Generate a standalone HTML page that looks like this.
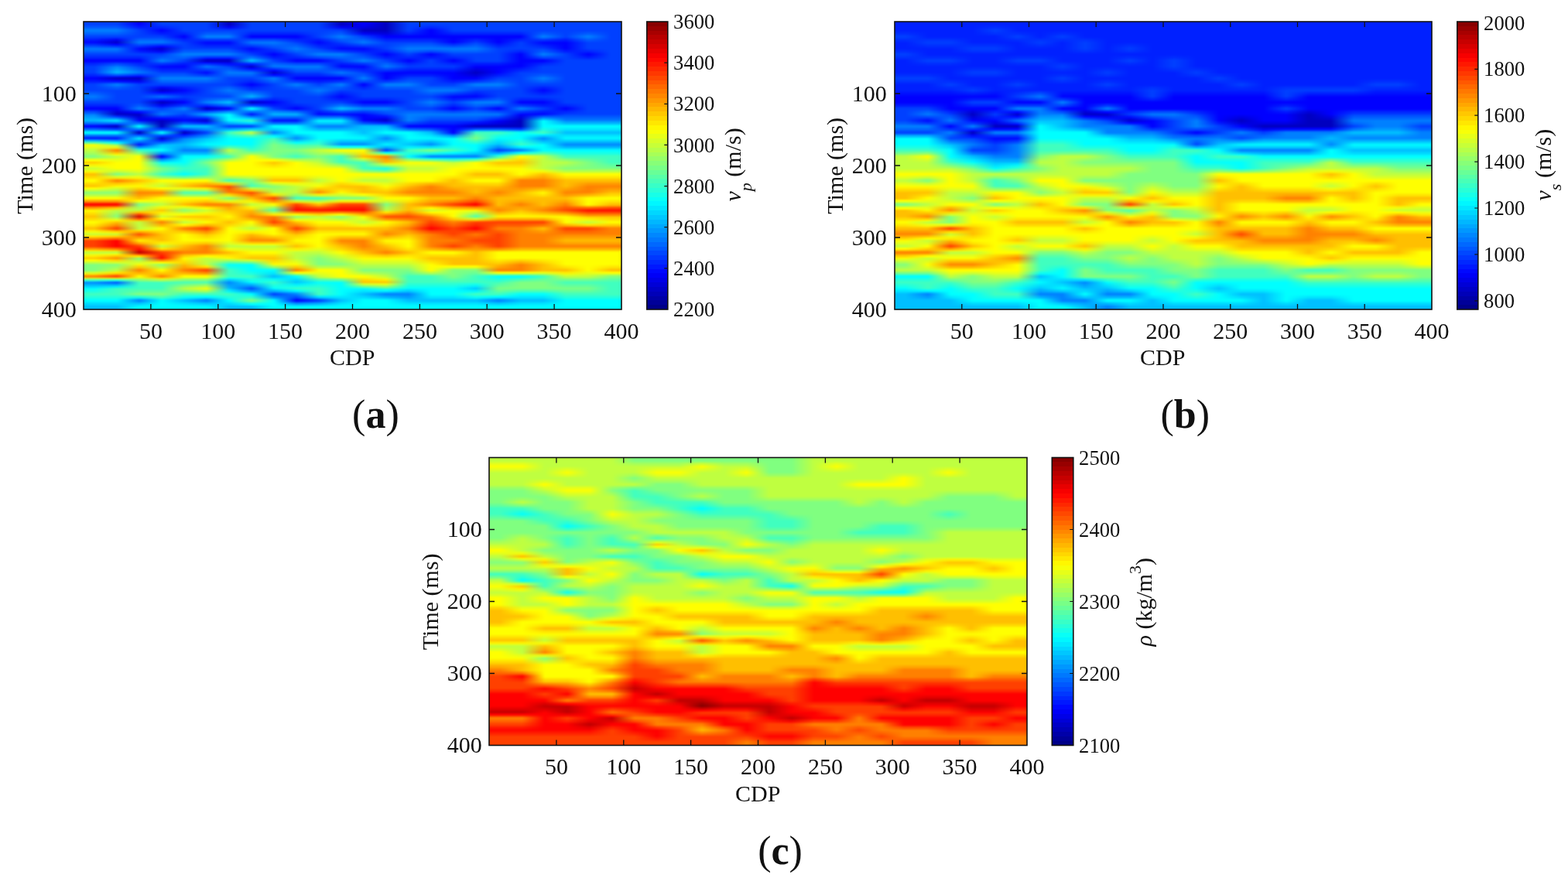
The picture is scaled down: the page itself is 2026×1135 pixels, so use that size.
<!DOCTYPE html><html><head><meta charset="utf-8"><style>
html,body{margin:0;padding:0;background:#fff;width:2026px;height:1135px;overflow:hidden}
.hm{position:absolute;overflow:hidden}
.hi{position:absolute}
.hi i{position:absolute;left:0;right:0;display:block}
svg{position:absolute;left:0;top:0}
text{font-family:"Liberation Serif","DejaVu Serif",serif;fill:#111}
</style></head><body>
<div class="hm" style="left:108px;top:28px;width:695px;height:372px"><div class="hi" style="left:-12px;top:-12px;width:719px;height:396px;filter:blur(1.3px)"><i style="top:0.00px;height:15.18px;background:linear-gradient(90deg,#0040ff 26px,#0040ff 55px,#00f 84px,#0040ff 113px,#0040ff 142px,#0040ff 171px,#0000c0 200px,#0040ff 229px,#0040ff 258px,#0040ff 287px,#0040ff 316px,#0000c0 345px,#00f 374px,#0000c0 403px,#0040ff 432px,#0040ff 461px,#0040ff 490px,#0040ff 519px,#0040ff 548px,#0040ff 577px,#0040ff 606px,#0040ff 635px,#0040ff 664px,#0040ff 693px)"></i><i style="top:14.58px;height:3.18px;background:linear-gradient(90deg,#0040ff 26px,#0040ff 55px,#00f 84px,#0040ff 113px,#0040ff 142px,#0040ff 171px,#0000c0 200px,#0040ff 229px,#0040ff 258px,#0040ff 287px,#0040ff 316px,#0000c0 345px,#00f 374px,#0000c0 403px,#0040ff 432px,#0040ff 461px,#0040ff 490px,#0040ff 519px,#0040ff 548px,#0040ff 577px,#0040ff 606px,#0040ff 635px,#0040ff 664px,#0040ff 693px)"></i><i style="top:17.17px;height:3.18px;background:linear-gradient(90deg,#05f 26px,#05f 55px,#0015ff 84px,#002bff 113px,#0040ff 142px,#0040ff 171px,#0000ea 200px,#0040ff 229px,#0040ff 258px,#0040ff 287px,#0040ff 316px,#0000ea 345px,#0000ea 374px,#0000c0 403px,#0040ff 432px,#002bff 461px,#0040ff 490px,#0040ff 519px,#0040ff 548px,#0040ff 577px,#0040ff 606px,#0040ff 635px,#0040ff 664px,#0040ff 693px)"></i><i style="top:19.75px;height:3.18px;background:linear-gradient(90deg,#006aff 26px,#006aff 55px,#002aff 84px,#0015ff 113px,#0040ff 142px,#0040ff 171px,#0015ff 200px,#0040ff 229px,#0040ff 258px,#0040ff 287px,#0040ff 316px,#0015ff 345px,#0000d5 374px,#0000c0 403px,#0040ff 432px,#0015ff 461px,#0040ff 490px,#0040ff 519px,#0040ff 548px,#0040ff 577px,#0040ff 606px,#0040ff 635px,#0040ff 664px,#0040ff 693px)"></i><i style="top:22.33px;height:3.18px;background:linear-gradient(90deg,#0080ff 26px,#0080ff 55px,#0040ff 84px,#00f 113px,#0040ff 142px,#0040ff 171px,#0040ff 200px,#0040ff 229px,#0040ff 258px,#0040ff 287px,#0040ff 316px,#0040ff 345px,#0000c0 374px,#0000c0 403px,#0040ff 432px,#00f 461px,#0040ff 490px,#0040ff 519px,#0040ff 548px,#0040ff 577px,#0040ff 606px,#0040ff 635px,#0040ff 664px,#0040ff 693px)"></i><i style="top:24.92px;height:3.18px;background:linear-gradient(90deg,#006aff 26px,#006aff 55px,#0040ff 84px,#0015ff 113px,#002aff 142px,#05f 171px,#05f 200px,#002aff 229px,#002aff 258px,#002aff 287px,#0040ff 316px,#05f 345px,#0000ea 374px,#0000d5 403px,#002aff 432px,#00f 461px,#002aff 490px,#002aff 519px,#002aff 548px,#002aff 577px,#05f 606px,#0040ff 635px,#05f 664px,#0040ff 693px)"></i><i style="top:27.50px;height:3.18px;background:linear-gradient(90deg,#05f 26px,#05f 55px,#0040ff 84px,#002aff 113px,#0015ff 142px,#006aff 171px,#006aff 200px,#0015ff 229px,#0015ff 258px,#0015ff 287px,#0040ff 316px,#006aff 345px,#0015ff 374px,#0000ea 403px,#0015ff 432px,#00f 461px,#0015ff 490px,#0015ff 519px,#0015ff 548px,#0015ff 577px,#006aff 606px,#0040ff 635px,#006aff 664px,#0040ff 693px)"></i><i style="top:30.08px;height:3.18px;background:linear-gradient(90deg,#0040ff 26px,#0040ff 55px,#0040ff 84px,#0040ff 113px,#00f 142px,#0080ff 171px,#0080ff 200px,#00f 229px,#00f 258px,#00f 287px,#0040ff 316px,#0080ff 345px,#0040ff 374px,#00f 403px,#00f 432px,#00f 461px,#00f 490px,#00f 519px,#00f 548px,#00f 577px,#0080ff 606px,#0040ff 635px,#0080ff 664px,#0040ff 693px)"></i><i style="top:32.67px;height:3.18px;background:linear-gradient(90deg,#002aff 26px,#0015ff 55px,#05f 84px,#05f 113px,#0015ff 142px,#05f 171px,#05f 200px,#002bff 229px,#002bff 258px,#0015ff 287px,#002aff 316px,#006aff 345px,#05f 374px,#0015ff 403px,#0015ff 432px,#0015ff 461px,#00f 490px,#0015ff 519px,#00f 548px,#0015ff 577px,#05f 606px,#002aff 635px,#006aff 664px,#0040ff 693px)"></i><i style="top:35.25px;height:3.18px;background:linear-gradient(90deg,#0015ff 26px,#0000ea 55px,#006aff 84px,#006aff 113px,#002aff 142px,#002bff 171px,#002bff 200px,#05f 229px,#05f 258px,#002aff 287px,#0015ff 316px,#05f 345px,#006aff 374px,#002aff 403px,#002aff 432px,#002aff 461px,#00f 490px,#002aff 519px,#00f 548px,#002aff 577px,#002bff 606px,#0015ff 635px,#05f 664px,#0040ff 693px)"></i><i style="top:37.83px;height:3.18px;background:linear-gradient(90deg,#00f 26px,#0000c0 55px,#0080ff 84px,#0080ff 113px,#0040ff 142px,#00f 171px,#00f 200px,#0080ff 229px,#0080ff 258px,#0040ff 287px,#00f 316px,#0040ff 345px,#0080ff 374px,#0040ff 403px,#0040ff 432px,#0040ff 461px,#00f 490px,#0040ff 519px,#00f 548px,#0040ff 577px,#00f 606px,#00f 635px,#0040ff 664px,#0040ff 693px)"></i><i style="top:40.42px;height:3.18px;background:linear-gradient(90deg,#002bff 26px,#00f 55px,#05f 84px,#0040ff 113px,#0040ff 142px,#0015ff 171px,#0015ff 200px,#05f 229px,#006aff 258px,#05f 287px,#0015ff 316px,#002aff 345px,#05f 374px,#0040ff 403px,#05f 432px,#05f 461px,#002bff 490px,#05f 519px,#0015ff 548px,#0040ff 577px,#0015ff 606px,#00f 635px,#0040ff 664px,#0040ff 693px)"></i><i style="top:43.00px;height:3.18px;background:linear-gradient(90deg,#05f 26px,#0040ff 55px,#002aff 84px,#00f 113px,#0040ff 142px,#002bff 171px,#002bff 200px,#002aff 229px,#05f 258px,#006aff 287px,#002bff 316px,#0015ff 345px,#002aff 374px,#0040ff 403px,#006aff 432px,#006aff 461px,#05f 490px,#006aff 519px,#002bff 548px,#0040ff 577px,#002bff 606px,#00f 635px,#0040ff 664px,#0040ff 693px)"></i><i style="top:45.58px;height:3.18px;background:linear-gradient(90deg,#0080ff 26px,#0080ff 55px,#00f 84px,#0000c0 113px,#0040ff 142px,#0040ff 171px,#0040ff 200px,#00f 229px,#0040ff 258px,#0080ff 287px,#0040ff 316px,#00f 345px,#00f 374px,#0040ff 403px,#0080ff 432px,#0080ff 461px,#0080ff 490px,#0080ff 519px,#0040ff 548px,#0040ff 577px,#0040ff 606px,#00f 635px,#0040ff 664px,#0040ff 693px)"></i><i style="top:48.17px;height:3.18px;background:linear-gradient(90deg,#006aff 26px,#006aff 55px,#0015ff 84px,#0000ea 113px,#05f 142px,#05f 171px,#05f 200px,#0015ff 229px,#002bff 258px,#006aff 287px,#05f 316px,#002aff 345px,#0015ff 374px,#002bff 403px,#006aff 432px,#05f 461px,#006aff 490px,#006aff 519px,#0040ff 548px,#002bff 577px,#05f 606px,#0015ff 635px,#002bff 664px,#0040ff 693px)"></i><i style="top:50.75px;height:3.18px;background:linear-gradient(90deg,#05f 26px,#05f 55px,#002bff 84px,#0015ff 113px,#006aff 142px,#006aff 171px,#006aff 200px,#002bff 229px,#0015ff 258px,#05f 287px,#006aff 316px,#05f 345px,#002bff 374px,#0015ff 403px,#05f 432px,#002aff 461px,#05f 490px,#05f 519px,#0040ff 548px,#0015ff 577px,#006aff 606px,#002bff 635px,#0015ff 664px,#0040ff 693px)"></i><i style="top:53.33px;height:3.18px;background:linear-gradient(90deg,#0040ff 26px,#0040ff 55px,#0040ff 84px,#0040ff 113px,#0080ff 142px,#0080ff 171px,#0080ff 200px,#0040ff 229px,#00f 258px,#0040ff 287px,#0080ff 316px,#0080ff 345px,#0040ff 374px,#00f 403px,#0040ff 432px,#00f 461px,#0040ff 490px,#0040ff 519px,#0040ff 548px,#00f 577px,#0080ff 606px,#0040ff 635px,#00f 664px,#0040ff 693px)"></i><i style="top:55.92px;height:3.18px;background:linear-gradient(90deg,#002bff 26px,#002bff 55px,#002bff 84px,#05f 113px,#006aff 142px,#0040ff 171px,#0040ff 200px,#006aff 229px,#0015ff 258px,#002bff 287px,#05f 316px,#006aff 345px,#05f 374px,#0015ff 403px,#002bff 432px,#0015ff 461px,#002bff 490px,#0040ff 519px,#0040ff 548px,#00f 577px,#05f 606px,#0040ff 635px,#0015ff 664px,#0040ff 693px)"></i><i style="top:58.50px;height:3.18px;background:linear-gradient(90deg,#0015ff 26px,#0015ff 55px,#0015ff 84px,#006aff 113px,#05f 142px,#00f 171px,#00f 200px,#0095ff 229px,#002bff 258px,#0015ff 287px,#002aff 316px,#05f 345px,#006aff 374px,#002bff 403px,#0015ff 432px,#002bff 461px,#0015ff 490px,#0040ff 519px,#0040ff 548px,#00f 577px,#002aff 606px,#0040ff 635px,#002bff 664px,#0040ff 693px)"></i><i style="top:61.08px;height:3.18px;background:linear-gradient(90deg,#00f 26px,#00f 55px,#00f 84px,#0080ff 113px,#0040ff 142px,#0000c0 171px,#0000c0 200px,#00bfff 229px,#0040ff 258px,#00f 287px,#00f 316px,#0040ff 345px,#0080ff 374px,#0040ff 403px,#00f 432px,#0040ff 461px,#00f 490px,#0040ff 519px,#0040ff 548px,#00f 577px,#00f 606px,#0040ff 635px,#0040ff 664px,#0040ff 693px)"></i><i style="top:63.67px;height:3.18px;background:linear-gradient(90deg,#0015ff 26px,#002aff 55px,#0015ff 84px,#05f 113px,#002bff 142px,#00f 171px,#0000ea 200px,#006aff 229px,#05f 258px,#002aff 287px,#002aff 316px,#002bff 345px,#05f 374px,#05f 403px,#0015ff 432px,#0040ff 461px,#0015ff 490px,#002bff 519px,#002bff 548px,#00f 577px,#0015ff 606px,#0040ff 635px,#0040ff 664px,#0040ff 693px)"></i><i style="top:66.25px;height:3.18px;background:linear-gradient(90deg,#002bff 26px,#05f 55px,#002bff 84px,#002aff 113px,#0015ff 142px,#0040ff 171px,#0015ff 200px,#0015ff 229px,#006aff 258px,#05f 287px,#05f 316px,#0015ff 345px,#002aff 374px,#006aff 403px,#002bff 432px,#0040ff 461px,#002bff 490px,#0015ff 519px,#0015ff 548px,#00f 577px,#002bff 606px,#0040ff 635px,#0040ff 664px,#0040ff 693px)"></i><i style="top:68.83px;height:3.18px;background:linear-gradient(90deg,#0040ff 26px,#0080ff 55px,#0040ff 84px,#00f 113px,#00f 142px,#0080ff 171px,#0040ff 200px,#0000c0 229px,#0080ff 258px,#0080ff 287px,#0080ff 316px,#00f 345px,#00f 374px,#0080ff 403px,#0040ff 432px,#0040ff 461px,#0040ff 490px,#00f 519px,#00f 548px,#00f 577px,#0040ff 606px,#0040ff 635px,#0040ff 664px,#0040ff 693px)"></i><i style="top:71.42px;height:3.18px;background:linear-gradient(90deg,#0040ff 26px,#0095ff 55px,#05f 84px,#0015ff 113px,#0015ff 142px,#05f 171px,#05f 200px,#00f 229px,#0040ff 258px,#006aff 287px,#006aff 316px,#002aff 345px,#0015ff 374px,#05f 403px,#002bff 432px,#002bff 461px,#002bff 490px,#0000ea 519px,#00f 548px,#0015ff 577px,#0040ff 606px,#0040ff 635px,#0040ff 664px,#0040ff 693px)"></i><i style="top:74.00px;height:3.18px;background:linear-gradient(90deg,#0040ff 26px,#0af 55px,#006aff 84px,#002aff 113px,#002aff 142px,#002bff 171px,#006aff 200px,#0040ff 229px,#00f 258px,#05f 287px,#05f 316px,#05f 345px,#002aff 374px,#002bff 403px,#0015ff 432px,#0015ff 461px,#0015ff 490px,#0000d5 519px,#00f 548px,#002aff 577px,#0040ff 606px,#0040ff 635px,#0040ff 664px,#0040ff 693px)"></i><i style="top:76.58px;height:3.18px;background:linear-gradient(90deg,#0040ff 26px,#00bfff 55px,#0080ff 84px,#0040ff 113px,#0040ff 142px,#00f 171px,#0080ff 200px,#0080ff 229px,#0000c0 258px,#0040ff 287px,#0040ff 316px,#0080ff 345px,#0040ff 374px,#00f 403px,#00f 432px,#00f 461px,#00f 490px,#0000c0 519px,#00f 548px,#0040ff 577px,#0040ff 606px,#0040ff 635px,#0040ff 664px,#0040ff 693px)"></i><i style="top:79.17px;height:3.18px;background:linear-gradient(90deg,#002aff 26px,#006aff 55px,#0040ff 84px,#05f 113px,#05f 142px,#002bff 171px,#006aff 200px,#006aff 229px,#00f 258px,#002aff 287px,#002aff 316px,#05f 345px,#05f 374px,#00f 403px,#0015ff 432px,#0015ff 461px,#00f 490px,#0000d5 519px,#0015ff 548px,#0040ff 577px,#05f 606px,#0040ff 635px,#0040ff 664px,#0040ff 693px)"></i><i style="top:81.75px;height:3.18px;background:linear-gradient(90deg,#0015ff 26px,#0015ff 55px,#00f 84px,#006aff 113px,#006aff 142px,#05f 171px,#05f 200px,#05f 229px,#0040ff 258px,#0015ff 287px,#0015ff 316px,#002bff 345px,#006aff 374px,#00f 403px,#002aff 432px,#002aff 461px,#00f 490px,#0000ea 519px,#002aff 548px,#0040ff 577px,#006aff 606px,#0040ff 635px,#0040ff 664px,#0040ff 693px)"></i><i style="top:84.33px;height:3.18px;background:linear-gradient(90deg,#00f 26px,#0000c0 55px,#0000c0 84px,#0080ff 113px,#0080ff 142px,#0080ff 171px,#0040ff 200px,#0040ff 229px,#0080ff 258px,#00f 287px,#00f 316px,#00f 345px,#0080ff 374px,#00f 403px,#0040ff 432px,#0040ff 461px,#00f 490px,#00f 519px,#0040ff 548px,#0040ff 577px,#0080ff 606px,#0040ff 635px,#0040ff 664px,#0040ff 693px)"></i><i style="top:86.92px;height:3.18px;background:linear-gradient(90deg,#0015ff 26px,#00f 55px,#0000ea 84px,#006aff 113px,#006aff 142px,#006aff 171px,#0040ff 200px,#002aff 229px,#006aff 258px,#002bff 287px,#0015ff 316px,#002bff 345px,#05f 374px,#002bff 403px,#05f 432px,#0040ff 461px,#0015ff 490px,#002bff 519px,#05f 548px,#0040ff 577px,#006aff 606px,#0040ff 635px,#0040ff 664px,#0040ff 693px)"></i><i style="top:89.50px;height:3.18px;background:linear-gradient(90deg,#002aff 26px,#0040ff 55px,#0015ff 84px,#05f 113px,#05f 142px,#05f 171px,#0040ff 200px,#0015ff 229px,#05f 258px,#05f 287px,#002aff 316px,#05f 345px,#002bff 374px,#05f 403px,#006aff 432px,#0040ff 461px,#002aff 490px,#05f 519px,#006aff 548px,#0040ff 577px,#05f 606px,#0040ff 635px,#0040ff 664px,#0040ff 693px)"></i><i style="top:92.08px;height:3.18px;background:linear-gradient(90deg,#0040ff 26px,#0080ff 55px,#0040ff 84px,#0040ff 113px,#0040ff 142px,#0040ff 171px,#0040ff 200px,#00f 229px,#0040ff 258px,#0080ff 287px,#0040ff 316px,#0080ff 345px,#00f 374px,#0080ff 403px,#0080ff 432px,#0040ff 461px,#0040ff 490px,#0080ff 519px,#0080ff 548px,#0040ff 577px,#0040ff 606px,#0040ff 635px,#0040ff 664px,#0040ff 693px)"></i><i style="top:94.67px;height:3.18px;background:linear-gradient(90deg,#0040ff 26px,#006aff 55px,#0040ff 84px,#0015ff 113px,#002aff 142px,#0040ff 171px,#05f 200px,#0015ff 229px,#0040ff 258px,#006aff 287px,#05f 316px,#006aff 345px,#0015ff 374px,#006aff 403px,#006aff 432px,#05f 461px,#05f 490px,#006aff 519px,#006aff 548px,#0040ff 577px,#002aff 606px,#0040ff 635px,#0040ff 664px,#0040ff 693px)"></i><i style="top:97.25px;height:3.18px;background:linear-gradient(90deg,#0040ff 26px,#05f 55px,#0040ff 84px,#0000ea 113px,#0015ff 142px,#0040ff 171px,#006aff 200px,#002aff 229px,#0040ff 258px,#05f 287px,#006aff 316px,#05f 345px,#002aff 374px,#05f 403px,#05f 432px,#006aff 461px,#006aff 490px,#05f 519px,#05f 548px,#0040ff 577px,#0015ff 606px,#0040ff 635px,#0040ff 664px,#0040ff 693px)"></i><i style="top:99.83px;height:3.18px;background:linear-gradient(90deg,#0040ff 26px,#0040ff 55px,#0040ff 84px,#0000c0 113px,#00f 142px,#0040ff 171px,#0080ff 200px,#0040ff 229px,#0040ff 258px,#0040ff 287px,#0080ff 316px,#0040ff 345px,#0040ff 374px,#0040ff 403px,#0040ff 432px,#0080ff 461px,#0080ff 490px,#0040ff 519px,#0040ff 548px,#0040ff 577px,#00f 606px,#0040ff 635px,#0040ff 664px,#0040ff 693px)"></i><i style="top:102.42px;height:3.18px;background:linear-gradient(90deg,#05f 26px,#0040ff 55px,#0040ff 84px,#00f 113px,#0015ff 142px,#0040ff 171px,#006aff 200px,#006aff 229px,#0040ff 258px,#0040ff 287px,#006aff 316px,#002aff 345px,#0040ff 374px,#0040ff 403px,#0040ff 432px,#006aff 461px,#05f 490px,#002aff 519px,#0040ff 548px,#0040ff 577px,#0015ff 606px,#0040ff 635px,#0040ff 664px,#0040ff 693px)"></i><i style="top:105.00px;height:3.18px;background:linear-gradient(90deg,#006aff 26px,#0040ff 55px,#0040ff 84px,#0040ff 113px,#002aff 142px,#0040ff 171px,#05f 200px,#0095ff 229px,#0040ff 258px,#0040ff 287px,#05f 316px,#0015ff 345px,#0040ff 374px,#0040ff 403px,#0040ff 432px,#05f 461px,#002bff 490px,#0015ff 519px,#0040ff 548px,#0040ff 577px,#002aff 606px,#0040ff 635px,#0040ff 664px,#0040ff 693px)"></i><i style="top:107.58px;height:3.18px;background:linear-gradient(90deg,#0080ff 26px,#0040ff 55px,#0040ff 84px,#0080ff 113px,#0040ff 142px,#0040ff 171px,#0040ff 200px,#00bfff 229px,#0040ff 258px,#0040ff 287px,#0040ff 316px,#00f 345px,#0040ff 374px,#0040ff 403px,#0040ff 432px,#0040ff 461px,#00f 490px,#00f 519px,#0040ff 548px,#0040ff 577px,#0040ff 606px,#0040ff 635px,#0040ff 664px,#0040ff 693px)"></i><i style="top:110.17px;height:3.18px;background:linear-gradient(90deg,#006aff 26px,#0040ff 55px,#0040ff 84px,#0040ff 113px,#002aff 142px,#05f 171px,#006aff 200px,#006aff 229px,#002aff 258px,#0040ff 287px,#0040ff 316px,#0015ff 345px,#002aff 374px,#002aff 403px,#0040ff 432px,#05f 461px,#0015ff 490px,#002bff 519px,#05f 548px,#002aff 577px,#002aff 606px,#0040ff 635px,#0040ff 664px,#0040ff 693px)"></i><i style="top:112.75px;height:3.18px;background:linear-gradient(90deg,#05f 26px,#0040ff 55px,#0040ff 84px,#00f 113px,#0015ff 142px,#006aff 171px,#0095ff 200px,#0015ff 229px,#0015ff 258px,#0040ff 287px,#0040ff 316px,#002aff 345px,#0015ff 374px,#0015ff 403px,#0040ff 432px,#006aff 461px,#002aff 490px,#05f 519px,#006aff 548px,#0015ff 577px,#0015ff 606px,#0040ff 635px,#0040ff 664px,#0040ff 693px)"></i><i style="top:115.33px;height:3.18px;background:linear-gradient(90deg,#0040ff 26px,#0040ff 55px,#0040ff 84px,#0000c0 113px,#00f 142px,#0080ff 171px,#00bfff 200px,#0000c0 229px,#00f 258px,#0040ff 287px,#0040ff 316px,#0040ff 345px,#00f 374px,#00f 403px,#0040ff 432px,#0080ff 461px,#0040ff 490px,#0080ff 519px,#0080ff 548px,#00f 577px,#00f 606px,#0040ff 635px,#0040ff 664px,#0040ff 693px)"></i><i style="top:117.92px;height:3.18px;background:linear-gradient(90deg,#002aff 26px,#002aff 55px,#05f 84px,#0000ea 113px,#002bff 142px,#0040ff 171px,#007fff 200px,#002bff 229px,#0015ff 258px,#002aff 287px,#0040ff 316px,#006aff 345px,#002bff 374px,#002bff 403px,#0040ff 432px,#006aff 461px,#002aff 490px,#006aff 519px,#05f 548px,#002bff 577px,#0015ff 606px,#002aff 635px,#0040ff 664px,#0040ff 693px)"></i><i style="top:120.50px;height:3.18px;background:linear-gradient(90deg,#0015ff 26px,#0015ff 55px,#006aff 84px,#0015ff 113px,#05f 142px,#00f 171px,#0040ff 200px,#0095ff 229px,#002aff 258px,#0015ff 287px,#0040ff 316px,#0095ff 345px,#05f 374px,#05f 403px,#0040ff 432px,#05f 461px,#0015ff 490px,#05f 519px,#002bff 548px,#05f 577px,#002aff 606px,#0015ff 635px,#0040ff 664px,#0040ff 693px)"></i><i style="top:123.08px;height:3.18px;background:linear-gradient(90deg,#00f 26px,#00f 55px,#0080ff 84px,#0040ff 113px,#0080ff 142px,#0000c0 171px,#00f 200px,#0ff 229px,#0040ff 258px,#00f 287px,#0040ff 316px,#00bfff 345px,#0080ff 374px,#0080ff 403px,#0040ff 432px,#0040ff 461px,#00f 490px,#0040ff 519px,#00f 548px,#0080ff 577px,#0040ff 606px,#00f 635px,#0040ff 664px,#0040ff 693px)"></i><i style="top:125.67px;height:3.18px;background:linear-gradient(90deg,#002bff 26px,#0000ea 55px,#0040ff 84px,#05f 113px,#006aff 142px,#0015ff 171px,#05f 200px,#0af 229px,#006aff 258px,#0040ff 287px,#002aff 316px,#007fff 345px,#05f 374px,#006aff 403px,#05f 432px,#05f 461px,#002bff 490px,#05f 519px,#002bff 548px,#05f 577px,#002aff 606px,#0015ff 635px,#0040ff 664px,#0040ff 693px)"></i><i style="top:128.25px;height:3.18px;background:linear-gradient(90deg,#05f 26px,#0000d5 55px,#00f 84px,#006aff 113px,#05f 142px,#006aff 171px,#0af 200px,#05f 229px,#0095ff 258px,#007fff 287px,#0015ff 316px,#0040ff 345px,#002bff 374px,#05f 403px,#006aff 432px,#006aff 461px,#05f 490px,#006aff 519px,#05f 548px,#002bff 577px,#0015ff 606px,#002aff 635px,#0040ff 664px,#0040ff 693px)"></i><i style="top:130.83px;height:3.18px;background:linear-gradient(90deg,#0080ff 26px,#0000c0 55px,#0000c0 84px,#0080ff 113px,#0040ff 142px,#00bfff 171px,#0ff 200px,#00f 229px,#00bfff 258px,#00bfff 287px,#00f 316px,#00f 345px,#00f 374px,#0040ff 403px,#0080ff 432px,#0080ff 461px,#0080ff 490px,#0080ff 519px,#0080ff 548px,#00f 577px,#00f 606px,#0040ff 635px,#0040ff 664px,#0040ff 693px)"></i><i style="top:133.42px;height:3.18px;background:linear-gradient(90deg,#0095ff 26px,#002bff 55px,#0000d5 84px,#0040ff 113px,#002aff 142px,#006aff 171px,#0ff 200px,#006aff 229px,#007fff 258px,#007fff 287px,#05f 316px,#05f 345px,#00f 374px,#0015ff 403px,#0080ff 432px,#006aff 461px,#006aff 490px,#006aff 519px,#05f 548px,#0000ea 577px,#05f 606px,#05f 635px,#05f 664px,#05f 693px)"></i><i style="top:136.00px;height:3.18px;background:linear-gradient(90deg,#0af 26px,#0095ff 55px,#0000ea 84px,#00f 113px,#0015ff 142px,#0015ff 171px,#0ff 200px,#00d5ff 229px,#0040ff 258px,#0040ff 287px,#0af 316px,#0af 345px,#00f 374px,#0000ea 403px,#0080ff 432px,#05f 461px,#05f 490px,#05f 519px,#002aff 548px,#0000d5 577px,#0af 606px,#006aff 635px,#006aff 664px,#006aff 693px)"></i><i style="top:138.58px;height:3.18px;background:linear-gradient(90deg,#00bfff 26px,#0ff 55px,#00f 84px,#0000c0 113px,#00f 142px,#0000c0 171px,#0ff 200px,#40ffbf 229px,#00f 258px,#00f 287px,#0ff 316px,#0ff 345px,#00f 374px,#0000c0 403px,#0080ff 432px,#0040ff 461px,#0040ff 490px,#0040ff 519px,#00f 548px,#0000c0 577px,#0ff 606px,#0080ff 635px,#0080ff 664px,#0080ff 693px)"></i><i style="top:141.17px;height:3.18px;background:linear-gradient(90deg,#0080ff 26px,#0095ff 55px,#05f 84px,#0000c0 113px,#0040ff 142px,#0015ff 171px,#00bfff 200px,#00eaff 229px,#05f 258px,#05f 287px,#00d5ff 316px,#00d5ff 345px,#0040ff 374px,#0015ff 403px,#05f 432px,#002bff 461px,#002bff 490px,#0015ff 519px,#0000ea 548px,#0000c0 577px,#0ff 606px,#0af 635px,#0af 664px,#0af 693px)"></i><i style="top:143.75px;height:3.18px;background:linear-gradient(90deg,#0040ff 26px,#002aff 55px,#0af 84px,#0000c0 113px,#0080ff 142px,#006aff 171px,#007fff 200px,#0095ff 229px,#0af 258px,#0af 287px,#0af 316px,#0af 345px,#0080ff 374px,#006aff 403px,#002aff 432px,#0015ff 461px,#0015ff 490px,#0000ea 519px,#0000d5 548px,#0000c0 577px,#0ff 606px,#00d5ff 635px,#00d5ff 664px,#00d5ff 693px)"></i><i style="top:146.33px;height:3.18px;background:linear-gradient(90deg,#00f 26px,#0000c0 55px,#0ff 84px,#0000c0 113px,#00bfff 142px,#00bfff 171px,#0040ff 200px,#0040ff 229px,#0ff 258px,#0ff 287px,#0080ff 316px,#0080ff 345px,#00bfff 374px,#00bfff 403px,#00f 432px,#00f 461px,#00f 490px,#0000c0 519px,#0000c0 548px,#0000c0 577px,#0ff 606px,#0ff 635px,#0ff 664px,#0ff 693px)"></i><i style="top:148.92px;height:3.18px;background:linear-gradient(90deg,#05f 26px,#002aff 55px,#0095ff 84px,#002aff 113px,#006aff 142px,#0095ff 171px,#0095ff 200px,#00bfff 229px,#00d5ff 258px,#0ff 287px,#0af 316px,#0af 345px,#00bfff 374px,#00d4ff 403px,#05f 432px,#0040ff 461px,#00f 490px,#0040ff 519px,#0040ff 548px,#002aff 577px,#15ffea 606px,#00eaff 635px,#00eaff 664px,#00eaff 693px)"></i><i style="top:151.50px;height:3.18px;background:linear-gradient(90deg,#0af 26px,#0095ff 55px,#002aff 84px,#0095ff 113px,#0015ff 142px,#006aff 171px,#00eaff 200px,#40ffbf 229px,#0af 258px,#0ff 287px,#00d5ff 316px,#00d5ff 345px,#00bfff 374px,#00eaff 403px,#0af 432px,#0080ff 461px,#00f 490px,#00bfff 519px,#00bfff 548px,#0095ff 577px,#2bffd4 606px,#00d4ff 635px,#00d4ff 664px,#00d4ff 693px)"></i><i style="top:154.08px;height:3.18px;background:linear-gradient(90deg,#0ff 26px,#0ff 55px,#0000c0 84px,#0ff 113px,#0000c0 142px,#0040ff 171px,#40ffbf 200px,#bfff40 229px,#0080ff 258px,#0ff 287px,#0ff 316px,#0ff 345px,#00bfff 374px,#0ff 403px,#0ff 432px,#00bfff 461px,#00f 490px,#40ffbf 519px,#40ffbf 548px,#0ff 577px,#40ffbf 606px,#00bfff 635px,#00bfff 664px,#00bfff 693px)"></i><i style="top:156.67px;height:3.18px;background:linear-gradient(90deg,#0af 26px,#0af 55px,#002aff 84px,#0095ff 113px,#00f 142px,#006aff 171px,#2bffd4 200px,#80ff7f 229px,#00bfff 258px,#00d5ff 287px,#0ff 316px,#0ff 345px,#00d4ff 374px,#00d5ff 403px,#0ff 432px,#00d4ff 461px,#05f 490px,#5fa 519px,#2bffd4 548px,#0ff 577px,#0ff 606px,#00d4ff 635px,#00d4ff 664px,#00d4ff 693px)"></i><i style="top:159.25px;height:3.18px;background:linear-gradient(90deg,#05f 26px,#05f 55px,#0095ff 84px,#002aff 113px,#0040ff 142px,#0095ff 171px,#15ffea 200px,#40ffbf 229px,#0ff 258px,#0af 287px,#0ff 316px,#0ff 345px,#00eaff 374px,#0af 403px,#0ff 432px,#00eaff 461px,#0af 490px,#6aff95 519px,#15ffea 548px,#0ff 577px,#00bfff 606px,#00eaff 635px,#00eaff 664px,#00eaff 693px)"></i><i style="top:161.83px;height:3.18px;background:linear-gradient(90deg,#00f 26px,#00f 55px,#0ff 84px,#0000c0 113px,#0080ff 142px,#00bfff 171px,#0ff 200px,#0ff 229px,#40ffbf 258px,#0080ff 287px,#0ff 316px,#0ff 345px,#0ff 374px,#0080ff 403px,#0ff 432px,#0ff 461px,#0ff 490px,#80ff80 519px,#0ff 548px,#0ff 577px,#0080ff 606px,#0ff 635px,#0ff 664px,#0ff 693px)"></i><i style="top:164.42px;height:3.18px;background:linear-gradient(90deg,#0af 26px,#007fff 55px,#0af 84px,#0015ff 113px,#0095ff 142px,#00d4ff 171px,#0ff 200px,#0ff 229px,#5fa 258px,#00bfff 287px,#15ffea 316px,#00d5ff 345px,#00d5ff 374px,#0af 403px,#00eaff 432px,#00d5ff 461px,#0ff 490px,#5fa 519px,#00eaff 548px,#15ffea 577px,#0af 606px,#00d5ff 635px,#00d5ff 664px,#00d5ff 693px)"></i><i style="top:167.00px;height:3.18px;background:linear-gradient(90deg,#5fa 26px,#0ff 55px,#05f 84px,#006aff 113px,#0af 142px,#00eaff 171px,#0ff 200px,#0ff 229px,#6aff95 258px,#0ff 287px,#2bffd4 316px,#0af 345px,#0af 374px,#00d5ff 403px,#00d4ff 432px,#0af 461px,#0ff 490px,#2affd5 519px,#00d4ff 548px,#2bffd4 577px,#00d5ff 606px,#0af 635px,#0af 664px,#0af 693px)"></i><i style="top:169.58px;height:3.18px;background:linear-gradient(90deg,#ff0 26px,#80ff80 55px,#00f 84px,#00bfff 113px,#00bfff 142px,#0ff 171px,#0ff 200px,#0ff 229px,#80ff80 258px,#40ffbf 287px,#40ffbf 316px,#0080ff 345px,#0080ff 374px,#0ff 403px,#00bfff 432px,#0080ff 461px,#0ff 490px,#0ff 519px,#00bfff 548px,#40ffbf 577px,#0ff 606px,#0080ff 635px,#0080ff 664px,#0080ff 693px)"></i><i style="top:172.17px;height:3.18px;background:linear-gradient(90deg,#eaff15 26px,#d4ff2b 55px,#006aff 84px,#00d4ff 113px,#0af 142px,#00d5ff 171px,#40ffbf 200px,#15ffea 229px,#80ff80 258px,#5fa 287px,#6aff95 316px,#0ff 345px,#0ff 374px,#00bfff 403px,#00eaff 432px,#00d4ff 461px,#15ffea 490px,#0ff 519px,#0095ff 548px,#0ff 577px,#0ff 606px,#0af 635px,#0af 664px,#0af 693px)"></i><i style="top:174.75px;height:3.18px;background:linear-gradient(90deg,#d4ff2b 26px,#ffd400 55px,#00d5ff 84px,#00eaff 113px,#0095ff 142px,#0af 171px,#80ff7f 200px,#2bffd4 229px,#80ff80 258px,#6aff95 287px,#95ff6a 316px,#80ff7f 345px,#80ff7f 374px,#007fff 403px,#15ffea 432px,#2bffd4 461px,#2bffd4 490px,#0ff 519px,#006aff 548px,#00bfff 577px,#0ff 606px,#00d5ff 635px,#00d5ff 664px,#00d5ff 693px)"></i><i style="top:177.33px;height:3.18px;background:linear-gradient(90deg,#bfff40 26px,#ff8000 55px,#40ffbf 84px,#0ff 113px,#0080ff 142px,#0080ff 171px,#bfff40 200px,#40ffbf 229px,#80ff80 258px,#80ff80 287px,#bfff40 316px,#ff0 345px,#ff0 374px,#0040ff 403px,#40ffbf 432px,#80ff80 461px,#40ffbf 490px,#0ff 519px,#0040ff 548px,#0080ff 577px,#0ff 606px,#0ff 635px,#0ff 664px,#0ff 693px)"></i><i style="top:179.92px;height:3.18px;background:linear-gradient(90deg,#af5 26px,#ffbf00 55px,#7fff80 84px,#0af 113px,#0af 142px,#0af 171px,#95ff6a 200px,#7fff80 229px,#80ff80 258px,#6aff95 287px,#af5 316px,#bfff40 345px,#ffea00 374px,#0ff 403px,#2bffd4 432px,#2bffd4 461px,#0ff 490px,#00d5ff 519px,#0095ff 548px,#0ff 577px,#40ffbf 606px,#15ffea 635px,#15ffea 664px,#15ffea 693px)"></i><i style="top:182.50px;height:3.18px;background:linear-gradient(90deg,#95ff6a 26px,#ff0 55px,#bfff40 84px,#05f 113px,#00d5ff 142px,#00d5ff 171px,#6aff95 200px,#bfff40 229px,#80ff80 258px,#5fa 287px,#95ff6a 316px,#7fff80 345px,#ffd400 374px,#bfff40 403px,#15ffea 432px,#00d4ff 461px,#00bfff 490px,#0af 519px,#00eaff 548px,#80ff7f 577px,#80ff7f 606px,#2bffd4 635px,#2bffd4 664px,#2bffd4 693px)"></i><i style="top:185.08px;height:3.18px;background:linear-gradient(90deg,#80ff80 26px,#bfff40 55px,#ff0 84px,#00f 113px,#0ff 142px,#0ff 171px,#40ffbf 200px,#ff0 229px,#80ff80 258px,#40ffbf 287px,#80ff80 316px,#40ffbf 345px,#ffbf00 374px,#ff8000 403px,#0ff 432px,#0080ff 461px,#0080ff 490px,#0080ff 519px,#40ffbf 548px,#ff0 577px,#bfff40 606px,#40ffbf 635px,#40ffbf 664px,#40ffbf 693px)"></i><i style="top:187.67px;height:3.18px;background:linear-gradient(90deg,#bfff40 26px,#d4ff2b 55px,#ff0 84px,#05f 113px,#0ff 142px,#2affd5 171px,#7fff80 200px,#ff0 229px,#bfff40 258px,#7fff80 287px,#95ff6a 316px,#40ffbf 345px,#eaff15 374px,#ff9500 403px,#5fa 432px,#0ff 461px,#00eaff 490px,#0ff 519px,#95ff6a 548px,#ffea00 577px,#bfff40 606px,#6aff95 635px,#5fa 664px,#40ffbf 693px)"></i><i style="top:190.25px;height:3.18px;background:linear-gradient(90deg,#ff0 26px,#eaff15 55px,#ff0 84px,#0af 113px,#0ff 142px,#5fa 171px,#bfff40 200px,#ff0 229px,#ff0 258px,#bfff40 287px,#af5 316px,#40ffbf 345px,#95ff6a 374px,#fa0 403px,#af5 432px,#80ff7f 461px,#5fa 490px,#80ff7f 519px,#eaff15 548px,#ffd400 577px,#bfff40 606px,#95ff6a 635px,#6aff95 664px,#40ffbf 693px)"></i><i style="top:192.83px;height:3.18px;background:linear-gradient(90deg,#ffbf00 26px,#ff0 55px,#ff0 84px,#0ff 113px,#0ff 142px,#80ff80 171px,#ff0 200px,#ff0 229px,#ffbf00 258px,#ff0 287px,#bfff40 316px,#40ffbf 345px,#40ffbf 374px,#ffbf00 403px,#ff0 432px,#ff0 461px,#bfff40 490px,#ff0 519px,#ffbf00 548px,#ffbf00 577px,#bfff40 606px,#bfff40 635px,#80ff80 664px,#40ffbf 693px)"></i><i style="top:195.42px;height:3.18px;background:linear-gradient(90deg,#ffea00 26px,#ff0 55px,#ff0 84px,#2affd5 113px,#15ffea 142px,#6aff95 171px,#ff0 200px,#ff0 229px,#ffd400 258px,#ff0 287px,#d4ff2b 316px,#7fff80 345px,#40ffbf 374px,#d5ff2a 403px,#eaff15 432px,#eaff15 461px,#d4ff2b 490px,#ff0 519px,#ffd400 548px,#ffd400 577px,#bfff40 606px,#af5 635px,#80ff80 664px,#5fa 693px)"></i><i style="top:198.00px;height:3.18px;background:linear-gradient(90deg,#eaff15 26px,#ff0 55px,#ff0 84px,#5fa 113px,#2bffd4 142px,#5fa 171px,#ff0 200px,#ff0 229px,#ffea00 258px,#ff0 287px,#eaff15 316px,#bfff40 345px,#40ffbf 374px,#6aff95 403px,#d4ff2b 432px,#d4ff2b 461px,#eaff15 490px,#ff0 519px,#ffea00 548px,#ffea00 577px,#bfff40 606px,#95ff6a 635px,#80ff80 664px,#6aff95 693px)"></i><i style="top:200.58px;height:3.18px;background:linear-gradient(90deg,#bfff40 26px,#ff0 55px,#ff0 84px,#80ff80 113px,#40ffbf 142px,#40ffbf 171px,#ff0 200px,#ff0 229px,#ff0 258px,#ff0 287px,#ff0 316px,#ff0 345px,#40ffbf 374px,#0ff 403px,#bfff40 432px,#bfff40 461px,#ff0 490px,#ff0 519px,#ff0 548px,#ff0 577px,#bfff40 606px,#80ff80 635px,#80ff80 664px,#80ff80 693px)"></i><i style="top:203.17px;height:3.18px;background:linear-gradient(90deg,#eaff15 26px,#d5ff2a 55px,#eaff15 84px,#6aff95 113px,#2bffd4 142px,#40ffbf 171px,#ff0 200px,#ff0 229px,#ff0 258px,#ff0 287px,#ff0 316px,#ff0 345px,#7fff80 374px,#5fa 403px,#d4ff2b 432px,#d4ff2b 461px,#ff0 490px,#ffea00 519px,#ffea00 548px,#ff0 577px,#eaff15 606px,#af5 635px,#af5 664px,#af5 693px)"></i><i style="top:205.75px;height:3.18px;background:linear-gradient(90deg,#ffea00 26px,#af5 55px,#d4ff2b 84px,#5fa 113px,#15ffea 142px,#40ffbf 171px,#ff0 200px,#ff0 229px,#ff0 258px,#ff0 287px,#ff0 316px,#ff0 345px,#bfff40 374px,#af5 403px,#eaff15 432px,#eaff15 461px,#ff0 490px,#ffd400 519px,#ffd400 548px,#ff0 577px,#ffea00 606px,#d5ff2a 635px,#d5ff2a 664px,#d5ff2a 693px)"></i><i style="top:208.33px;height:3.18px;background:linear-gradient(90deg,#ffbf00 26px,#80ff80 55px,#bfff40 84px,#40ffbf 113px,#0ff 142px,#40ffbf 171px,#ff0 200px,#ff0 229px,#ff0 258px,#ff0 287px,#ff0 316px,#ff0 345px,#ff0 374px,#ff0 403px,#ff0 432px,#ff0 461px,#ff0 490px,#ffbf00 519px,#ffbf00 548px,#ff0 577px,#ffbf00 606px,#ff0 635px,#ff0 664px,#ff0 693px)"></i><i style="top:210.92px;height:3.18px;background:linear-gradient(90deg,#ffd400 26px,#d4ff2b 55px,#eaff15 84px,#7fff80 113px,#5fa 142px,#7fff80 171px,#bfff40 200px,#d5ff2a 229px,#ffea00 258px,#ffea00 287px,#eaff15 316px,#ff0 345px,#eaff15 374px,#eaff15 403px,#ff0 432px,#ff0 461px,#ffea00 490px,#ffd400 519px,#ffd400 548px,#ffd500 577px,#fa0 606px,#ffea00 635px,#ffea00 664px,#ffea00 693px)"></i><i style="top:213.50px;height:3.18px;background:linear-gradient(90deg,#ffea00 26px,#ffd400 55px,#ffea00 84px,#bfff40 113px,#af5 142px,#bfff40 171px,#7fff80 200px,#af5 229px,#ffd400 258px,#ffd400 287px,#d4ff2b 316px,#ff0 345px,#d4ff2b 374px,#d4ff2b 403px,#ff0 432px,#ff0 461px,#ffd400 490px,#ffea00 519px,#ffea00 548px,#fa0 577px,#ff9500 606px,#ffd400 635px,#ffd400 664px,#ffd400 693px)"></i><i style="top:216.08px;height:3.18px;background:linear-gradient(90deg,#ff0 26px,#ff8000 55px,#ffbf00 84px,#ff0 113px,#ff0 142px,#ff0 171px,#40ffbf 200px,#80ff80 229px,#ffbf00 258px,#ffbf00 287px,#bfff40 316px,#ff0 345px,#bfff40 374px,#bfff40 403px,#ff0 432px,#ff0 461px,#ffbf00 490px,#ff0 519px,#ff0 548px,#ff8000 577px,#ff8000 606px,#ffbf00 635px,#ffbf00 664px,#ffbf00 693px)"></i><i style="top:218.67px;height:3.18px;background:linear-gradient(90deg,#ffea00 26px,#fa0 55px,#ffd400 84px,#eaff15 113px,#ffea00 142px,#ffd500 171px,#bfff40 200px,#6aff95 229px,#ff0 258px,#ffea00 287px,#d4ff2b 316px,#ffea00 345px,#eaff15 374px,#d4ff2b 403px,#ffea00 432px,#ffd500 461px,#ffbf00 490px,#ffea00 519px,#ffea00 548px,#ff8000 577px,#ff8000 606px,#ffbf00 635px,#fa0 664px,#fa0 693px)"></i><i style="top:221.25px;height:3.18px;background:linear-gradient(90deg,#ffd400 26px,#ffd500 55px,#ffea00 84px,#d4ff2b 113px,#ffd400 142px,#fa0 171px,#ffbf00 200px,#5fa 229px,#bfff40 258px,#eaff15 287px,#eaff15 316px,#ffd400 345px,#ffea00 374px,#eaff15 403px,#ffd400 432px,#fa0 461px,#ffbf00 490px,#ffd400 519px,#ffd400 548px,#ff8000 577px,#ff8000 606px,#ffbf00 635px,#ff9500 664px,#ff9500 693px)"></i><i style="top:223.83px;height:3.18px;background:linear-gradient(90deg,#ffbf00 26px,#ff0 55px,#ff0 84px,#bfff40 113px,#ffbf00 142px,#ff8000 171px,#ff4000 200px,#40ffbf 229px,#80ff80 258px,#bfff40 287px,#ff0 316px,#ffbf00 345px,#ffbf00 374px,#ff0 403px,#ffbf00 432px,#ff8000 461px,#ffbf00 490px,#ffbf00 519px,#ffbf00 548px,#ff8000 577px,#ff8000 606px,#ffbf00 635px,#ff8000 664px,#ff8000 693px)"></i><i style="top:226.42px;height:3.18px;background:linear-gradient(90deg,#ff0 26px,#d5ff2a 55px,#ffd500 84px,#ff0 113px,#eaff15 142px,#ffea00 171px,#f50 200px,#bfff40 229px,#95ff6a 258px,#bfff40 287px,#ffd500 316px,#ffd400 345px,#ffbf00 374px,#ffea00 403px,#fa0 432px,#ff8000 461px,#fa0 490px,#ffbf00 519px,#fa0 548px,#ff9500 577px,#fa0 606px,#fa0 635px,#ff8000 664px,#ff9500 693px)"></i><i style="top:229.00px;height:3.18px;background:linear-gradient(90deg,#bfff40 26px,#af5 55px,#fa0 84px,#ffbf00 113px,#95ff6a 142px,#af5 171px,#ff6a00 200px,#ffbf00 229px,#af5 258px,#bfff40 287px,#fa0 316px,#ffea00 345px,#ffbf00 374px,#ffd400 403px,#ff9500 432px,#ff8000 461px,#ff9500 490px,#ffbf00 519px,#ff9500 548px,#fa0 577px,#ffd500 606px,#ff9500 635px,#ff8000 664px,#fa0 693px)"></i><i style="top:231.58px;height:3.18px;background:linear-gradient(90deg,#80ff80 26px,#80ff80 55px,#ff8000 84px,#ff8000 113px,#40ffbf 142px,#40ffbf 171px,#ff8000 200px,#ff4000 229px,#bfff40 258px,#bfff40 287px,#ff8000 316px,#ff0 345px,#ffbf00 374px,#ffbf00 403px,#ff8000 432px,#ff8000 461px,#ff8000 490px,#ffbf00 519px,#ff8000 548px,#ffbf00 577px,#ff0 606px,#ff8000 635px,#ff8000 664px,#ffbf00 693px)"></i><i style="top:234.17px;height:3.18px;background:linear-gradient(90deg,#af5 26px,#af5 55px,#ff9500 84px,#fa0 113px,#7fff80 142px,#7fff80 171px,#ffd400 200px,#ff6a00 229px,#ffea00 258px,#95ff6a 287px,#ffea00 316px,#d5ff2a 345px,#ff0 374px,#ffd400 403px,#fa0 432px,#ff9500 461px,#ff9500 490px,#fa0 519px,#ff9500 548px,#ffbf00 577px,#ffea00 606px,#ff9500 635px,#fa0 664px,#ffd400 693px)"></i><i style="top:236.75px;height:3.18px;background:linear-gradient(90deg,#d5ff2a 26px,#d5ff2a 55px,#fa0 84px,#ffd500 113px,#bfff40 142px,#bfff40 171px,#d4ff2b 200px,#ff9500 229px,#ff9500 258px,#6aff95 287px,#af5 316px,#af5 345px,#bfff40 374px,#ffea00 403px,#ffd500 432px,#fa0 461px,#fa0 490px,#ff9500 519px,#fa0 548px,#ffbf00 577px,#ffd400 606px,#fa0 635px,#ffd500 664px,#ffea00 693px)"></i><i style="top:239.33px;height:3.18px;background:linear-gradient(90deg,#ff0 26px,#ff0 55px,#ffbf00 84px,#ff0 113px,#ff0 142px,#ff0 171px,#80ff80 200px,#ffbf00 229px,#ff4000 258px,#40ffbf 287px,#40ffbf 316px,#80ff80 345px,#80ff80 374px,#ff0 403px,#ff0 432px,#ffbf00 461px,#ffbf00 490px,#ff8000 519px,#ffbf00 548px,#ffbf00 577px,#ffbf00 606px,#ffbf00 635px,#ff0 664px,#ff0 693px)"></i><i style="top:241.92px;height:3.18px;background:linear-gradient(90deg,#fa0 26px,#fa0 55px,#ff0 84px,#eaff15 113px,#ffea00 142px,#ffd500 171px,#d4ff2b 200px,#ffea00 229px,#ff7f00 258px,#bfff40 287px,#95ff6a 316px,#eaff15 345px,#eaff15 374px,#d5ff2a 403px,#ffea00 432px,#fa0 461px,#ff9500 490px,#f50 519px,#ffbf00 548px,#fa0 577px,#ffbf00 606px,#fa0 635px,#ff0 664px,#ffea00 693px)"></i><i style="top:244.50px;height:3.18px;background:linear-gradient(90deg,#f50 26px,#f50 55px,#bfff40 84px,#d4ff2b 113px,#ffd400 142px,#fa0 171px,#ffd400 200px,#eaff15 229px,#ffbf00 258px,#ffbf00 287px,#eaff15 316px,#fa0 345px,#fa0 374px,#af5 403px,#ffd400 432px,#ff9500 461px,#ff6a00 490px,#ff2a00 519px,#ffbf00 548px,#ff9500 577px,#ffbf00 606px,#ff9500 635px,#ff0 664px,#ffd400 693px)"></i><i style="top:247.08px;height:3.18px;background:linear-gradient(90deg,#f00 26px,#f00 55px,#80ff80 84px,#bfff40 113px,#ffbf00 142px,#ff8000 171px,#ff8000 200px,#bfff40 229px,#ff0 258px,#ff4000 287px,#ffbf00 316px,#ff4000 345px,#ff4000 374px,#80ff80 403px,#ffbf00 432px,#ff8000 461px,#ff4000 490px,#f00 519px,#ffbf00 548px,#ff8000 577px,#ffbf00 606px,#ff8000 635px,#ff0 664px,#ffbf00 693px)"></i><i style="top:249.67px;height:3.18px;background:linear-gradient(90deg,#f50 26px,#ff6a00 55px,#95ff6a 84px,#eaff15 113px,#ff0 142px,#ffbf00 171px,#ff9500 200px,#eaff15 229px,#bfff40 258px,#ff2b00 287px,#ff8000 316px,#ff2b00 345px,#ff2b00 374px,#95ff6a 403px,#ffbf00 432px,#ffbf00 461px,#ff7f00 490px,#f50 519px,#fa0 548px,#ff9500 577px,#fa0 606px,#ff6a00 635px,#fa0 664px,#ff8000 693px)"></i><i style="top:252.25px;height:3.18px;background:linear-gradient(90deg,#fa0 26px,#ffd500 55px,#af5 84px,#ffea00 113px,#bfff40 142px,#ff0 171px,#fa0 200px,#ffea00 229px,#7fff80 258px,#ff1500 287px,#ff4000 316px,#ff1500 345px,#ff1500 374px,#af5 403px,#ffbf00 432px,#ff0 461px,#ffbf00 490px,#fa0 519px,#ff9500 548px,#fa0 577px,#ff9500 606px,#f50 635px,#f50 664px,#ff4000 693px)"></i><i style="top:254.83px;height:3.18px;background:linear-gradient(90deg,#ff0 26px,#bfff40 55px,#bfff40 84px,#ffbf00 113px,#80ff80 142px,#bfff40 171px,#ffbf00 200px,#ffbf00 229px,#40ffbf 258px,#f00 287px,#f00 316px,#f00 345px,#f00 374px,#bfff40 403px,#ffbf00 432px,#bfff40 461px,#ff0 490px,#ff0 519px,#ff8000 548px,#ffbf00 577px,#ff8000 606px,#ff4000 635px,#f00 664px,#f00 693px)"></i><i style="top:257.42px;height:3.18px;background:linear-gradient(90deg,#ffea00 26px,#af5 55px,#ffbf00 84px,#ffea00 113px,#bfff40 142px,#eaff15 171px,#ffd400 200px,#fa0 229px,#af5 258px,#ff7f00 287px,#ff6a00 316px,#ff7f00 345px,#f50 374px,#ffea00 403px,#ff9500 432px,#ff0 461px,#ff0 490px,#bfff40 519px,#fa0 548px,#ffd400 577px,#fa0 606px,#ff7f00 635px,#ff4000 664px,#ff4000 693px)"></i><i style="top:260.00px;height:3.18px;background:linear-gradient(90deg,#ffd500 26px,#95ff6a 55px,#ff4000 84px,#eaff15 113px,#ff0 142px,#ffea00 171px,#ffea00 200px,#ff9500 229px,#ffea00 258px,#ff0 287px,#ffd400 316px,#ff0 345px,#fa0 374px,#ff9500 403px,#ff6a00 432px,#ffbf00 461px,#ff0 490px,#80ff7f 519px,#ffd400 548px,#ffea00 577px,#ffd400 606px,#ffbf00 635px,#ff7f00 664px,#ff7f00 693px)"></i><i style="top:262.58px;height:3.18px;background:linear-gradient(90deg,#ffbf00 26px,#80ff80 55px,#c00000 84px,#bfff40 113px,#ffbf00 142px,#ffbf00 171px,#ff0 200px,#ff8000 229px,#ff8000 258px,#80ff80 287px,#bfff40 316px,#80ff80 345px,#ff0 374px,#ff4000 403px,#ff4000 432px,#ff8000 461px,#ff0 490px,#40ffbf 519px,#ff0 548px,#ff0 577px,#ff0 606px,#ff0 635px,#ffbf00 664px,#ffbf00 693px)"></i><i style="top:265.17px;height:3.18px;background:linear-gradient(90deg,#ffd500 26px,#bfff40 55px,#ff4000 84px,#ff0 113px,#ffea00 142px,#ffd500 171px,#ffea00 200px,#fa0 229px,#ff6a00 258px,#bfff40 287px,#d5ff2a 316px,#af5 345px,#eaff15 374px,#ff8000 403px,#ff6a00 432px,#ff6a00 461px,#ffd400 490px,#bfff40 519px,#ffbf00 548px,#ffbf00 577px,#ffbf00 606px,#ff0 635px,#ffea00 664px,#ffd500 693px)"></i><i style="top:267.75px;height:3.18px;background:linear-gradient(90deg,#ffea00 26px,#ff0 55px,#ffbf00 84px,#ffbf00 113px,#eaff15 142px,#ffea00 171px,#ffd500 200px,#ffd400 229px,#f50 258px,#ff0 287px,#eaff15 316px,#d4ff2b 345px,#d5ff2a 374px,#ffbf00 403px,#ff9500 432px,#f50 461px,#fa0 490px,#ffbf00 519px,#ff8000 548px,#ff8000 577px,#ff8000 606px,#ff0 635px,#eaff15 664px,#ffea00 693px)"></i><i style="top:270.33px;height:3.18px;background:linear-gradient(90deg,#ff0 26px,#ffbf00 55px,#bfff40 84px,#ff8000 113px,#bfff40 142px,#ff0 171px,#ffbf00 200px,#ff0 229px,#ff4000 258px,#ffbf00 287px,#ff0 316px,#ff0 345px,#bfff40 374px,#ff0 403px,#ffbf00 432px,#ff4000 461px,#ff8000 490px,#ff4000 519px,#ff4000 548px,#ff4000 577px,#ff4000 606px,#ff0 635px,#bfff40 664px,#ff0 693px)"></i><i style="top:272.92px;height:3.18px;background:linear-gradient(90deg,#ffea00 26px,#ff9500 55px,#bfff40 84px,#fa0 113px,#ff0 142px,#ffbf00 171px,#ffd500 200px,#eaff15 229px,#ff8000 258px,#ff9500 287px,#ffea00 316px,#ffea00 345px,#eaff15 374px,#ffea00 403px,#fa0 432px,#ff2a00 461px,#ff6a00 490px,#ff2a00 519px,#f50 548px,#f50 577px,#ff6a00 606px,#ffbf00 635px,#ffea00 664px,#ffd400 693px)"></i><i style="top:275.50px;height:3.18px;background:linear-gradient(90deg,#ffd500 26px,#ff6a00 55px,#bfff40 84px,#ffd400 113px,#ffbf00 142px,#ff8000 171px,#ffea00 200px,#d5ff2a 229px,#ffbf00 258px,#ff6a00 287px,#ffd500 316px,#ffd500 345px,#ffea00 374px,#ffd500 403px,#ff9500 432px,#ff1500 461px,#f50 490px,#ff1500 519px,#ff6a00 548px,#ff6a00 577px,#ff9500 606px,#ff8000 635px,#ff9500 664px,#fa0 693px)"></i><i style="top:278.08px;height:3.18px;background:linear-gradient(90deg,#ffbf00 26px,#ff4000 55px,#bfff40 84px,#ff0 113px,#ff8000 142px,#ff4000 171px,#ff0 200px,#bfff40 229px,#ff0 258px,#ff4000 287px,#ffbf00 316px,#ffbf00 345px,#ffbf00 374px,#ffbf00 403px,#ff8000 432px,#f00 461px,#ff4000 490px,#f00 519px,#ff8000 548px,#ff8000 577px,#ffbf00 606px,#ff4000 635px,#ff4000 664px,#ff8000 693px)"></i><i style="top:280.67px;height:3.18px;background:linear-gradient(90deg,#ffea00 26px,#ff9500 55px,#ffea00 84px,#ffea00 113px,#fa0 142px,#ff6a00 171px,#ff0 200px,#eaff15 229px,#ff0 258px,#ff6a00 287px,#ffd500 316px,#ffd500 345px,#ffd500 374px,#fa0 403px,#ff9500 432px,#ff2b00 461px,#ff4000 490px,#ff2b00 519px,#ff6a00 548px,#ff8000 577px,#fa0 606px,#f50 635px,#f50 664px,#ff8000 693px)"></i><i style="top:283.25px;height:3.18px;background:linear-gradient(90deg,#eaff15 26px,#ffea00 55px,#ff9500 84px,#ffd500 113px,#ffd400 142px,#ff9500 171px,#ff0 200px,#ffea00 229px,#ff0 258px,#ff9500 287px,#ffea00 316px,#ffea00 345px,#ffea00 374px,#ff9500 403px,#fa0 432px,#f50 461px,#ff4000 490px,#f50 519px,#f50 548px,#ff8000 577px,#ff9500 606px,#ff6a00 635px,#ff6a00 664px,#ff8000 693px)"></i><i style="top:285.83px;height:3.18px;background:linear-gradient(90deg,#bfff40 26px,#bfff40 55px,#ff4000 84px,#ffbf00 113px,#ff0 142px,#ffbf00 171px,#ff0 200px,#ffbf00 229px,#ff0 258px,#ffbf00 287px,#ff0 316px,#ff0 345px,#ff0 374px,#ff8000 403px,#ffbf00 432px,#ff8000 461px,#ff4000 490px,#ff8000 519px,#ff4000 548px,#ff8000 577px,#ff8000 606px,#ff8000 635px,#ff8000 664px,#ff8000 693px)"></i><i style="top:288.42px;height:3.18px;background:linear-gradient(90deg,#ffea00 26px,#ffd400 55px,#ff8000 84px,#ffbf00 113px,#ff0 142px,#ffd500 171px,#ff0 200px,#fa0 229px,#ffd400 258px,#ffd500 287px,#ff0 316px,#ffd400 345px,#ffd400 374px,#fa0 403px,#ffd500 432px,#ff8000 461px,#f50 490px,#ff6a00 519px,#ff4000 548px,#ff8000 577px,#ff8000 606px,#ff9500 635px,#ff9500 664px,#ff9500 693px)"></i><i style="top:291.00px;height:3.18px;background:linear-gradient(90deg,#ff9500 26px,#ff6a00 55px,#ffbf00 84px,#ffbf00 113px,#ff0 142px,#ffea00 171px,#ff0 200px,#ff9500 229px,#fa0 258px,#ffea00 287px,#ff0 316px,#fa0 345px,#fa0 374px,#ffd400 403px,#ffea00 432px,#ff8000 461px,#ff6a00 490px,#f50 519px,#ff4000 548px,#ff8000 577px,#ff8000 606px,#fa0 635px,#fa0 664px,#fa0 693px)"></i><i style="top:293.58px;height:3.18px;background:linear-gradient(90deg,#ff4000 26px,#f00 55px,#ff0 84px,#ffbf00 113px,#ff0 142px,#ff0 171px,#ff0 200px,#ff8000 229px,#ff8000 258px,#ff0 287px,#ff0 316px,#ff8000 345px,#ff8000 374px,#ff0 403px,#ff0 432px,#ff8000 461px,#ff8000 490px,#ff4000 519px,#ff4000 548px,#ff8000 577px,#ff8000 606px,#ffbf00 635px,#ffbf00 664px,#ffbf00 693px)"></i><i style="top:296.17px;height:3.18px;background:linear-gradient(90deg,#ff4000 26px,#f00 55px,#ffbf00 84px,#ffea00 113px,#ffea00 142px,#ffd400 171px,#eaff15 200px,#ffbf00 229px,#ffbf00 258px,#ffea00 287px,#ff0 316px,#ff9500 345px,#ff8000 374px,#ffea00 403px,#ff0 432px,#ff8000 461px,#ff6a00 490px,#f50 519px,#ff4000 548px,#ff8000 577px,#ff8000 606px,#fa0 635px,#fa0 664px,#fa0 693px)"></i><i style="top:298.75px;height:3.18px;background:linear-gradient(90deg,#ff4000 26px,#f00 55px,#ff8000 84px,#eaff15 113px,#ffd500 142px,#fa0 171px,#d5ff2a 200px,#ff0 229px,#ff0 258px,#ffd500 287px,#ff0 316px,#fa0 345px,#ff8000 374px,#ffd500 403px,#ff0 432px,#ff8000 461px,#f50 490px,#ff6a00 519px,#ff4000 548px,#ff8000 577px,#ff8000 606px,#ff9500 635px,#ff9500 664px,#ff9500 693px)"></i><i style="top:301.33px;height:3.18px;background:linear-gradient(90deg,#ff4000 26px,#f00 55px,#ff4000 84px,#bfff40 113px,#ffbf00 142px,#ff8000 171px,#bfff40 200px,#bfff40 229px,#bfff40 258px,#ffbf00 287px,#ff0 316px,#ffbf00 345px,#ff8000 374px,#ffbf00 403px,#ff0 432px,#ff8000 461px,#ff4000 490px,#ff8000 519px,#ff4000 548px,#ff8000 577px,#ff8000 606px,#ff8000 635px,#ff8000 664px,#ff8000 693px)"></i><i style="top:303.92px;height:3.18px;background:linear-gradient(90deg,#ff9500 26px,#ff6a00 55px,#ff1500 84px,#ffea00 113px,#fa0 142px,#ff8000 171px,#eaff15 200px,#d5ff2a 229px,#d5ff2a 258px,#ffea00 287px,#eaff15 316px,#ffd500 345px,#ff9500 374px,#fa0 403px,#ffea00 432px,#fa0 461px,#ff8000 490px,#ff9500 519px,#ff8000 548px,#fa0 577px,#fa0 606px,#fa0 635px,#fa0 664px,#fa0 693px)"></i><i style="top:306.50px;height:3.18px;background:linear-gradient(90deg,#ffea00 26px,#ffd400 55px,#ea0000 84px,#ff9500 113px,#ff9500 142px,#ff8000 171px,#ffea00 200px,#eaff15 229px,#eaff15 258px,#eaff15 287px,#d5ff2a 316px,#ffea00 345px,#fa0 374px,#ff9500 403px,#ffd500 432px,#ffd400 461px,#ffbf00 490px,#fa0 519px,#ffbf00 548px,#ffd400 577px,#ffd400 606px,#ffd400 635px,#ffd400 664px,#ffd400 693px)"></i><i style="top:309.08px;height:3.18px;background:linear-gradient(90deg,#bfff40 26px,#bfff40 55px,#c00000 84px,#ff4000 113px,#ff8000 142px,#ff8000 171px,#ffbf00 200px,#ff0 229px,#ff0 258px,#bfff40 287px,#bfff40 316px,#ff0 345px,#ffbf00 374px,#ff8000 403px,#ffbf00 432px,#ff0 461px,#ff0 490px,#ffbf00 519px,#ff0 548px,#ff0 577px,#ff0 606px,#ff0 635px,#ff0 664px,#ff0 693px)"></i><i style="top:311.67px;height:3.18px;background:linear-gradient(90deg,#eaff15 26px,#ff0 55px,#f50 84px,#ff2a00 113px,#fa0 142px,#ffbf00 171px,#ffd500 200px,#ffea00 229px,#ffea00 258px,#bfff40 287px,#af5 316px,#eaff15 345px,#ffd500 374px,#fa0 403px,#ffd500 432px,#ffea00 461px,#ffea00 490px,#ffbf00 519px,#ff0 548px,#ff0 577px,#ff0 606px,#ff0 635px,#ff0 664px,#ff0 693px)"></i><i style="top:314.25px;height:3.18px;background:linear-gradient(90deg,#ffea00 26px,#ffbf00 55px,#ffea00 84px,#ff1500 113px,#ffd400 142px,#ff0 171px,#ffea00 200px,#ffd500 229px,#ffd500 258px,#bfff40 287px,#95ff6a 316px,#d5ff2a 345px,#ffea00 374px,#ffd400 403px,#ffea00 432px,#ffd500 461px,#ffd500 490px,#ffbf00 519px,#ff0 548px,#ff0 577px,#ff0 606px,#ff0 635px,#ff0 664px,#ff0 693px)"></i><i style="top:316.83px;height:3.18px;background:linear-gradient(90deg,#ffbf00 26px,#ff8000 55px,#80ff80 84px,#f00 113px,#ff0 142px,#bfff40 171px,#ff0 200px,#ffbf00 229px,#ffbf00 258px,#bfff40 287px,#80ff80 316px,#bfff40 345px,#ff0 374px,#ff0 403px,#ff0 432px,#ffbf00 461px,#ffbf00 490px,#ffbf00 519px,#ff0 548px,#ff0 577px,#ff0 606px,#ff0 635px,#ff0 664px,#ff0 693px)"></i><i style="top:319.42px;height:3.18px;background:linear-gradient(90deg,#ff0 26px,#ffd500 55px,#af5 84px,#ff8000 113px,#ffea00 142px,#bfff40 171px,#af5 200px,#d4ff2b 229px,#ffd500 258px,#d5ff2a 287px,#80ff80 316px,#af5 345px,#eaff15 374px,#eaff15 403px,#eaff15 432px,#ffd500 461px,#ffbf00 490px,#ffbf00 519px,#ffea00 548px,#ffd400 577px,#ffea00 606px,#ff0 635px,#ff0 664px,#ff0 693px)"></i><i style="top:322.00px;height:3.18px;background:linear-gradient(90deg,#bfff40 26px,#d5ff2a 55px,#d4ff2b 84px,#ff0 113px,#ffd500 142px,#bfff40 171px,#5fa 200px,#6aff95 229px,#ffea00 258px,#eaff15 287px,#80ff80 316px,#95ff6a 345px,#d5ff2a 374px,#d5ff2a 403px,#d5ff2a 432px,#ffea00 461px,#ffbf00 490px,#ffbf00 519px,#ffd500 548px,#fa0 577px,#ffd500 606px,#ff0 635px,#ff0 664px,#ff0 693px)"></i><i style="top:324.58px;height:3.18px;background:linear-gradient(90deg,#80ff80 26px,#80ff80 55px,#ff0 84px,#80ff80 113px,#ffbf00 142px,#bfff40 171px,#0ff 200px,#0ff 229px,#ff0 258px,#ff0 287px,#80ff80 316px,#80ff80 345px,#bfff40 374px,#bfff40 403px,#bfff40 432px,#ff0 461px,#ffbf00 490px,#ffbf00 519px,#ffbf00 548px,#ff8000 577px,#ffbf00 606px,#ff0 635px,#ff0 664px,#ff0 693px)"></i><i style="top:327.17px;height:3.18px;background:linear-gradient(90deg,#80ff80 26px,#95ff6a 55px,#ffd400 84px,#af5 113px,#fa0 142px,#ffea00 171px,#15ffea 200px,#0ff 229px,#af5 258px,#ffd400 287px,#af5 316px,#af5 345px,#af5 374px,#af5 403px,#af5 432px,#ff0 461px,#ff0 490px,#ff0 519px,#fa0 548px,#ff8000 577px,#ffbf00 606px,#ffea00 635px,#ff0 664px,#ffea00 693px)"></i><i style="top:329.75px;height:3.18px;background:linear-gradient(90deg,#80ff80 26px,#af5 55px,#fa0 84px,#d4ff2b 113px,#ff9500 142px,#ff9500 171px,#2affd5 200px,#0ff 229px,#5fa 258px,#fa0 287px,#d4ff2b 316px,#d4ff2b 345px,#95ff6a 374px,#95ff6a 403px,#95ff6a 432px,#ff0 461px,#bfff40 490px,#bfff40 519px,#ff9500 548px,#ff8000 577px,#ffbf00 606px,#ffd500 635px,#ff0 664px,#ffd500 693px)"></i><i style="top:332.33px;height:3.18px;background:linear-gradient(90deg,#80ff80 26px,#bfff40 55px,#ff8000 84px,#ff0 113px,#ff8000 142px,#ff4000 171px,#40ffbf 200px,#0ff 229px,#0ff 258px,#ff8000 287px,#ff0 316px,#ff0 345px,#80ff80 374px,#80ff80 403px,#80ff80 432px,#ff0 461px,#80ff80 490px,#80ff80 519px,#ff8000 548px,#ff8000 577px,#ffbf00 606px,#ffbf00 635px,#ff0 664px,#ffbf00 693px)"></i><i style="top:334.92px;height:3.18px;background:linear-gradient(90deg,#d5ff2a 26px,#ffea00 55px,#fa0 84px,#ffd400 113px,#fa0 142px,#ff8000 171px,#40ffbf 200px,#15ffea 229px,#00eaff 258px,#ff0 287px,#eaff15 316px,#ff0 345px,#af5 374px,#95ff6a 403px,#6aff95 432px,#bfff40 461px,#80ff80 490px,#6aff95 519px,#ff0 548px,#ff0 577px,#eaff15 606px,#ffea00 635px,#eaff15 664px,#ff0 693px)"></i><i style="top:337.50px;height:3.18px;background:linear-gradient(90deg,#ffd500 26px,#ff9500 55px,#ffd400 84px,#fa0 113px,#ffd400 142px,#ffbf00 171px,#40ffbf 200px,#2affd5 229px,#00d5ff 258px,#80ff7f 287px,#d5ff2a 316px,#ff0 345px,#d4ff2b 374px,#af5 403px,#5fa 432px,#80ff7f 461px,#80ff80 490px,#5fa 519px,#80ff7f 548px,#80ff7f 577px,#95ff6a 606px,#eaff15 635px,#d5ff2a 664px,#bfff40 693px)"></i><i style="top:340.08px;height:3.18px;background:linear-gradient(90deg,#ff8000 26px,#ff4000 55px,#ff0 84px,#ff8000 113px,#ff0 142px,#ff0 171px,#40ffbf 200px,#40ffbf 229px,#00bfff 258px,#0ff 287px,#bfff40 316px,#ff0 345px,#ff0 374px,#bfff40 403px,#40ffbf 432px,#40ffbf 461px,#80ff80 490px,#40ffbf 519px,#0ff 548px,#0ff 577px,#40ffbf 606px,#bfff40 635px,#bfff40 664px,#80ff80 693px)"></i><i style="top:342.67px;height:3.18px;background:linear-gradient(90deg,#d4ff2b 26px,#eaff15 55px,#bfff40 84px,#ffea00 113px,#bfff40 142px,#bfff40 171px,#0ff 200px,#2affd5 229px,#00eaff 258px,#00eaff 287px,#7fff80 316px,#af5 345px,#ffea00 374px,#eaff15 403px,#40ffbf 432px,#40ffbf 461px,#6aff95 490px,#40ffbf 519px,#15ffea 548px,#2bffd4 577px,#5fa 606px,#95ff6a 635px,#95ff6a 664px,#6aff95 693px)"></i><i style="top:345.25px;height:3.18px;background:linear-gradient(90deg,#2bffd4 26px,#15ffea 55px,#80ff7f 84px,#af5 113px,#80ff7f 142px,#80ff7f 171px,#00bfff 200px,#15ffea 229px,#15ffea 258px,#00d5ff 287px,#40ffbf 316px,#5fa 345px,#ffd500 374px,#ffea00 403px,#40ffbf 432px,#40ffbf 461px,#5fa 490px,#40ffbf 519px,#2affd5 548px,#5fa 577px,#6aff95 606px,#6aff95 635px,#6aff95 664px,#5fa 693px)"></i><i style="top:347.83px;height:3.18px;background:linear-gradient(90deg,#0080ff 26px,#0040ff 55px,#40ffbf 84px,#40ffbf 113px,#40ffbf 142px,#40ffbf 171px,#0080ff 200px,#0ff 229px,#40ffbf 258px,#00bfff 287px,#0ff 316px,#0ff 345px,#ffbf00 374px,#ffbf00 403px,#40ffbf 432px,#40ffbf 461px,#40ffbf 490px,#40ffbf 519px,#40ffbf 548px,#80ff80 577px,#80ff80 606px,#40ffbf 635px,#40ffbf 664px,#40ffbf 693px)"></i><i style="top:350.42px;height:3.18px;background:linear-gradient(90deg,#0af 26px,#0095ff 55px,#40ffbf 84px,#40ffbf 113px,#6aff95 142px,#80ff7f 171px,#0095ff 200px,#00bfff 229px,#2affd5 258px,#00eaff 287px,#15ffea 316px,#0ff 345px,#d4ff2b 374px,#eaff15 403px,#2affd5 432px,#2affd5 461px,#2affd5 490px,#15ffea 519px,#5fa 548px,#80ff80 577px,#80ff80 606px,#5fa 635px,#5fa 664px,#40ffbf 693px)"></i><i style="top:353.00px;height:3.18px;background:linear-gradient(90deg,#00d4ff 26px,#00eaff 55px,#40ffbf 84px,#40ffbf 113px,#95ff6a 142px,#bfff40 171px,#0af 200px,#0080ff 229px,#15ffea 258px,#15ffea 287px,#2affd5 316px,#0ff 345px,#6aff95 374px,#95ff6a 403px,#15ffea 432px,#15ffea 461px,#15ffea 490px,#00eaff 519px,#6aff95 548px,#80ff80 577px,#80ff80 606px,#6aff95 635px,#6aff95 664px,#40ffbf 693px)"></i><i style="top:355.58px;height:3.18px;background:linear-gradient(90deg,#0ff 26px,#40ffbf 55px,#40ffbf 84px,#40ffbf 113px,#bfff40 142px,#ff0 171px,#00bfff 200px,#0040ff 229px,#0ff 258px,#40ffbf 287px,#40ffbf 316px,#0ff 345px,#0ff 374px,#40ffbf 403px,#0ff 432px,#0ff 461px,#0ff 490px,#00bfff 519px,#80ff80 548px,#80ff80 577px,#80ff80 606px,#80ff80 635px,#80ff80 664px,#40ffbf 693px)"></i><i style="top:358.17px;height:3.18px;background:linear-gradient(90deg,#15ffea 26px,#40ffbf 55px,#5fa 84px,#5fa 113px,#95ff6a 142px,#bfff40 171px,#00eaff 200px,#0080ff 229px,#00bfff 258px,#0ff 287px,#40ffbf 316px,#0ff 345px,#00eaff 374px,#0ff 403px,#00d4ff 432px,#0ff 461px,#0ff 490px,#00eaff 519px,#6aff95 548px,#5fa 577px,#5fa 606px,#6aff95 635px,#6aff95 664px,#40ffbf 693px)"></i><i style="top:360.75px;height:3.18px;background:linear-gradient(90deg,#2affd5 26px,#40ffbf 55px,#6aff95 84px,#6aff95 113px,#6aff95 142px,#80ff7f 171px,#15ffea 200px,#00bfff 229px,#0080ff 258px,#00bfff 287px,#40ffbf 316px,#0ff 345px,#00d5ff 374px,#00bfff 403px,#0af 432px,#0ff 461px,#0ff 490px,#15ffea 519px,#5fa 548px,#2bffd4 577px,#2bffd4 606px,#5fa 635px,#5fa 664px,#40ffbf 693px)"></i><i style="top:363.33px;height:3.18px;background:linear-gradient(90deg,#40ffbf 26px,#40ffbf 55px,#80ff80 84px,#80ff80 113px,#40ffbf 142px,#40ffbf 171px,#40ffbf 200px,#0ff 229px,#0040ff 258px,#0080ff 287px,#40ffbf 316px,#0ff 345px,#00bfff 374px,#0080ff 403px,#0080ff 432px,#0ff 461px,#0ff 490px,#40ffbf 519px,#40ffbf 548px,#0ff 577px,#0ff 606px,#40ffbf 635px,#40ffbf 664px,#40ffbf 693px)"></i><i style="top:365.92px;height:3.18px;background:linear-gradient(90deg,#2affd5 26px,#2affd5 55px,#2affd5 84px,#5fa 113px,#15ffea 142px,#0ff 171px,#2affd5 200px,#2bffd4 229px,#0080ff 258px,#05f 287px,#00eaff 316px,#00eaff 345px,#00d5ff 374px,#0af 403px,#0095ff 432px,#00eaff 461px,#00eaff 490px,#15ffea 519px,#0ff 548px,#00eaff 577px,#00eaff 606px,#2affd5 635px,#2affd5 664px,#2affd5 693px)"></i><i style="top:368.50px;height:3.18px;background:linear-gradient(90deg,#15ffea 26px,#15ffea 55px,#00d5ff 84px,#2bffd4 113px,#00eaff 142px,#00bfff 171px,#15ffea 200px,#5fa 229px,#00bfff 258px,#002bff 287px,#0095ff 316px,#00d5ff 345px,#00eaff 374px,#00d4ff 403px,#0af 432px,#00d5ff 461px,#00d5ff 490px,#00eaff 519px,#00bfff 548px,#00d5ff 577px,#00d5ff 606px,#15ffea 635px,#15ffea 664px,#15ffea 693px)"></i><i style="top:371.08px;height:3.18px;background:linear-gradient(90deg,#0ff 26px,#0ff 55px,#0080ff 84px,#0ff 113px,#00bfff 142px,#0080ff 171px,#0ff 200px,#80ff80 229px,#0ff 258px,#00f 287px,#0040ff 316px,#00bfff 345px,#0ff 374px,#0ff 403px,#00bfff 432px,#00bfff 461px,#00bfff 490px,#00bfff 519px,#0080ff 548px,#00bfff 577px,#00bfff 606px,#0ff 635px,#0ff 664px,#0ff 693px)"></i><i style="top:373.67px;height:3.18px;background:linear-gradient(90deg,#00eaff 26px,#00eaff 55px,#0af 84px,#0ff 113px,#00d5ff 142px,#0af 171px,#00eaff 200px,#40ffbf 229px,#0ff 258px,#05f 287px,#0080ff 316px,#00d5ff 345px,#0ff 374px,#0ff 403px,#00d5ff 432px,#00d5ff 461px,#00d5ff 490px,#00d5ff 519px,#0af 548px,#00d5ff 577px,#00d5ff 606px,#0ff 635px,#0ff 664px,#0ff 693px)"></i><i style="top:376.25px;height:3.18px;background:linear-gradient(90deg,#00d5ff 26px,#00d5ff 55px,#00d4ff 84px,#0ff 113px,#00eaff 142px,#00d4ff 171px,#00d5ff 200px,#0ff 229px,#0ff 258px,#0af 287px,#00bfff 316px,#00eaff 345px,#0ff 374px,#0ff 403px,#00eaff 432px,#00eaff 461px,#00eaff 490px,#00eaff 519px,#00d4ff 548px,#00eaff 577px,#00eaff 606px,#0ff 635px,#0ff 664px,#0ff 693px)"></i><i style="top:378.83px;height:3.18px;background:linear-gradient(90deg,#00bfff 26px,#00bfff 55px,#0ff 84px,#0ff 113px,#0ff 142px,#0ff 171px,#00bfff 200px,#00bfff 229px,#0ff 258px,#0ff 287px,#0ff 316px,#0ff 345px,#0ff 374px,#0ff 403px,#0ff 432px,#0ff 461px,#0ff 490px,#0ff 519px,#0ff 548px,#0ff 577px,#0ff 606px,#0ff 635px,#0ff 664px,#0ff 693px)"></i><i style="top:381.42px;height:15.18px;background:linear-gradient(90deg,#00bfff 26px,#00bfff 55px,#0ff 84px,#0ff 113px,#0ff 142px,#0ff 171px,#00bfff 200px,#00bfff 229px,#0ff 258px,#0ff 287px,#0ff 316px,#0ff 345px,#0ff 374px,#0ff 403px,#0ff 432px,#0ff 461px,#0ff 490px,#0ff 519px,#0ff 548px,#0ff 577px,#0ff 606px,#0ff 635px,#0ff 664px,#0ff 693px)"></i></div></div><div class="hm" style="left:1156px;top:28px;width:694px;height:372px"><div class="hi" style="left:-12px;top:-12px;width:718px;height:396px;filter:blur(1.3px)"><i style="top:0.00px;height:15.18px;background:linear-gradient(90deg,#0020ff 26px,#0020ff 55px,#0020ff 84px,#0020ff 113px,#0020ff 142px,#0020ff 171px,#0020ff 200px,#0020ff 229px,#0020ff 258px,#0020ff 287px,#0020ff 316px,#0020ff 345px,#0020ff 373px,#0020ff 402px,#0020ff 431px,#0020ff 460px,#0020ff 489px,#0020ff 518px,#0020ff 547px,#0020ff 576px,#0020ff 605px,#0020ff 634px,#0020ff 663px,#0020ff 692px)"></i><i style="top:14.58px;height:3.18px;background:linear-gradient(90deg,#0020ff 26px,#0020ff 55px,#0020ff 84px,#0020ff 113px,#0020ff 142px,#0020ff 171px,#0020ff 200px,#0020ff 229px,#0020ff 258px,#0020ff 287px,#0020ff 316px,#0020ff 345px,#0020ff 373px,#0020ff 402px,#0020ff 431px,#0020ff 460px,#0020ff 489px,#0020ff 518px,#0020ff 547px,#0020ff 576px,#0020ff 605px,#0020ff 634px,#0020ff 663px,#0020ff 692px)"></i><i style="top:17.17px;height:3.18px;background:linear-gradient(90deg,#0020ff 26px,#0020ff 55px,#0020ff 84px,#0020ff 113px,#002aff 142px,#0020ff 171px,#0020ff 200px,#0020ff 229px,#0020ff 258px,#0020ff 287px,#0020ff 316px,#0020ff 345px,#0020ff 373px,#0020ff 402px,#0020ff 431px,#0020ff 460px,#0020ff 489px,#0020ff 518px,#0020ff 547px,#0020ff 576px,#0020ff 605px,#0020ff 634px,#0020ff 663px,#0020ff 692px)"></i><i style="top:19.75px;height:3.18px;background:linear-gradient(90deg,#0020ff 26px,#0020ff 55px,#0020ff 84px,#0020ff 113px,#0035ff 142px,#0020ff 171px,#0020ff 200px,#0020ff 229px,#0020ff 258px,#0020ff 287px,#0020ff 316px,#0020ff 345px,#0020ff 373px,#0020ff 402px,#0020ff 431px,#0020ff 460px,#0020ff 489px,#0020ff 518px,#0020ff 547px,#0020ff 576px,#0020ff 605px,#0020ff 634px,#0020ff 663px,#0020ff 692px)"></i><i style="top:22.33px;height:3.18px;background:linear-gradient(90deg,#0020ff 26px,#0020ff 55px,#0020ff 84px,#0020ff 113px,#0040ff 142px,#0020ff 171px,#0020ff 200px,#0020ff 229px,#0020ff 258px,#0020ff 287px,#0020ff 316px,#0020ff 345px,#0020ff 373px,#0020ff 402px,#0020ff 431px,#0020ff 460px,#0020ff 489px,#0020ff 518px,#0020ff 547px,#0020ff 576px,#0020ff 605px,#0020ff 634px,#0020ff 663px,#0020ff 692px)"></i><i style="top:24.92px;height:3.18px;background:linear-gradient(90deg,#002bff 26px,#0020ff 55px,#0020ff 84px,#0020ff 113px,#0035ff 142px,#002bff 171px,#0020ff 200px,#002bff 229px,#0020ff 258px,#0020ff 287px,#0020ff 316px,#0020ff 345px,#0020ff 373px,#0020ff 402px,#0020ff 431px,#0020ff 460px,#0020ff 489px,#0020ff 518px,#0020ff 547px,#0020ff 576px,#0020ff 605px,#0020ff 634px,#0020ff 663px,#0020ff 692px)"></i><i style="top:27.50px;height:3.18px;background:linear-gradient(90deg,#0035ff 26px,#0020ff 55px,#0020ff 84px,#0020ff 113px,#002bff 142px,#0035ff 171px,#0020ff 200px,#0035ff 229px,#0020ff 258px,#0020ff 287px,#0020ff 316px,#0020ff 345px,#0020ff 373px,#0020ff 402px,#0020ff 431px,#0020ff 460px,#0020ff 489px,#0020ff 518px,#0020ff 547px,#0020ff 576px,#0020ff 605px,#0020ff 634px,#0020ff 663px,#0020ff 692px)"></i><i style="top:30.08px;height:3.18px;background:linear-gradient(90deg,#0040ff 26px,#0020ff 55px,#0020ff 84px,#0020ff 113px,#0020ff 142px,#0040ff 171px,#0020ff 200px,#0040ff 229px,#0020ff 258px,#0020ff 287px,#0020ff 316px,#0020ff 345px,#0020ff 373px,#0020ff 402px,#0020ff 431px,#0020ff 460px,#0020ff 489px,#0020ff 518px,#0020ff 547px,#0020ff 576px,#0020ff 605px,#0020ff 634px,#0020ff 663px,#0020ff 692px)"></i><i style="top:32.67px;height:3.18px;background:linear-gradient(90deg,#0035ff 26px,#002bff 55px,#002bff 84px,#0020ff 113px,#0020ff 142px,#0035ff 171px,#002bff 200px,#0035ff 229px,#002bff 258px,#0020ff 287px,#0020ff 316px,#0020ff 345px,#0020ff 373px,#0020ff 402px,#0020ff 431px,#0020ff 460px,#0020ff 489px,#0020ff 518px,#0020ff 547px,#0020ff 576px,#0020ff 605px,#0020ff 634px,#0020ff 663px,#0020ff 692px)"></i><i style="top:35.25px;height:3.18px;background:linear-gradient(90deg,#002bff 26px,#0035ff 55px,#0035ff 84px,#0020ff 113px,#0020ff 142px,#002bff 171px,#0035ff 200px,#002bff 229px,#0035ff 258px,#0020ff 287px,#0020ff 316px,#0020ff 345px,#0020ff 373px,#0020ff 402px,#0020ff 431px,#0020ff 460px,#0020ff 489px,#0020ff 518px,#0020ff 547px,#0020ff 576px,#0020ff 605px,#0020ff 634px,#0020ff 663px,#0020ff 692px)"></i><i style="top:37.83px;height:3.18px;background:linear-gradient(90deg,#0020ff 26px,#0040ff 55px,#0040ff 84px,#0020ff 113px,#0020ff 142px,#0020ff 171px,#0040ff 200px,#0020ff 229px,#0040ff 258px,#0020ff 287px,#0020ff 316px,#0020ff 345px,#0020ff 373px,#0020ff 402px,#0020ff 431px,#0020ff 460px,#0020ff 489px,#0020ff 518px,#0020ff 547px,#0020ff 576px,#0020ff 605px,#0020ff 634px,#0020ff 663px,#0020ff 692px)"></i><i style="top:40.42px;height:3.18px;background:linear-gradient(90deg,#0020ff 26px,#0035ff 55px,#0035ff 84px,#002bff 113px,#002bff 142px,#0020ff 171px,#0035ff 200px,#0020ff 229px,#0040ff 258px,#0020ff 287px,#002bff 316px,#0020ff 345px,#0020ff 373px,#0020ff 402px,#0020ff 431px,#0020ff 460px,#0020ff 489px,#0020ff 518px,#0020ff 547px,#0020ff 576px,#0020ff 605px,#0020ff 634px,#0020ff 663px,#0020ff 692px)"></i><i style="top:43.00px;height:3.18px;background:linear-gradient(90deg,#0020ff 26px,#002aff 55px,#002aff 84px,#0035ff 113px,#0035ff 142px,#0020ff 171px,#002aff 200px,#0020ff 229px,#0040ff 258px,#0020ff 287px,#0035ff 316px,#0020ff 345px,#0020ff 373px,#0020ff 402px,#0020ff 431px,#0020ff 460px,#0020ff 489px,#0020ff 518px,#0020ff 547px,#0020ff 576px,#0020ff 605px,#0020ff 634px,#0020ff 663px,#0020ff 692px)"></i><i style="top:45.58px;height:3.18px;background:linear-gradient(90deg,#0020ff 26px,#0020ff 55px,#0020ff 84px,#0040ff 113px,#0040ff 142px,#0020ff 171px,#0020ff 200px,#0020ff 229px,#0040ff 258px,#0020ff 287px,#0040ff 316px,#0020ff 345px,#0020ff 373px,#0020ff 402px,#0020ff 431px,#0020ff 460px,#0020ff 489px,#0020ff 518px,#0020ff 547px,#0020ff 576px,#0020ff 605px,#0020ff 634px,#0020ff 663px,#0020ff 692px)"></i><i style="top:48.17px;height:3.18px;background:linear-gradient(90deg,#002aff 26px,#0020ff 55px,#0020ff 84px,#0035ff 113px,#0035ff 142px,#0020ff 171px,#0020ff 200px,#0020ff 229px,#0035ff 258px,#0020ff 287px,#0035ff 316px,#0020ff 345px,#0020ff 373px,#0020ff 402px,#0020ff 431px,#0020ff 460px,#0020ff 489px,#0020ff 518px,#0020ff 547px,#0020ff 576px,#0020ff 605px,#0020ff 634px,#0020ff 663px,#0020ff 692px)"></i><i style="top:50.75px;height:3.18px;background:linear-gradient(90deg,#0035ff 26px,#0020ff 55px,#0020ff 84px,#002aff 113px,#002aff 142px,#0020ff 171px,#0020ff 200px,#0020ff 229px,#002aff 258px,#0020ff 287px,#002aff 316px,#0020ff 345px,#0020ff 373px,#0020ff 402px,#0020ff 431px,#0020ff 460px,#0020ff 489px,#0020ff 518px,#0020ff 547px,#0020ff 576px,#0020ff 605px,#0020ff 634px,#0020ff 663px,#0020ff 692px)"></i><i style="top:53.33px;height:3.18px;background:linear-gradient(90deg,#0040ff 26px,#0020ff 55px,#0020ff 84px,#0020ff 113px,#0020ff 142px,#0020ff 171px,#0020ff 200px,#0020ff 229px,#0020ff 258px,#0020ff 287px,#0020ff 316px,#0020ff 345px,#0020ff 373px,#0020ff 402px,#0020ff 431px,#0020ff 460px,#0020ff 489px,#0020ff 518px,#0020ff 547px,#0020ff 576px,#0020ff 605px,#0020ff 634px,#0020ff 663px,#0020ff 692px)"></i><i style="top:55.92px;height:3.18px;background:linear-gradient(90deg,#0035ff 26px,#002aff 55px,#002aff 84px,#0020ff 113px,#0020ff 142px,#002aff 171px,#002aff 200px,#0020ff 229px,#0020ff 258px,#0020ff 287px,#002aff 316px,#0020ff 345px,#002aff 373px,#0020ff 402px,#0020ff 431px,#0020ff 460px,#0020ff 489px,#0020ff 518px,#0020ff 547px,#0020ff 576px,#0020ff 605px,#0020ff 634px,#0020ff 663px,#0020ff 692px)"></i><i style="top:58.50px;height:3.18px;background:linear-gradient(90deg,#002aff 26px,#0035ff 55px,#0035ff 84px,#0020ff 113px,#0020ff 142px,#0035ff 171px,#0035ff 200px,#0020ff 229px,#0020ff 258px,#0020ff 287px,#0035ff 316px,#0020ff 345px,#0035ff 373px,#0020ff 402px,#0020ff 431px,#0020ff 460px,#0020ff 489px,#0020ff 518px,#0020ff 547px,#0020ff 576px,#0020ff 605px,#0020ff 634px,#0020ff 663px,#0020ff 692px)"></i><i style="top:61.08px;height:3.18px;background:linear-gradient(90deg,#0020ff 26px,#0040ff 55px,#0040ff 84px,#0020ff 113px,#0020ff 142px,#0040ff 171px,#0040ff 200px,#0020ff 229px,#0020ff 258px,#0020ff 287px,#0040ff 316px,#0020ff 345px,#0040ff 373px,#0020ff 402px,#0020ff 431px,#0020ff 460px,#0020ff 489px,#0020ff 518px,#0020ff 547px,#0020ff 576px,#0020ff 605px,#0020ff 634px,#0020ff 663px,#0020ff 692px)"></i><i style="top:63.67px;height:3.18px;background:linear-gradient(90deg,#0020ff 26px,#0035ff 55px,#0035ff 84px,#0020ff 113px,#0020ff 142px,#0035ff 171px,#0035ff 200px,#002aff 229px,#0020ff 258px,#0020ff 287px,#0035ff 316px,#0020ff 345px,#0040ff 373px,#0020ff 402px,#0020ff 431px,#0020ff 460px,#0020ff 489px,#0020ff 518px,#0020ff 547px,#0020ff 576px,#0020ff 605px,#0020ff 634px,#0020ff 663px,#0020ff 692px)"></i><i style="top:66.25px;height:3.18px;background:linear-gradient(90deg,#0020ff 26px,#002aff 55px,#002aff 84px,#0020ff 113px,#0020ff 142px,#002aff 171px,#002aff 200px,#0035ff 229px,#0020ff 258px,#0020ff 287px,#002aff 316px,#0020ff 345px,#0040ff 373px,#0020ff 402px,#0020ff 431px,#0020ff 460px,#0020ff 489px,#0020ff 518px,#0020ff 547px,#0020ff 576px,#0020ff 605px,#0020ff 634px,#0020ff 663px,#0020ff 692px)"></i><i style="top:68.83px;height:3.18px;background:linear-gradient(90deg,#0020ff 26px,#0020ff 55px,#0020ff 84px,#0020ff 113px,#0020ff 142px,#0020ff 171px,#0020ff 200px,#0040ff 229px,#0020ff 258px,#0020ff 287px,#0020ff 316px,#0020ff 345px,#0040ff 373px,#0020ff 402px,#0020ff 431px,#0020ff 460px,#0020ff 489px,#0020ff 518px,#0020ff 547px,#0020ff 576px,#0020ff 605px,#0020ff 634px,#0020ff 663px,#0020ff 692px)"></i><i style="top:71.42px;height:3.18px;background:linear-gradient(90deg,#0020ff 26px,#0020ff 55px,#0020ff 84px,#002aff 113px,#002aff 142px,#0020ff 171px,#0020ff 200px,#0035ff 229px,#0020ff 258px,#002aff 287px,#0020ff 316px,#0020ff 345px,#0035ff 373px,#002aff 402px,#0020ff 431px,#0020ff 460px,#0020ff 489px,#0020ff 518px,#0020ff 547px,#0020ff 576px,#0020ff 605px,#0020ff 634px,#0020ff 663px,#0020ff 692px)"></i><i style="top:74.00px;height:3.18px;background:linear-gradient(90deg,#0020ff 26px,#0020ff 55px,#0020ff 84px,#0035ff 113px,#0035ff 142px,#0020ff 171px,#0020ff 200px,#002bff 229px,#0020ff 258px,#0035ff 287px,#0020ff 316px,#0020ff 345px,#002bff 373px,#0035ff 402px,#0020ff 431px,#0020ff 460px,#0020ff 489px,#0020ff 518px,#0020ff 547px,#0020ff 576px,#0020ff 605px,#0020ff 634px,#0020ff 663px,#0020ff 692px)"></i><i style="top:76.58px;height:3.18px;background:linear-gradient(90deg,#0020ff 26px,#0020ff 55px,#0020ff 84px,#0040ff 113px,#0040ff 142px,#0020ff 171px,#0020ff 200px,#0020ff 229px,#0020ff 258px,#0040ff 287px,#0020ff 316px,#0020ff 345px,#0020ff 373px,#0040ff 402px,#0020ff 431px,#0020ff 460px,#0020ff 489px,#0020ff 518px,#0020ff 547px,#0020ff 576px,#0020ff 605px,#0020ff 634px,#0020ff 663px,#0020ff 692px)"></i><i style="top:79.17px;height:3.18px;background:linear-gradient(90deg,#002bff 26px,#002bff 55px,#0020ff 84px,#0035ff 113px,#0035ff 142px,#0020ff 171px,#0020ff 200px,#002bff 229px,#0020ff 258px,#0035ff 287px,#0020ff 316px,#0020ff 345px,#0020ff 373px,#0035ff 402px,#002bff 431px,#0020ff 460px,#0020ff 489px,#0020ff 518px,#0020ff 547px,#0020ff 576px,#0020ff 605px,#0020ff 634px,#0020ff 663px,#0020ff 692px)"></i><i style="top:81.75px;height:3.18px;background:linear-gradient(90deg,#0035ff 26px,#0035ff 55px,#0020ff 84px,#002bff 113px,#002bff 142px,#0020ff 171px,#0020ff 200px,#0035ff 229px,#0020ff 258px,#002bff 287px,#0020ff 316px,#0020ff 345px,#0020ff 373px,#002bff 402px,#0035ff 431px,#0020ff 460px,#0020ff 489px,#0020ff 518px,#0020ff 547px,#0020ff 576px,#0020ff 605px,#0020ff 634px,#0020ff 663px,#0020ff 692px)"></i><i style="top:84.33px;height:3.18px;background:linear-gradient(90deg,#0040ff 26px,#0040ff 55px,#0020ff 84px,#0020ff 113px,#0020ff 142px,#0020ff 171px,#0020ff 200px,#0040ff 229px,#0020ff 258px,#0020ff 287px,#0020ff 316px,#0020ff 345px,#0020ff 373px,#0020ff 402px,#0040ff 431px,#0020ff 460px,#0020ff 489px,#0020ff 518px,#0020ff 547px,#0020ff 576px,#0020ff 605px,#0020ff 634px,#0020ff 663px,#0020ff 692px)"></i><i style="top:86.92px;height:3.18px;background:linear-gradient(90deg,#0035ff 26px,#0035ff 55px,#002bff 84px,#0020ff 113px,#0020ff 142px,#002bff 171px,#0020ff 200px,#0035ff 229px,#0020ff 258px,#002bff 287px,#0020ff 316px,#0020ff 345px,#0020ff 373px,#0020ff 402px,#0035ff 431px,#002bff 460px,#0020ff 489px,#0020ff 518px,#0020ff 547px,#0020ff 576px,#0020ff 605px,#002bff 634px,#002bff 663px,#0020ff 692px)"></i><i style="top:89.50px;height:3.18px;background:linear-gradient(90deg,#002bff 26px,#002bff 55px,#0035ff 84px,#0020ff 113px,#0020ff 142px,#0035ff 171px,#0020ff 200px,#002bff 229px,#0020ff 258px,#0035ff 287px,#0020ff 316px,#0020ff 345px,#0020ff 373px,#0020ff 402px,#002bff 431px,#0035ff 460px,#0020ff 489px,#0020ff 518px,#0020ff 547px,#0020ff 576px,#0020ff 605px,#0035ff 634px,#0035ff 663px,#0020ff 692px)"></i><i style="top:92.08px;height:3.18px;background:linear-gradient(90deg,#0020ff 26px,#0020ff 55px,#0040ff 84px,#0020ff 113px,#0020ff 142px,#0040ff 171px,#0020ff 200px,#0020ff 229px,#0020ff 258px,#0040ff 287px,#0020ff 316px,#0020ff 345px,#0020ff 373px,#0020ff 402px,#0020ff 431px,#0040ff 460px,#0020ff 489px,#0020ff 518px,#0020ff 547px,#0020ff 576px,#0020ff 605px,#0040ff 634px,#0040ff 663px,#0020ff 692px)"></i><i style="top:94.67px;height:3.18px;background:linear-gradient(90deg,#0020ff 26px,#0020ff 55px,#0035ff 84px,#002bff 113px,#0020ff 142px,#0035ff 171px,#0020ff 200px,#0020ff 229px,#0020ff 258px,#0035ff 287px,#0020ff 316px,#002bff 345px,#0020ff 373px,#0020ff 402px,#0020ff 431px,#0035ff 460px,#0020ff 489px,#002bff 518px,#002bff 547px,#002bff 576px,#002bff 605px,#0035ff 634px,#0035ff 663px,#0020ff 692px)"></i><i style="top:97.25px;height:3.18px;background:linear-gradient(90deg,#0020ff 26px,#0020ff 55px,#002bff 84px,#0035ff 113px,#0020ff 142px,#002bff 171px,#0020ff 200px,#0020ff 229px,#0020ff 258px,#002bff 287px,#0020ff 316px,#0035ff 345px,#0020ff 373px,#0020ff 402px,#0020ff 431px,#002bff 460px,#0020ff 489px,#0035ff 518px,#0035ff 547px,#0035ff 576px,#0035ff 605px,#002bff 634px,#002bff 663px,#0020ff 692px)"></i><i style="top:99.83px;height:3.18px;background:linear-gradient(90deg,#0020ff 26px,#0020ff 55px,#0020ff 84px,#0040ff 113px,#0020ff 142px,#0020ff 171px,#0020ff 200px,#0020ff 229px,#0020ff 258px,#0020ff 287px,#0020ff 316px,#0040ff 345px,#0020ff 373px,#0020ff 402px,#0020ff 431px,#0020ff 460px,#0020ff 489px,#0040ff 518px,#0040ff 547px,#0040ff 576px,#0040ff 605px,#0020ff 634px,#0020ff 663px,#0020ff 692px)"></i><i style="top:102.42px;height:3.18px;background:linear-gradient(90deg,#0015ff 26px,#0015ff 55px,#0015ff 84px,#002aff 113px,#0015ff 142px,#002bff 171px,#0040ff 200px,#0015ff 229px,#0015ff 258px,#0015ff 287px,#0015ff 316px,#0040ff 345px,#0015ff 373px,#0015ff 402px,#0015ff 431px,#0015ff 460px,#0015ff 489px,#0040ff 518px,#002aff 547px,#002aff 576px,#002aff 605px,#0015ff 634px,#0015ff 663px,#0015ff 692px)"></i><i style="top:105.00px;height:3.18px;background:linear-gradient(90deg,#000bff 26px,#000bff 55px,#000bff 84px,#0015ff 113px,#000bff 142px,#0035ff 171px,#0060ff 200px,#000bff 229px,#000bff 258px,#000bff 287px,#000bff 316px,#0040ff 345px,#000bff 373px,#000bff 402px,#000bff 431px,#000bff 460px,#000bff 489px,#0040ff 518px,#0015ff 547px,#0015ff 576px,#0015ff 605px,#000bff 634px,#000bff 663px,#000bff 692px)"></i><i style="top:107.58px;height:3.18px;background:linear-gradient(90deg,#00f 26px,#00f 55px,#00f 84px,#00f 113px,#00f 142px,#0040ff 171px,#0080ff 200px,#00f 229px,#00f 258px,#00f 287px,#00f 316px,#0040ff 345px,#00f 373px,#00f 402px,#00f 431px,#00f 460px,#00f 489px,#0040ff 518px,#00f 547px,#00f 576px,#00f 605px,#00f 634px,#00f 663px,#00f 692px)"></i><i style="top:110.17px;height:3.18px;background:linear-gradient(90deg,#00f 26px,#00f 55px,#00f 84px,#0015ff 113px,#0015ff 142px,#002aff 171px,#05f 200px,#002bff 229px,#00f 258px,#00f 287px,#00f 316px,#002aff 345px,#00f 373px,#00f 402px,#00f 431px,#00f 460px,#00f 489px,#002aff 518px,#00f 547px,#00f 576px,#00f 605px,#00f 634px,#00f 663px,#00f 692px)"></i><i style="top:112.75px;height:3.18px;background:linear-gradient(90deg,#00f 26px,#00f 55px,#00f 84px,#002aff 113px,#002aff 142px,#0015ff 171px,#002bff 200px,#05f 229px,#00f 258px,#00f 287px,#00f 316px,#0015ff 345px,#00f 373px,#00f 402px,#00f 431px,#00f 460px,#00f 489px,#0015ff 518px,#00f 547px,#00f 576px,#00f 605px,#00f 634px,#00f 663px,#00f 692px)"></i><i style="top:115.33px;height:3.18px;background:linear-gradient(90deg,#00f 26px,#00f 55px,#00f 84px,#0040ff 113px,#0040ff 142px,#00f 171px,#00f 200px,#0080ff 229px,#00f 258px,#00f 287px,#00f 316px,#00f 345px,#00f 373px,#00f 402px,#00f 431px,#00f 460px,#00f 489px,#00f 518px,#00f 547px,#00f 576px,#00f 605px,#00f 634px,#00f 663px,#00f 692px)"></i><i style="top:117.92px;height:3.18px;background:linear-gradient(90deg,#0015ff 26px,#0015ff 55px,#00f 84px,#002aff 113px,#002aff 142px,#002bff 171px,#002bff 200px,#05f 229px,#00f 258px,#002bff 287px,#00f 316px,#00f 345px,#00f 373px,#00f 402px,#00f 431px,#00f 460px,#00f 489px,#0015ff 518px,#00f 547px,#00f 576px,#00f 605px,#00f 634px,#00f 663px,#00f 692px)"></i><i style="top:120.50px;height:3.18px;background:linear-gradient(90deg,#002aff 26px,#002aff 55px,#00f 84px,#0015ff 113px,#0015ff 142px,#05f 171px,#05f 200px,#002bff 229px,#00f 258px,#05f 287px,#00f 316px,#00f 345px,#00f 373px,#00f 402px,#00f 431px,#00f 460px,#00f 489px,#002aff 518px,#00f 547px,#00f 576px,#00f 605px,#00f 634px,#00f 663px,#00f 692px)"></i><i style="top:123.08px;height:3.18px;background:linear-gradient(90deg,#0040ff 26px,#0040ff 55px,#00f 84px,#00f 113px,#00f 142px,#0080ff 171px,#0080ff 200px,#00f 229px,#00f 258px,#0080ff 287px,#00f 316px,#00f 345px,#00f 373px,#00f 402px,#00f 431px,#00f 460px,#00f 489px,#0040ff 518px,#00f 547px,#00f 576px,#00f 605px,#00f 634px,#00f 663px,#00f 692px)"></i><i style="top:125.67px;height:3.18px;background:linear-gradient(90deg,#0040ff 26px,#05f 55px,#0015ff 84px,#0000ea 113px,#0015ff 142px,#0040ff 171px,#0080ff 200px,#002bff 229px,#0000ea 258px,#0040ff 287px,#0015ff 316px,#002bff 345px,#002bff 373px,#0015ff 402px,#00f 431px,#00f 460px,#00f 489px,#002aff 518px,#0000ea 547px,#00f 576px,#0015ff 605px,#0015ff 634px,#0015ff 663px,#0015ff 692px)"></i><i style="top:128.25px;height:3.18px;background:linear-gradient(90deg,#0040ff 26px,#006aff 55px,#002aff 84px,#0000d5 113px,#002aff 142px,#00f 171px,#0080ff 200px,#05f 229px,#0000d5 258px,#00f 287px,#002aff 316px,#05f 345px,#05f 373px,#002aff 402px,#00f 431px,#00f 460px,#00f 489px,#0015ff 518px,#0000d5 547px,#00f 576px,#002aff 605px,#002aff 634px,#002aff 663px,#002aff 692px)"></i><i style="top:130.83px;height:3.18px;background:linear-gradient(90deg,#0040ff 26px,#0080ff 55px,#0040ff 84px,#0000c0 113px,#0040ff 142px,#0000c0 171px,#0080ff 200px,#0080ff 229px,#0000c0 258px,#0000c0 287px,#0040ff 316px,#0080ff 345px,#0080ff 373px,#0040ff 402px,#00f 431px,#00f 460px,#00f 489px,#00f 518px,#0000c0 547px,#00f 576px,#0040ff 605px,#0040ff 634px,#0040ff 663px,#0040ff 692px)"></i><i style="top:133.42px;height:3.18px;background:linear-gradient(90deg,#0040ff 26px,#05f 55px,#05f 84px,#0000d5 113px,#002aff 142px,#00f 171px,#0095ff 200px,#0095ff 229px,#00f 258px,#0000ea 287px,#0015ff 316px,#05f 345px,#006aff 373px,#05f 402px,#00f 431px,#0000ea 460px,#00f 489px,#00f 518px,#0000c0 547px,#0000ea 576px,#05f 605px,#05f 634px,#05f 663px,#05f 692px)"></i><i style="top:136.00px;height:3.18px;background:linear-gradient(90deg,#0040ff 26px,#002aff 55px,#006aff 84px,#0000ea 113px,#0015ff 142px,#0040ff 171px,#0af 200px,#0af 229px,#0040ff 258px,#0015ff 287px,#0000ea 316px,#002aff 345px,#05f 373px,#006aff 402px,#00f 431px,#0000d5 460px,#00f 489px,#00f 518px,#0000c0 547px,#0000d5 576px,#006aff 605px,#006aff 634px,#006aff 663px,#006aff 692px)"></i><i style="top:138.58px;height:3.18px;background:linear-gradient(90deg,#0040ff 26px,#00f 55px,#0080ff 84px,#00f 113px,#00f 142px,#0080ff 171px,#00bfff 200px,#00bfff 229px,#0080ff 258px,#0040ff 287px,#0000c0 316px,#00f 345px,#0040ff 373px,#0080ff 402px,#00f 431px,#0000c0 460px,#00f 489px,#00f 518px,#0000c0 547px,#0000c0 576px,#0080ff 605px,#0080ff 634px,#0080ff 663px,#0080ff 692px)"></i><i style="top:141.17px;height:3.18px;background:linear-gradient(90deg,#05f 26px,#002aff 55px,#05f 84px,#002aff 113px,#0000ea 142px,#0040ff 171px,#00d4ff 200px,#00bfff 229px,#0080ff 258px,#05f 287px,#00f 316px,#00f 345px,#0040ff 373px,#0080ff 402px,#0015ff 431px,#0000d5 460px,#0000ea 489px,#0000ea 518px,#0000c0 547px,#0000c0 576px,#006aff 605px,#0080ff 634px,#0080ff 663px,#006aff 692px)"></i><i style="top:143.75px;height:3.18px;background:linear-gradient(90deg,#006aff 26px,#05f 55px,#002aff 84px,#05f 113px,#0000d5 142px,#00f 171px,#00eaff 200px,#00bfff 229px,#0080ff 258px,#006aff 287px,#0040ff 316px,#00f 345px,#0040ff 373px,#0080ff 402px,#002bff 431px,#0000ea 460px,#0000d5 489px,#0000d5 518px,#0000c0 547px,#0000c0 576px,#05f 605px,#0080ff 634px,#0080ff 663px,#05f 692px)"></i><i style="top:146.33px;height:3.18px;background:linear-gradient(90deg,#0080ff 26px,#0080ff 55px,#00f 84px,#0080ff 113px,#0000c0 142px,#0000c0 171px,#0ff 200px,#00bfff 229px,#0080ff 258px,#0080ff 287px,#0080ff 316px,#00f 345px,#0040ff 373px,#0080ff 402px,#0040ff 431px,#00f 460px,#0000c0 489px,#0000c0 518px,#0000c0 547px,#0000c0 576px,#0040ff 605px,#0080ff 634px,#0080ff 663px,#0040ff 692px)"></i><i style="top:148.92px;height:3.18px;background:linear-gradient(90deg,#006aff 26px,#006aff 55px,#002aff 84px,#0040ff 113px,#00f 142px,#00f 171px,#0ff 200px,#00d4ff 229px,#0af 258px,#0080ff 287px,#0080ff 316px,#002aff 345px,#0040ff 373px,#05f 402px,#0040ff 431px,#002aff 460px,#0000ea 489px,#00f 518px,#00f 547px,#00f 576px,#006aff 605px,#0095ff 634px,#0095ff 663px,#05f 692px)"></i><i style="top:151.50px;height:3.18px;background:linear-gradient(90deg,#05f 26px,#05f 55px,#05f 84px,#00f 113px,#0040ff 142px,#0040ff 171px,#0ff 200px,#00eaff 229px,#00d5ff 258px,#0080ff 287px,#0080ff 316px,#05f 345px,#0040ff 373px,#002aff 402px,#0040ff 431px,#05f 460px,#0015ff 489px,#0040ff 518px,#0040ff 547px,#0040ff 576px,#0095ff 605px,#0af 634px,#0af 663px,#006aff 692px)"></i><i style="top:154.08px;height:3.18px;background:linear-gradient(90deg,#0040ff 26px,#0040ff 55px,#0080ff 84px,#0000c0 113px,#0080ff 142px,#0080ff 171px,#0ff 200px,#0ff 229px,#0ff 258px,#0080ff 287px,#0080ff 316px,#0080ff 345px,#0040ff 373px,#00f 402px,#0040ff 431px,#0080ff 460px,#0040ff 489px,#0080ff 518px,#0080ff 547px,#0080ff 576px,#00bfff 605px,#00bfff 634px,#00bfff 663px,#0080ff 692px)"></i><i style="top:156.67px;height:3.18px;background:linear-gradient(90deg,#007fff 26px,#007fff 55px,#006aff 84px,#0000ea 113px,#05f 142px,#05f 171px,#0ff 200px,#0ff 229px,#0ff 258px,#0af 287px,#0095ff 316px,#0095ff 345px,#05f 373px,#002aff 402px,#05f 431px,#006aff 460px,#05f 489px,#0080ff 518px,#0080ff 547px,#0095ff 576px,#0af 605px,#0af 634px,#0af 663px,#0080ff 692px)"></i><i style="top:159.25px;height:3.18px;background:linear-gradient(90deg,#00bfff 26px,#00bfff 55px,#05f 84px,#0015ff 113px,#002aff 142px,#002aff 171px,#0ff 200px,#0ff 229px,#0ff 258px,#00d5ff 287px,#0af 316px,#0af 345px,#006aff 373px,#05f 402px,#006aff 431px,#05f 460px,#006aff 489px,#0080ff 518px,#0080ff 547px,#0af 576px,#0095ff 605px,#0095ff 634px,#0095ff 663px,#0080ff 692px)"></i><i style="top:161.83px;height:3.18px;background:linear-gradient(90deg,#0ff 26px,#0ff 55px,#0040ff 84px,#0040ff 113px,#00f 142px,#00f 171px,#0ff 200px,#0ff 229px,#0ff 258px,#0ff 287px,#00bfff 316px,#00bfff 345px,#0080ff 373px,#0080ff 402px,#0080ff 431px,#0040ff 460px,#0080ff 489px,#0080ff 518px,#0080ff 547px,#00bfff 576px,#0080ff 605px,#0080ff 634px,#0080ff 663px,#0080ff 692px)"></i><i style="top:164.42px;height:3.18px;background:linear-gradient(90deg,#0ff 26px,#0ff 55px,#006aff 84px,#05f 113px,#0015ff 142px,#002aff 171px,#15ffea 200px,#15ffea 229px,#0ff 258px,#0ff 287px,#00d4ff 316px,#00d4ff 345px,#0af 373px,#006aff 402px,#0095ff 431px,#007fff 460px,#0af 489px,#0af 518px,#0af 547px,#0af 576px,#0af 605px,#0af 634px,#0af 663px,#0af 692px)"></i><i style="top:167.00px;height:3.18px;background:linear-gradient(90deg,#0ff 26px,#0ff 55px,#0095ff 84px,#006aff 113px,#002bff 142px,#05f 171px,#2bffd4 200px,#2bffd4 229px,#0ff 258px,#0ff 287px,#00eaff 316px,#00eaff 345px,#00d5ff 373px,#05f 402px,#0af 431px,#00bfff 460px,#00d5ff 489px,#00d5ff 518px,#00d5ff 547px,#0095ff 576px,#00d5ff 605px,#00d5ff 634px,#00d5ff 663px,#00d5ff 692px)"></i><i style="top:169.58px;height:3.18px;background:linear-gradient(90deg,#0ff 26px,#0ff 55px,#00bfff 84px,#0080ff 113px,#0040ff 142px,#0080ff 171px,#40ffbf 200px,#40ffbf 229px,#0ff 258px,#0ff 287px,#0ff 316px,#0ff 345px,#0ff 373px,#0040ff 402px,#00bfff 431px,#0ff 460px,#0ff 489px,#0ff 518px,#0ff 547px,#0080ff 576px,#0ff 605px,#0ff 634px,#0ff 663px,#0ff 692px)"></i><i style="top:172.17px;height:3.18px;background:linear-gradient(90deg,#15ffea 26px,#15ffea 55px,#00d4ff 84px,#006aff 113px,#0040ff 142px,#0080ff 171px,#40ffbf 200px,#40ffbf 229px,#15ffea 258px,#15ffea 287px,#0ff 316px,#0ff 345px,#15ffea 373px,#0095ff 402px,#00d4ff 431px,#00d5ff 460px,#00d5ff 489px,#00d5ff 518px,#00d5ff 547px,#0af 576px,#00eaff 605px,#00eaff 634px,#00eaff 663px,#00eaff 692px)"></i><i style="top:174.75px;height:3.18px;background:linear-gradient(90deg,#2bffd4 26px,#2bffd4 55px,#00eaff 84px,#05f 113px,#0040ff 142px,#0080ff 171px,#40ffbf 200px,#40ffbf 229px,#2bffd4 258px,#2bffd4 287px,#0ff 316px,#0ff 345px,#2bffd4 373px,#00eaff 402px,#00eaff 431px,#0af 460px,#0af 489px,#0af 518px,#0af 547px,#00d5ff 576px,#00d4ff 605px,#00d4ff 634px,#00d4ff 663px,#00d4ff 692px)"></i><i style="top:177.33px;height:3.18px;background:linear-gradient(90deg,#40ffbf 26px,#40ffbf 55px,#0ff 84px,#0040ff 113px,#0040ff 142px,#0080ff 171px,#40ffbf 200px,#40ffbf 229px,#40ffbf 258px,#40ffbf 287px,#0ff 316px,#0ff 345px,#40ffbf 373px,#40ffbf 402px,#0ff 431px,#0080ff 460px,#0080ff 489px,#0080ff 518px,#0080ff 547px,#0ff 576px,#00bfff 605px,#00bfff 634px,#00bfff 663px,#00bfff 692px)"></i><i style="top:179.92px;height:3.18px;background:linear-gradient(90deg,#6aff95 26px,#7fff80 55px,#0ff 84px,#006aff 113px,#05f 142px,#0080ff 171px,#5fa 200px,#6aff95 229px,#6aff95 258px,#5fa 287px,#15ffea 316px,#15ffea 345px,#40ffbf 373px,#2bffd4 402px,#15ffea 431px,#00bfff 460px,#0af 489px,#0af 518px,#0af 547px,#0ff 576px,#00d4ff 605px,#00d4ff 634px,#00d4ff 663px,#00d4ff 692px)"></i><i style="top:182.50px;height:3.18px;background:linear-gradient(90deg,#95ff6a 26px,#bfff40 55px,#0ff 84px,#0095ff 113px,#006aff 142px,#0080ff 171px,#6aff95 200px,#95ff6a 229px,#95ff6a 258px,#6aff95 287px,#2bffd4 316px,#2bffd4 345px,#40ffbf 373px,#15ffea 402px,#2bffd4 431px,#0ff 460px,#00d5ff 489px,#00d5ff 518px,#00d5ff 547px,#0ff 576px,#00eaff 605px,#00eaff 634px,#00eaff 663px,#00eaff 692px)"></i><i style="top:185.08px;height:3.18px;background:linear-gradient(90deg,#bfff40 26px,#ff0 55px,#0ff 84px,#00bfff 113px,#0080ff 142px,#0080ff 171px,#80ff80 200px,#bfff40 229px,#bfff40 258px,#80ff80 287px,#40ffbf 316px,#40ffbf 345px,#40ffbf 373px,#0ff 402px,#40ffbf 431px,#40ffbf 460px,#0ff 489px,#0ff 518px,#0ff 547px,#0ff 576px,#0ff 605px,#0ff 634px,#0ff 663px,#0ff 692px)"></i><i style="top:187.67px;height:3.18px;background:linear-gradient(90deg,#bfff40 26px,#eaff15 55px,#15ffea 84px,#00d4ff 113px,#0095ff 142px,#0095ff 171px,#95ff6a 200px,#bfff40 229px,#af5 258px,#80ff80 287px,#5fa 316px,#5fa 345px,#5fa 373px,#0ff 402px,#2bffd4 431px,#2bffd4 460px,#15ffea 489px,#15ffea 518px,#15ffea 547px,#40ffbf 576px,#15ffea 605px,#15ffea 634px,#15ffea 663px,#15ffea 692px)"></i><i style="top:190.25px;height:3.18px;background:linear-gradient(90deg,#bfff40 26px,#d4ff2b 55px,#2bffd4 84px,#00eaff 113px,#0af 142px,#0af 171px,#af5 200px,#bfff40 229px,#95ff6a 258px,#80ff80 287px,#6aff95 316px,#6aff95 345px,#6aff95 373px,#0ff 402px,#15ffea 431px,#15ffea 460px,#2bffd4 489px,#2bffd4 518px,#2bffd4 547px,#80ff7f 576px,#2bffd4 605px,#2bffd4 634px,#2bffd4 663px,#2bffd4 692px)"></i><i style="top:192.83px;height:3.18px;background:linear-gradient(90deg,#bfff40 26px,#bfff40 55px,#40ffbf 84px,#0ff 113px,#00bfff 142px,#00bfff 171px,#bfff40 200px,#bfff40 229px,#80ff80 258px,#80ff80 287px,#80ff80 316px,#80ff80 345px,#80ff80 373px,#0ff 402px,#0ff 431px,#0ff 460px,#40ffbf 489px,#40ffbf 518px,#40ffbf 547px,#bfff40 576px,#40ffbf 605px,#40ffbf 634px,#40ffbf 663px,#40ffbf 692px)"></i><i style="top:195.42px;height:3.18px;background:linear-gradient(90deg,#bfff40 26px,#bfff40 55px,#6aff95 84px,#2affd5 113px,#00d4ff 142px,#00eaff 171px,#af5 200px,#bfff40 229px,#95ff6a 258px,#95ff6a 287px,#95ff6a 316px,#80ff80 345px,#80ff80 373px,#15ffea 402px,#15ffea 431px,#0ff 460px,#40ffbf 489px,#5fa 518px,#6aff95 547px,#bfff40 576px,#6aff95 605px,#6aff95 634px,#5fa 663px,#5fa 692px)"></i><i style="top:198.00px;height:3.18px;background:linear-gradient(90deg,#bfff40 26px,#bfff40 55px,#95ff6a 84px,#5fa 113px,#00eaff 142px,#15ffea 171px,#95ff6a 200px,#bfff40 229px,#af5 258px,#af5 287px,#af5 316px,#80ff80 345px,#80ff80 373px,#2bffd4 402px,#2bffd4 431px,#0ff 460px,#40ffbf 489px,#6aff95 518px,#95ff6a 547px,#bfff40 576px,#95ff6a 605px,#95ff6a 634px,#6aff95 663px,#6aff95 692px)"></i><i style="top:200.58px;height:3.18px;background:linear-gradient(90deg,#bfff40 26px,#bfff40 55px,#bfff40 84px,#80ff80 113px,#0ff 142px,#40ffbf 171px,#80ff80 200px,#bfff40 229px,#bfff40 258px,#bfff40 287px,#bfff40 316px,#80ff80 345px,#80ff80 373px,#40ffbf 402px,#40ffbf 431px,#0ff 460px,#40ffbf 489px,#80ff80 518px,#bfff40 547px,#bfff40 576px,#bfff40 605px,#bfff40 634px,#80ff80 663px,#80ff80 692px)"></i><i style="top:203.17px;height:3.18px;background:linear-gradient(90deg,#d4ff2b 26px,#d4ff2b 55px,#d4ff2b 84px,#95ff6a 113px,#40ffbf 142px,#6aff95 171px,#95ff6a 200px,#bfff40 229px,#bfff40 258px,#bfff40 287px,#af5 316px,#80ff80 345px,#80ff80 373px,#5fa 402px,#7fff80 431px,#5fa 460px,#7fff80 489px,#af5 518px,#d4ff2b 547px,#eaff15 576px,#d4ff2b 605px,#bfff40 634px,#95ff6a 663px,#95ff6a 692px)"></i><i style="top:205.75px;height:3.18px;background:linear-gradient(90deg,#eaff15 26px,#eaff15 55px,#eaff15 84px,#af5 113px,#80ff7f 142px,#95ff6a 171px,#af5 200px,#bfff40 229px,#bfff40 258px,#bfff40 287px,#95ff6a 316px,#80ff80 345px,#80ff80 373px,#6aff95 402px,#bfff40 431px,#af5 460px,#bfff40 489px,#d5ff2a 518px,#eaff15 547px,#ffea00 576px,#eaff15 605px,#bfff40 634px,#af5 663px,#af5 692px)"></i><i style="top:208.33px;height:3.18px;background:linear-gradient(90deg,#ff0 26px,#ff0 55px,#ff0 84px,#bfff40 113px,#bfff40 142px,#bfff40 171px,#bfff40 200px,#bfff40 229px,#bfff40 258px,#bfff40 287px,#80ff80 316px,#80ff80 345px,#80ff80 373px,#80ff80 402px,#ff0 431px,#ff0 460px,#ff0 489px,#ff0 518px,#ff0 547px,#ffbf00 576px,#ff0 605px,#bfff40 634px,#bfff40 663px,#bfff40 692px)"></i><i style="top:210.92px;height:3.18px;background:linear-gradient(90deg,#eaff15 26px,#d5ff2a 55px,#ff0 84px,#bfff40 113px,#95ff6a 142px,#af5 171px,#d4ff2b 200px,#d4ff2b 229px,#af5 258px,#af5 287px,#80ff80 316px,#80ff80 345px,#80ff80 373px,#80ff80 402px,#ffea00 431px,#ff0 460px,#ff0 489px,#ff0 518px,#ff0 547px,#ffd400 576px,#ff0 605px,#d4ff2b 634px,#d4ff2b 663px,#d4ff2b 692px)"></i><i style="top:213.50px;height:3.18px;background:linear-gradient(90deg,#d4ff2b 26px,#af5 55px,#ff0 84px,#bfff40 113px,#6aff95 142px,#95ff6a 171px,#eaff15 200px,#eaff15 229px,#95ff6a 258px,#95ff6a 287px,#80ff80 316px,#80ff80 345px,#80ff80 373px,#80ff80 402px,#ffd400 431px,#ff0 460px,#ff0 489px,#ff0 518px,#ff0 547px,#ffea00 576px,#ff0 605px,#eaff15 634px,#eaff15 663px,#eaff15 692px)"></i><i style="top:216.08px;height:3.18px;background:linear-gradient(90deg,#bfff40 26px,#80ff80 55px,#ff0 84px,#bfff40 113px,#40ffbf 142px,#80ff80 171px,#ff0 200px,#ff0 229px,#80ff80 258px,#80ff80 287px,#80ff80 316px,#80ff80 345px,#80ff80 373px,#80ff80 402px,#ffbf00 431px,#ff0 460px,#ff0 489px,#ff0 518px,#ff0 547px,#ff0 576px,#ff0 605px,#ff0 634px,#ff0 663px,#ff0 692px)"></i><i style="top:218.67px;height:3.18px;background:linear-gradient(90deg,#d4ff2b 26px,#af5 55px,#ff0 84px,#d4ff2b 113px,#40ffbf 142px,#6aff95 171px,#eaff15 200px,#ff0 229px,#af5 258px,#95ff6a 287px,#80ff80 316px,#95ff6a 345px,#80ff80 373px,#80ff80 402px,#ffd400 431px,#ffea00 460px,#ff0 489px,#ff0 518px,#ff0 547px,#eaff15 576px,#ff0 605px,#ffea00 634px,#ff0 663px,#ff0 692px)"></i><i style="top:221.25px;height:3.18px;background:linear-gradient(90deg,#eaff15 26px,#d5ff2a 55px,#ff0 84px,#eaff15 113px,#40ffbf 142px,#5fa 171px,#d4ff2b 200px,#ff0 229px,#d5ff2a 258px,#af5 287px,#80ff80 316px,#af5 345px,#80ff80 373px,#80ff80 402px,#ffea00 431px,#ffd400 460px,#ff0 489px,#ff0 518px,#ff0 547px,#d4ff2b 576px,#ff0 605px,#ffd400 634px,#ff0 663px,#ff0 692px)"></i><i style="top:223.83px;height:3.18px;background:linear-gradient(90deg,#ff0 26px,#ff0 55px,#ff0 84px,#ff0 113px,#40ffbf 142px,#40ffbf 171px,#bfff40 200px,#ff0 229px,#ff0 258px,#bfff40 287px,#80ff80 316px,#bfff40 345px,#80ff80 373px,#80ff80 402px,#ff0 431px,#ffbf00 460px,#ff0 489px,#ff0 518px,#ff0 547px,#bfff40 576px,#ff0 605px,#ffbf00 634px,#ff0 663px,#ff0 692px)"></i><i style="top:226.42px;height:3.18px;background:linear-gradient(90deg,#ffea00 26px,#ffea00 55px,#eaff15 84px,#eaff15 113px,#7fff80 142px,#7fff80 171px,#af5 200px,#eaff15 229px,#ffea00 258px,#eaff15 287px,#80ff80 316px,#d4ff2b 345px,#95ff6a 373px,#95ff6a 402px,#ffea00 431px,#ffbf00 460px,#ffea00 489px,#ffea00 518px,#ffea00 547px,#eaff15 576px,#ffea00 605px,#ffd400 634px,#ff0 663px,#ff0 692px)"></i><i style="top:229.00px;height:3.18px;background:linear-gradient(90deg,#ffd400 26px,#ffd400 55px,#d4ff2b 84px,#d4ff2b 113px,#bfff40 142px,#bfff40 171px,#95ff6a 200px,#d4ff2b 229px,#ffd400 258px,#ffea00 287px,#80ff80 316px,#eaff15 345px,#af5 373px,#af5 402px,#ffd400 431px,#ffbf00 460px,#ffd400 489px,#ffd400 518px,#ffd400 547px,#ffea00 576px,#ffd400 605px,#ffea00 634px,#ff0 663px,#ff0 692px)"></i><i style="top:231.58px;height:3.18px;background:linear-gradient(90deg,#ffbf00 26px,#ffbf00 55px,#bfff40 84px,#bfff40 113px,#ff0 142px,#ff0 171px,#80ff80 200px,#bfff40 229px,#ffbf00 258px,#ffbf00 287px,#80ff80 316px,#ff0 345px,#bfff40 373px,#bfff40 402px,#ffbf00 431px,#ffbf00 460px,#ffbf00 489px,#ffbf00 518px,#ffbf00 547px,#ffbf00 576px,#ffbf00 605px,#ff0 634px,#ff0 663px,#ff0 692px)"></i><i style="top:234.17px;height:3.18px;background:linear-gradient(90deg,#ffbf00 26px,#ffd400 55px,#bfff40 84px,#af5 113px,#ffea00 142px,#ff0 171px,#af5 200px,#d4ff2b 229px,#ffea00 258px,#ffea00 287px,#af5 316px,#ffea00 345px,#d4ff2b 373px,#d4ff2b 402px,#ffbf00 431px,#ffbf00 460px,#ffbf00 489px,#fa0 518px,#fa0 547px,#ffd400 576px,#ffbf00 605px,#ff0 634px,#ffea00 663px,#ffea00 692px)"></i><i style="top:236.75px;height:3.18px;background:linear-gradient(90deg,#ffbf00 26px,#ffea00 55px,#bfff40 84px,#95ff6a 113px,#ffd400 142px,#ff0 171px,#d5ff2a 200px,#eaff15 229px,#eaff15 258px,#eaff15 287px,#d5ff2a 316px,#ffd400 345px,#eaff15 373px,#eaff15 402px,#ffbf00 431px,#ffbf00 460px,#ffbf00 489px,#ff9500 518px,#ff9500 547px,#ffea00 576px,#ffbf00 605px,#ff0 634px,#ffd400 663px,#ffd400 692px)"></i><i style="top:239.33px;height:3.18px;background:linear-gradient(90deg,#ffbf00 26px,#ff0 55px,#bfff40 84px,#80ff80 113px,#ffbf00 142px,#ff0 171px,#ff0 200px,#ff0 229px,#bfff40 258px,#bfff40 287px,#ff0 316px,#ffbf00 345px,#ff0 373px,#ff0 402px,#ffbf00 431px,#ffbf00 460px,#ffbf00 489px,#ff8000 518px,#ff8000 547px,#ff0 576px,#ffbf00 605px,#ff0 634px,#ffbf00 663px,#ffbf00 692px)"></i><i style="top:241.92px;height:3.18px;background:linear-gradient(90deg,#ff0 26px,#eaff15 55px,#d4ff2b 84px,#af5 113px,#ff0 142px,#eaff15 171px,#ffea00 200px,#ff0 229px,#af5 258px,#af5 287px,#ffbf00 316px,#ffea00 345px,#ffea00 373px,#ff0 402px,#ffbf00 431px,#ffd400 460px,#ffd400 489px,#fa0 518px,#fa0 547px,#ff0 576px,#ffd400 605px,#ff0 634px,#ffbf00 663px,#ffd400 692px)"></i><i style="top:244.50px;height:3.18px;background:linear-gradient(90deg,#bfff40 26px,#d4ff2b 55px,#eaff15 84px,#d5ff2a 113px,#bfff40 142px,#d4ff2b 171px,#ffd400 200px,#ff0 229px,#95ff6a 258px,#95ff6a 287px,#ff7f00 316px,#eaff15 345px,#ffd400 373px,#ff0 402px,#ffbf00 431px,#ffea00 460px,#ffea00 489px,#ffd500 518px,#ffd500 547px,#ff0 576px,#ffea00 605px,#ff0 634px,#ffbf00 663px,#ffea00 692px)"></i><i style="top:247.08px;height:3.18px;background:linear-gradient(90deg,#80ff80 26px,#bfff40 55px,#ff0 84px,#ff0 113px,#80ff80 142px,#bfff40 171px,#ffbf00 200px,#ff0 229px,#80ff80 258px,#80ff80 287px,#ff4000 316px,#bfff40 345px,#ffbf00 373px,#ff0 402px,#ffbf00 431px,#ff0 460px,#ff0 489px,#ff0 518px,#ff0 547px,#ff0 576px,#ff0 605px,#ff0 634px,#ffbf00 663px,#ff0 692px)"></i><i style="top:249.67px;height:3.18px;background:linear-gradient(90deg,#bfff40 26px,#d4ff2b 55px,#ffd500 84px,#eaff15 113px,#bfff40 142px,#d4ff2b 171px,#ffd400 200px,#ffea00 229px,#d4ff2b 258px,#80ff80 287px,#ffbf00 316px,#bfff40 345px,#ff0 373px,#eaff15 402px,#ffbf00 431px,#ff0 460px,#ff0 489px,#ff0 518px,#eaff15 547px,#eaff15 576px,#ff0 605px,#ff0 634px,#ffea00 663px,#eaff15 692px)"></i><i style="top:252.25px;height:3.18px;background:linear-gradient(90deg,#ff0 26px,#eaff15 55px,#fa0 84px,#d4ff2b 113px,#ff0 142px,#eaff15 171px,#ffea00 200px,#ffd400 229px,#ffd400 258px,#80ff80 287px,#bfff40 316px,#bfff40 345px,#bfff40 373px,#d4ff2b 402px,#ffbf00 431px,#ff0 460px,#ff0 489px,#ff0 518px,#d4ff2b 547px,#d4ff2b 576px,#ff0 605px,#ff0 634px,#eaff15 663px,#d4ff2b 692px)"></i><i style="top:254.83px;height:3.18px;background:linear-gradient(90deg,#ffbf00 26px,#ff0 55px,#ff8000 84px,#bfff40 113px,#ffbf00 142px,#ff0 171px,#ff0 200px,#ffbf00 229px,#ff8000 258px,#80ff80 287px,#40ffbf 316px,#bfff40 345px,#80ff80 373px,#bfff40 402px,#ffbf00 431px,#ff0 460px,#ff0 489px,#ff0 518px,#bfff40 547px,#bfff40 576px,#ff0 605px,#ff0 634px,#bfff40 663px,#bfff40 692px)"></i><i style="top:257.42px;height:3.18px;background:linear-gradient(90deg,#ffbf00 26px,#ffd500 55px,#ffd400 84px,#d4ff2b 113px,#ffea00 142px,#ff0 171px,#ff0 200px,#ffd400 229px,#fa0 258px,#d4ff2b 287px,#7fff80 316px,#eaff15 345px,#80ff80 373px,#af5 402px,#ffd400 431px,#ffd500 460px,#ffea00 489px,#ffd500 518px,#d4ff2b 547px,#ff0 576px,#ffea00 605px,#ff0 634px,#ff0 663px,#eaff15 692px)"></i><i style="top:260.00px;height:3.18px;background:linear-gradient(90deg,#ffbf00 26px,#fa0 55px,#d5ff2a 84px,#eaff15 113px,#eaff15 142px,#ff0 171px,#ff0 200px,#ffea00 229px,#ffd400 258px,#ffd500 287px,#bfff40 316px,#ffea00 345px,#80ff80 373px,#95ff6a 402px,#ffea00 431px,#fa0 460px,#ffd500 489px,#fa0 518px,#eaff15 547px,#ffbf00 576px,#ffd500 605px,#ff0 634px,#ffbf00 663px,#ffea00 692px)"></i><i style="top:262.58px;height:3.18px;background:linear-gradient(90deg,#ffbf00 26px,#ff8000 55px,#80ff80 84px,#ff0 113px,#bfff40 142px,#ff0 171px,#ff0 200px,#ff0 229px,#ff0 258px,#ff8000 287px,#ff0 316px,#ffbf00 345px,#80ff80 373px,#80ff80 402px,#ff0 431px,#ff8000 460px,#ffbf00 489px,#ff8000 518px,#ff0 547px,#ff8000 576px,#ffbf00 605px,#ff0 634px,#ff8000 663px,#ffbf00 692px)"></i><i style="top:265.17px;height:3.18px;background:linear-gradient(90deg,#ffd500 26px,#ffbf00 55px,#80ff80 84px,#ff0 113px,#d5ff2a 142px,#ffea00 171px,#ffea00 200px,#ffea00 229px,#eaff15 258px,#fa0 287px,#ffd400 316px,#ffbf00 345px,#bfff40 373px,#af5 402px,#ffd400 431px,#fa0 460px,#ffd500 489px,#fa0 518px,#ffea00 547px,#fa0 576px,#ffd500 605px,#ffea00 634px,#ff8000 663px,#fa0 692px)"></i><i style="top:267.75px;height:3.18px;background:linear-gradient(90deg,#ffea00 26px,#ff0 55px,#80ff80 84px,#ff0 113px,#eaff15 142px,#ffd500 171px,#ffd500 200px,#ffd500 229px,#d5ff2a 258px,#ffd400 287px,#fa0 316px,#ffbf00 345px,#ff0 373px,#d4ff2b 402px,#fa0 431px,#ffd400 460px,#ffea00 489px,#ffd400 518px,#ffd500 547px,#ffd400 576px,#ffea00 605px,#ffd500 634px,#ff8000 663px,#ff9500 692px)"></i><i style="top:270.33px;height:3.18px;background:linear-gradient(90deg,#ff0 26px,#bfff40 55px,#80ff80 84px,#ff0 113px,#ff0 142px,#ffbf00 171px,#ffbf00 200px,#ffbf00 229px,#bfff40 258px,#ff0 287px,#ff8000 316px,#ffbf00 345px,#ffbf00 373px,#ff0 402px,#ff8000 431px,#ff0 460px,#ff0 489px,#ff0 518px,#ffbf00 547px,#ff0 576px,#ff0 605px,#ffbf00 634px,#ff8000 663px,#ff8000 692px)"></i><i style="top:272.92px;height:3.18px;background:linear-gradient(90deg,#ffea00 26px,#eaff15 55px,#eaff15 84px,#ffea00 113px,#ff0 142px,#ffd500 171px,#ffd500 200px,#ffd500 229px,#eaff15 258px,#ff0 287px,#fa0 316px,#ffd500 345px,#ffd500 373px,#ff0 402px,#ff9500 431px,#ffea00 460px,#ffea00 489px,#ffea00 518px,#fa0 547px,#ffea00 576px,#ffea00 605px,#ffd500 634px,#fa0 663px,#fa0 692px)"></i><i style="top:275.50px;height:3.18px;background:linear-gradient(90deg,#ffd500 26px,#ffea00 55px,#fa0 84px,#ffd500 113px,#ff0 142px,#ffea00 171px,#ffea00 200px,#ffea00 229px,#ffea00 258px,#ff0 287px,#ffd400 316px,#ffea00 345px,#ffea00 373px,#ff0 402px,#fa0 431px,#ffd500 460px,#ffd500 489px,#ffd500 518px,#ff9500 547px,#ffd500 576px,#ffd500 605px,#ffea00 634px,#ffd400 663px,#ffd400 692px)"></i><i style="top:278.08px;height:3.18px;background:linear-gradient(90deg,#ffbf00 26px,#ffbf00 55px,#ff4000 84px,#ffbf00 113px,#ff0 142px,#ff0 171px,#ff0 200px,#ff0 229px,#ffbf00 258px,#ff0 287px,#ff0 316px,#ff0 345px,#ff0 373px,#ff0 402px,#ffbf00 431px,#ffbf00 460px,#ffbf00 489px,#ffbf00 518px,#ff8000 547px,#ffbf00 576px,#ffbf00 605px,#ff0 634px,#ff0 663px,#ff0 692px)"></i><i style="top:280.67px;height:3.18px;background:linear-gradient(90deg,#fa0 26px,#fa0 55px,#ff9500 84px,#ffbf00 113px,#ff0 142px,#ff0 171px,#ff0 200px,#ff0 229px,#ffd500 258px,#ff0 287px,#ff0 316px,#ff0 345px,#ff0 373px,#eaff15 402px,#ffbf00 431px,#ff9500 460px,#ffbf00 489px,#ffbf00 518px,#ff8000 547px,#fa0 576px,#fa0 605px,#ffea00 634px,#ffea00 663px,#ffea00 692px)"></i><i style="top:283.25px;height:3.18px;background:linear-gradient(90deg,#ff9500 26px,#ff9500 55px,#ffea00 84px,#ffbf00 113px,#ff0 142px,#ff0 171px,#ff0 200px,#ff0 229px,#ffea00 258px,#ff0 287px,#ff0 316px,#ff0 345px,#ff0 373px,#d5ff2a 402px,#ffbf00 431px,#ff6a00 460px,#ffbf00 489px,#ffbf00 518px,#ff8000 547px,#ff9500 576px,#ff9500 605px,#ffd500 634px,#ffd500 663px,#ffd500 692px)"></i><i style="top:285.83px;height:3.18px;background:linear-gradient(90deg,#ff8000 26px,#ff8000 55px,#bfff40 84px,#ffbf00 113px,#ff0 142px,#ff0 171px,#ff0 200px,#ff0 229px,#ff0 258px,#ff0 287px,#ff0 316px,#ff0 345px,#ff0 373px,#bfff40 402px,#ffbf00 431px,#ff4000 460px,#ffbf00 489px,#ffbf00 518px,#ff8000 547px,#ff8000 576px,#ff8000 605px,#ffbf00 634px,#ffbf00 663px,#ffbf00 692px)"></i><i style="top:288.42px;height:3.18px;background:linear-gradient(90deg,#fa0 26px,#ffbf00 55px,#eaff15 84px,#ffd500 113px,#ff0 142px,#ffea00 171px,#eaff15 200px,#eaff15 229px,#ff0 258px,#ff0 287px,#ff0 316px,#eaff15 345px,#ff0 373px,#eaff15 402px,#ffbf00 431px,#ff6a00 460px,#fa0 489px,#fa0 518px,#ff8000 547px,#ff9500 576px,#ff9500 605px,#fa0 634px,#ffbf00 663px,#ffbf00 692px)"></i><i style="top:291.00px;height:3.18px;background:linear-gradient(90deg,#ffd400 26px,#ff0 55px,#ffea00 84px,#ffea00 113px,#ff0 142px,#ffd500 171px,#d5ff2a 200px,#d5ff2a 229px,#ff0 258px,#ff0 287px,#ff0 316px,#d5ff2a 345px,#ff0 373px,#ffea00 402px,#ffbf00 431px,#ff9500 460px,#ff9500 489px,#ff9500 518px,#ff8000 547px,#fa0 576px,#fa0 605px,#ff9500 634px,#ffbf00 663px,#ffbf00 692px)"></i><i style="top:293.58px;height:3.18px;background:linear-gradient(90deg,#ff0 26px,#bfff40 55px,#ffbf00 84px,#ff0 113px,#ff0 142px,#ffbf00 171px,#bfff40 200px,#bfff40 229px,#ff0 258px,#ff0 287px,#ff0 316px,#bfff40 345px,#ff0 373px,#ffbf00 402px,#ffbf00 431px,#ffbf00 460px,#ff8000 489px,#ff8000 518px,#ff8000 547px,#ffbf00 576px,#ffbf00 605px,#ff8000 634px,#ffbf00 663px,#ffbf00 692px)"></i><i style="top:296.17px;height:3.18px;background:linear-gradient(90deg,#eaff15 26px,#d5ff2a 55px,#ff9500 84px,#ffea00 113px,#ff0 142px,#ffea00 171px,#d5ff2a 200px,#d5ff2a 229px,#ffea00 258px,#eaff15 287px,#eaff15 316px,#d5ff2a 345px,#eaff15 373px,#ffd500 402px,#ffd500 431px,#ffbf00 460px,#ff9500 489px,#ff9500 518px,#ff9500 547px,#ffbf00 576px,#ffd500 605px,#fa0 634px,#ffbf00 663px,#ffbf00 692px)"></i><i style="top:298.75px;height:3.18px;background:linear-gradient(90deg,#d5ff2a 26px,#eaff15 55px,#ff6a00 84px,#ffd500 113px,#ff0 142px,#eaff15 171px,#eaff15 200px,#eaff15 229px,#ffd500 258px,#d5ff2a 287px,#d5ff2a 316px,#eaff15 345px,#d5ff2a 373px,#ffea00 402px,#ffea00 431px,#ffbf00 460px,#fa0 489px,#fa0 518px,#fa0 547px,#ffbf00 576px,#ffea00 605px,#ffd400 634px,#ffbf00 663px,#ffbf00 692px)"></i><i style="top:301.33px;height:3.18px;background:linear-gradient(90deg,#bfff40 26px,#ff0 55px,#ff4000 84px,#ffbf00 113px,#ff0 142px,#bfff40 171px,#ff0 200px,#ff0 229px,#ffbf00 258px,#bfff40 287px,#bfff40 316px,#ff0 345px,#bfff40 373px,#ff0 402px,#ff0 431px,#ffbf00 460px,#ffbf00 489px,#ffbf00 518px,#ffbf00 547px,#ffbf00 576px,#ff0 605px,#ff0 634px,#ffbf00 663px,#ffbf00 692px)"></i><i style="top:303.92px;height:3.18px;background:linear-gradient(90deg,#ff0 26px,#ffd400 55px,#ff9500 84px,#ffea00 113px,#ff0 142px,#d5ff2a 171px,#d4ff2b 200px,#d4ff2b 229px,#ffea00 258px,#af5 287px,#af5 316px,#eaff15 345px,#bfff40 373px,#eaff15 402px,#eaff15 431px,#ffd500 460px,#ffd500 489px,#ffd500 518px,#ffbf00 547px,#ffd500 576px,#ffea00 605px,#ffea00 634px,#ffbf00 663px,#ffd500 692px)"></i><i style="top:306.50px;height:3.18px;background:linear-gradient(90deg,#ffbf00 26px,#fa0 55px,#ffea00 84px,#eaff15 113px,#ff0 142px,#eaff15 171px,#af5 200px,#af5 229px,#eaff15 258px,#95ff6a 287px,#95ff6a 316px,#d5ff2a 345px,#bfff40 373px,#d5ff2a 402px,#d5ff2a 431px,#ffea00 460px,#ffea00 489px,#ffea00 518px,#ffbf00 547px,#ffea00 576px,#ffd500 605px,#ffd500 634px,#ffbf00 663px,#ffea00 692px)"></i><i style="top:309.08px;height:3.18px;background:linear-gradient(90deg,#ff8000 26px,#ff8000 55px,#bfff40 84px,#bfff40 113px,#ff0 142px,#ff0 171px,#80ff80 200px,#80ff80 229px,#bfff40 258px,#80ff80 287px,#80ff80 316px,#bfff40 345px,#bfff40 373px,#bfff40 402px,#bfff40 431px,#ff0 460px,#ff0 489px,#ff0 518px,#ffbf00 547px,#ff0 576px,#ffbf00 605px,#ffbf00 634px,#ffbf00 663px,#ff0 692px)"></i><i style="top:311.67px;height:3.18px;background:linear-gradient(90deg,#fa0 26px,#ffbf00 55px,#d5ff2a 84px,#d5ff2a 113px,#ffea00 142px,#ffd400 171px,#6aff95 200px,#6aff95 229px,#af5 258px,#80ff80 287px,#95ff6a 316px,#af5 345px,#bfff40 373px,#bfff40 402px,#af5 431px,#eaff15 460px,#ff0 489px,#ff0 518px,#ffd500 547px,#ffea00 576px,#ffd500 605px,#ffd500 634px,#ffd500 663px,#ff0 692px)"></i><i style="top:314.25px;height:3.18px;background:linear-gradient(90deg,#ffd400 26px,#ff0 55px,#eaff15 84px,#eaff15 113px,#ffd500 142px,#fa0 171px,#5fa 200px,#5fa 229px,#95ff6a 258px,#80ff80 287px,#af5 316px,#95ff6a 345px,#bfff40 373px,#bfff40 402px,#95ff6a 431px,#d5ff2a 460px,#ff0 489px,#ff0 518px,#ffea00 547px,#ffd500 576px,#ffea00 605px,#ffea00 634px,#ffea00 663px,#ff0 692px)"></i><i style="top:316.83px;height:3.18px;background:linear-gradient(90deg,#ff0 26px,#bfff40 55px,#ff0 84px,#ff0 113px,#ffbf00 142px,#ff8000 171px,#40ffbf 200px,#40ffbf 229px,#80ff80 258px,#80ff80 287px,#bfff40 316px,#80ff80 345px,#bfff40 373px,#bfff40 402px,#80ff80 431px,#bfff40 460px,#ff0 489px,#ff0 518px,#ff0 547px,#ffbf00 576px,#ff0 605px,#ff0 634px,#ff0 663px,#ff0 692px)"></i><i style="top:319.42px;height:3.18px;background:linear-gradient(90deg,#d4ff2b 26px,#d5ff2a 55px,#ffd400 84px,#ffd400 113px,#ffbf00 142px,#fa0 171px,#40ffbf 200px,#40ffbf 229px,#6aff95 258px,#6aff95 287px,#af5 316px,#80ff80 345px,#af5 373px,#bfff40 402px,#80ff80 431px,#af5 460px,#d4ff2b 489px,#eaff15 518px,#ff0 547px,#ffea00 576px,#eaff15 605px,#eaff15 634px,#eaff15 663px,#ff0 692px)"></i><i style="top:322.00px;height:3.18px;background:linear-gradient(90deg,#af5 26px,#eaff15 55px,#fa0 84px,#fa0 113px,#ffbf00 142px,#ffd400 171px,#40ffbf 200px,#40ffbf 229px,#5fa 258px,#5fa 287px,#95ff6a 316px,#80ff80 345px,#95ff6a 373px,#bfff40 402px,#80ff80 431px,#95ff6a 460px,#af5 489px,#d5ff2a 518px,#ff0 547px,#eaff15 576px,#d5ff2a 605px,#d5ff2a 634px,#d5ff2a 663px,#ff0 692px)"></i><i style="top:324.58px;height:3.18px;background:linear-gradient(90deg,#80ff80 26px,#ff0 55px,#ff8000 84px,#ff8000 113px,#ffbf00 142px,#ff0 171px,#40ffbf 200px,#40ffbf 229px,#40ffbf 258px,#40ffbf 287px,#80ff80 316px,#80ff80 345px,#80ff80 373px,#bfff40 402px,#80ff80 431px,#80ff80 460px,#80ff80 489px,#bfff40 518px,#ff0 547px,#bfff40 576px,#bfff40 605px,#bfff40 634px,#bfff40 663px,#ff0 692px)"></i><i style="top:327.17px;height:3.18px;background:linear-gradient(90deg,#95ff6a 26px,#eaff15 55px,#fa0 84px,#fa0 113px,#ffd500 142px,#ff0 171px,#40ffbf 200px,#2affd5 229px,#5fa 258px,#40ffbf 287px,#6aff95 316px,#6aff95 345px,#80ff80 373px,#af5 402px,#6aff95 431px,#6aff95 460px,#6aff95 489px,#af5 518px,#bfff40 547px,#95ff6a 576px,#af5 605px,#af5 634px,#af5 663px,#d4ff2b 692px)"></i><i style="top:329.75px;height:3.18px;background:linear-gradient(90deg,#af5 26px,#d5ff2a 55px,#ffd400 84px,#ffd400 113px,#ffea00 142px,#ff0 171px,#40ffbf 200px,#15ffea 229px,#6aff95 258px,#40ffbf 287px,#5fa 316px,#5fa 345px,#80ff80 373px,#95ff6a 402px,#5fa 431px,#5fa 460px,#5fa 489px,#95ff6a 518px,#80ff7f 547px,#6aff95 576px,#95ff6a 605px,#95ff6a 634px,#95ff6a 663px,#af5 692px)"></i><i style="top:332.33px;height:3.18px;background:linear-gradient(90deg,#bfff40 26px,#bfff40 55px,#ff0 84px,#ff0 113px,#ff0 142px,#ff0 171px,#40ffbf 200px,#0ff 229px,#80ff80 258px,#40ffbf 287px,#40ffbf 316px,#40ffbf 345px,#80ff80 373px,#80ff80 402px,#40ffbf 431px,#40ffbf 460px,#40ffbf 489px,#80ff80 518px,#40ffbf 547px,#40ffbf 576px,#80ff80 605px,#80ff80 634px,#80ff80 663px,#80ff80 692px)"></i><i style="top:334.92px;height:3.18px;background:linear-gradient(90deg,#7fff80 26px,#7fff80 55px,#eaff15 84px,#d4ff2b 113px,#eaff15 142px,#eaff15 171px,#15ffea 200px,#0ff 229px,#80ff80 258px,#5fa 287px,#5fa 316px,#40ffbf 345px,#6aff95 373px,#80ff80 402px,#40ffbf 431px,#40ffbf 460px,#40ffbf 489px,#6aff95 518px,#6aff95 547px,#6aff95 576px,#80ff80 605px,#95ff6a 634px,#95ff6a 663px,#80ff80 692px)"></i><i style="top:337.50px;height:3.18px;background:linear-gradient(90deg,#40ffbf 26px,#40ffbf 55px,#d5ff2a 84px,#af5 113px,#d5ff2a 142px,#d5ff2a 171px,#00eaff 200px,#0ff 229px,#80ff80 258px,#6aff95 287px,#6aff95 316px,#40ffbf 345px,#5fa 373px,#80ff80 402px,#40ffbf 431px,#40ffbf 460px,#40ffbf 489px,#5fa 518px,#95ff6a 547px,#95ff6a 576px,#80ff80 605px,#af5 634px,#af5 663px,#80ff80 692px)"></i><i style="top:340.08px;height:3.18px;background:linear-gradient(90deg,#0ff 26px,#0ff 55px,#bfff40 84px,#80ff80 113px,#bfff40 142px,#bfff40 171px,#00bfff 200px,#0ff 229px,#80ff80 258px,#80ff80 287px,#80ff80 316px,#40ffbf 345px,#40ffbf 373px,#80ff80 402px,#40ffbf 431px,#40ffbf 460px,#40ffbf 489px,#40ffbf 518px,#bfff40 547px,#bfff40 576px,#80ff80 605px,#bfff40 634px,#bfff40 663px,#80ff80 692px)"></i><i style="top:342.67px;height:3.18px;background:linear-gradient(90deg,#15ffea 26px,#15ffea 55px,#95ff6a 84px,#80ff80 113px,#af5 142px,#95ff6a 171px,#00d5ff 200px,#00eaff 229px,#2affd5 258px,#5fa 287px,#6aff95 316px,#40ffbf 345px,#5fa 373px,#5fa 402px,#2affd5 431px,#2affd5 460px,#2affd5 489px,#2affd5 518px,#95ff6a 547px,#95ff6a 576px,#6aff95 605px,#95ff6a 634px,#95ff6a 663px,#6aff95 692px)"></i><i style="top:345.25px;height:3.18px;background:linear-gradient(90deg,#2affd5 26px,#2affd5 55px,#6aff95 84px,#80ff80 113px,#95ff6a 142px,#6aff95 171px,#00eaff 200px,#00d5ff 229px,#00d5ff 258px,#2bffd4 287px,#5fa 316px,#40ffbf 345px,#6aff95 373px,#2bffd4 402px,#15ffea 431px,#15ffea 460px,#15ffea 489px,#15ffea 518px,#6aff95 547px,#6aff95 576px,#5fa 605px,#6aff95 634px,#6aff95 663px,#5fa 692px)"></i><i style="top:347.83px;height:3.18px;background:linear-gradient(90deg,#40ffbf 26px,#40ffbf 55px,#40ffbf 84px,#80ff80 113px,#80ff80 142px,#40ffbf 171px,#0ff 200px,#00bfff 229px,#0080ff 258px,#0ff 287px,#40ffbf 316px,#40ffbf 345px,#80ff80 373px,#0ff 402px,#0ff 431px,#0ff 460px,#0ff 489px,#0ff 518px,#40ffbf 547px,#40ffbf 576px,#40ffbf 605px,#40ffbf 634px,#40ffbf 663px,#40ffbf 692px)"></i><i style="top:350.42px;height:3.18px;background:linear-gradient(90deg,#2affd5 26px,#40ffbf 55px,#2affd5 84px,#6aff95 113px,#6aff95 142px,#2affd5 171px,#00eaff 200px,#00d5ff 229px,#0095ff 258px,#00eaff 287px,#2affd5 316px,#2affd5 345px,#6aff95 373px,#0ff 402px,#00eaff 431px,#0ff 460px,#0ff 489px,#0ff 518px,#2affd5 547px,#2affd5 576px,#2affd5 605px,#2affd5 634px,#2affd5 663px,#2affd5 692px)"></i><i style="top:353.00px;height:3.18px;background:linear-gradient(90deg,#15ffea 26px,#40ffbf 55px,#15ffea 84px,#5fa 113px,#5fa 142px,#15ffea 171px,#00d5ff 200px,#00eaff 229px,#0af 258px,#00d5ff 287px,#15ffea 316px,#15ffea 345px,#5fa 373px,#0ff 402px,#00d5ff 431px,#0ff 460px,#0ff 489px,#0ff 518px,#15ffea 547px,#15ffea 576px,#15ffea 605px,#15ffea 634px,#15ffea 663px,#15ffea 692px)"></i><i style="top:355.58px;height:3.18px;background:linear-gradient(90deg,#0ff 26px,#40ffbf 55px,#0ff 84px,#40ffbf 113px,#40ffbf 142px,#0ff 171px,#00bfff 200px,#0ff 229px,#00bfff 258px,#00bfff 287px,#0ff 316px,#0ff 345px,#40ffbf 373px,#0ff 402px,#00bfff 431px,#0ff 460px,#0ff 489px,#0ff 518px,#0ff 547px,#0ff 576px,#0ff 605px,#0ff 634px,#0ff 663px,#0ff 692px)"></i><i style="top:358.17px;height:3.18px;background:linear-gradient(90deg,#00eaff 26px,#0ff 55px,#0ff 84px,#2affd5 113px,#40ffbf 142px,#15ffea 171px,#0af 200px,#00d4ff 229px,#00d5ff 258px,#0af 287px,#00d4ff 316px,#0ff 345px,#2affd5 373px,#15ffea 402px,#00d5ff 431px,#00eaff 460px,#00eaff 489px,#0ff 518px,#0ff 547px,#0ff 576px,#0ff 605px,#0ff 634px,#0ff 663px,#0ff 692px)"></i><i style="top:360.75px;height:3.18px;background:linear-gradient(90deg,#00d5ff 26px,#00bfff 55px,#0ff 84px,#15ffea 113px,#40ffbf 142px,#2affd5 171px,#0095ff 200px,#0af 229px,#00eaff 258px,#0095ff 287px,#0af 316px,#0ff 345px,#15ffea 373px,#2affd5 402px,#00eaff 431px,#00d5ff 460px,#00d5ff 489px,#0ff 518px,#0ff 547px,#0ff 576px,#0ff 605px,#0ff 634px,#0ff 663px,#0ff 692px)"></i><i style="top:363.33px;height:3.18px;background:linear-gradient(90deg,#00bfff 26px,#0080ff 55px,#0ff 84px,#0ff 113px,#40ffbf 142px,#40ffbf 171px,#0080ff 200px,#0080ff 229px,#0ff 258px,#0080ff 287px,#0080ff 316px,#0ff 345px,#0ff 373px,#40ffbf 402px,#0ff 431px,#00bfff 460px,#00bfff 489px,#0ff 518px,#0ff 547px,#0ff 576px,#0ff 605px,#0ff 634px,#0ff 663px,#0ff 692px)"></i><i style="top:365.92px;height:3.18px;background:linear-gradient(90deg,#00bfff 26px,#0095ff 55px,#00eaff 84px,#0ff 113px,#2affd5 142px,#2affd5 171px,#0af 200px,#0080ff 229px,#00d4ff 258px,#0af 287px,#0af 316px,#00eaff 345px,#0ff 373px,#2affd5 402px,#0ff 431px,#00d5ff 460px,#00bfff 489px,#0ff 518px,#00eaff 547px,#00eaff 576px,#0ff 605px,#0ff 634px,#0ff 663px,#0ff 692px)"></i><i style="top:368.50px;height:3.18px;background:linear-gradient(90deg,#00bfff 26px,#0af 55px,#00d5ff 84px,#0ff 113px,#15ffea 142px,#15ffea 171px,#00d4ff 200px,#0080ff 229px,#0af 258px,#00d4ff 287px,#00d4ff 316px,#00d5ff 345px,#0ff 373px,#15ffea 402px,#0ff 431px,#00eaff 460px,#00bfff 489px,#0ff 518px,#00d5ff 547px,#00d5ff 576px,#0ff 605px,#0ff 634px,#0ff 663px,#0ff 692px)"></i><i style="top:371.08px;height:3.18px;background:linear-gradient(90deg,#00bfff 26px,#00bfff 55px,#00bfff 84px,#0ff 113px,#0ff 142px,#0ff 171px,#0ff 200px,#0080ff 229px,#0080ff 258px,#0ff 287px,#0ff 316px,#00bfff 345px,#0ff 373px,#0ff 402px,#0ff 431px,#0ff 460px,#00bfff 489px,#0ff 518px,#00bfff 547px,#00bfff 576px,#0ff 605px,#0ff 634px,#0ff 663px,#0ff 692px)"></i><i style="top:373.67px;height:3.18px;background:linear-gradient(90deg,#00bfff 26px,#00bfff 55px,#00bfff 84px,#00eaff 113px,#00eaff 142px,#00eaff 171px,#0ff 200px,#0af 229px,#0095ff 258px,#00d4ff 287px,#00eaff 316px,#00bfff 345px,#00eaff 373px,#00eaff 402px,#00eaff 431px,#00eaff 460px,#00bfff 489px,#00eaff 518px,#00bfff 547px,#00bfff 576px,#00eaff 605px,#00eaff 634px,#00eaff 663px,#00eaff 692px)"></i><i style="top:376.25px;height:3.18px;background:linear-gradient(90deg,#00bfff 26px,#00bfff 55px,#00bfff 84px,#00d5ff 113px,#00d5ff 142px,#00d5ff 171px,#0ff 200px,#00d4ff 229px,#0af 258px,#0af 287px,#00d5ff 316px,#00bfff 345px,#00d5ff 373px,#00d5ff 402px,#00d5ff 431px,#00d5ff 460px,#00bfff 489px,#00d5ff 518px,#00bfff 547px,#00bfff 576px,#00d5ff 605px,#00d5ff 634px,#00d5ff 663px,#00d5ff 692px)"></i><i style="top:378.83px;height:3.18px;background:linear-gradient(90deg,#00bfff 26px,#00bfff 55px,#00bfff 84px,#00bfff 113px,#00bfff 142px,#00bfff 171px,#0ff 200px,#0ff 229px,#00bfff 258px,#0080ff 287px,#00bfff 316px,#00bfff 345px,#00bfff 373px,#00bfff 402px,#00bfff 431px,#00bfff 460px,#00bfff 489px,#00bfff 518px,#00bfff 547px,#00bfff 576px,#00bfff 605px,#00bfff 634px,#00bfff 663px,#00bfff 692px)"></i><i style="top:381.42px;height:15.18px;background:linear-gradient(90deg,#00bfff 26px,#00bfff 55px,#00bfff 84px,#00bfff 113px,#00bfff 142px,#00bfff 171px,#0ff 200px,#0ff 229px,#00bfff 258px,#0080ff 287px,#00bfff 316px,#00bfff 345px,#00bfff 373px,#00bfff 402px,#00bfff 431px,#00bfff 460px,#00bfff 489px,#00bfff 518px,#00bfff 547px,#00bfff 576px,#00bfff 605px,#00bfff 634px,#00bfff 663px,#00bfff 692px)"></i></div></div><div class="hm" style="left:632px;top:591.5px;width:695px;height:372px"><div class="hi" style="left:-12px;top:-12px;width:719px;height:396px;filter:blur(1.3px)"><i style="top:0.00px;height:15.18px;background:linear-gradient(90deg,#bfff40 26px,#bfff40 55px,#bfff40 84px,#bfff40 113px,#bfff40 142px,#bfff40 171px,#80ff80 200px,#80ff80 229px,#80ff80 258px,#80ff80 287px,#80ff80 316px,#80ff80 345px,#80ff80 374px,#80ff80 403px,#bfff40 432px,#bfff40 461px,#bfff40 490px,#bfff40 519px,#bfff40 548px,#bfff40 577px,#bfff40 606px,#bfff40 635px,#bfff40 664px,#bfff40 693px)"></i><i style="top:14.58px;height:3.18px;background:linear-gradient(90deg,#bfff40 26px,#bfff40 55px,#bfff40 84px,#bfff40 113px,#bfff40 142px,#bfff40 171px,#80ff80 200px,#80ff80 229px,#80ff80 258px,#80ff80 287px,#80ff80 316px,#80ff80 345px,#80ff80 374px,#80ff80 403px,#bfff40 432px,#bfff40 461px,#bfff40 490px,#bfff40 519px,#bfff40 548px,#bfff40 577px,#bfff40 606px,#bfff40 635px,#bfff40 664px,#bfff40 693px)"></i><i style="top:17.17px;height:3.18px;background:linear-gradient(90deg,#d5ff2a 26px,#d5ff2a 55px,#bfff40 84px,#bfff40 113px,#bfff40 142px,#bfff40 171px,#95ff6a 200px,#95ff6a 229px,#95ff6a 258px,#af5 287px,#95ff6a 316px,#95ff6a 345px,#80ff80 374px,#80ff80 403px,#bfff40 432px,#d5ff2a 461px,#bfff40 490px,#bfff40 519px,#bfff40 548px,#bfff40 577px,#bfff40 606px,#bfff40 635px,#bfff40 664px,#bfff40 693px)"></i><i style="top:19.75px;height:3.18px;background:linear-gradient(90deg,#eaff15 26px,#eaff15 55px,#bfff40 84px,#bfff40 113px,#bfff40 142px,#bfff40 171px,#af5 200px,#af5 229px,#af5 258px,#d5ff2a 287px,#af5 316px,#af5 345px,#80ff80 374px,#80ff80 403px,#bfff40 432px,#eaff15 461px,#bfff40 490px,#bfff40 519px,#bfff40 548px,#bfff40 577px,#bfff40 606px,#bfff40 635px,#bfff40 664px,#bfff40 693px)"></i><i style="top:22.33px;height:3.18px;background:linear-gradient(90deg,#ff0 26px,#ff0 55px,#bfff40 84px,#bfff40 113px,#bfff40 142px,#bfff40 171px,#bfff40 200px,#bfff40 229px,#bfff40 258px,#ff0 287px,#bfff40 316px,#bfff40 345px,#80ff80 374px,#80ff80 403px,#bfff40 432px,#ff0 461px,#bfff40 490px,#bfff40 519px,#bfff40 548px,#bfff40 577px,#bfff40 606px,#bfff40 635px,#bfff40 664px,#bfff40 693px)"></i><i style="top:24.92px;height:3.18px;background:linear-gradient(90deg,#eaff15 26px,#eaff15 55px,#bfff40 84px,#d5ff2a 113px,#bfff40 142px,#bfff40 171px,#bfff40 200px,#d5ff2a 229px,#d5ff2a 258px,#eaff15 287px,#bfff40 316px,#d5ff2a 345px,#80ff80 374px,#80ff80 403px,#bfff40 432px,#eaff15 461px,#bfff40 490px,#bfff40 519px,#bfff40 548px,#bfff40 577px,#d5ff2a 606px,#bfff40 635px,#bfff40 664px,#bfff40 693px)"></i><i style="top:27.50px;height:3.18px;background:linear-gradient(90deg,#d4ff2b 26px,#d4ff2b 55px,#bfff40 84px,#eaff15 113px,#bfff40 142px,#bfff40 171px,#bfff40 200px,#eaff15 229px,#eaff15 258px,#d4ff2b 287px,#bfff40 316px,#eaff15 345px,#80ff80 374px,#80ff80 403px,#bfff40 432px,#d4ff2b 461px,#bfff40 490px,#bfff40 519px,#bfff40 548px,#bfff40 577px,#eaff15 606px,#bfff40 635px,#bfff40 664px,#bfff40 693px)"></i><i style="top:30.08px;height:3.18px;background:linear-gradient(90deg,#bfff40 26px,#bfff40 55px,#bfff40 84px,#ff0 113px,#bfff40 142px,#bfff40 171px,#bfff40 200px,#ff0 229px,#ff0 258px,#bfff40 287px,#bfff40 316px,#ff0 345px,#80ff80 374px,#80ff80 403px,#bfff40 432px,#bfff40 461px,#bfff40 490px,#bfff40 519px,#bfff40 548px,#bfff40 577px,#ff0 606px,#bfff40 635px,#bfff40 664px,#bfff40 693px)"></i><i style="top:32.67px;height:3.18px;background:linear-gradient(90deg,#bfff40 26px,#bfff40 55px,#bfff40 84px,#eaff15 113px,#bfff40 142px,#bfff40 171px,#af5 200px,#eaff15 229px,#eaff15 258px,#bfff40 287px,#bfff40 316px,#eaff15 345px,#95ff6a 374px,#95ff6a 403px,#bfff40 432px,#bfff40 461px,#bfff40 490px,#bfff40 519px,#d4ff2b 548px,#bfff40 577px,#eaff15 606px,#bfff40 635px,#bfff40 664px,#bfff40 693px)"></i><i style="top:35.25px;height:3.18px;background:linear-gradient(90deg,#bfff40 26px,#bfff40 55px,#bfff40 84px,#d4ff2b 113px,#bfff40 142px,#bfff40 171px,#95ff6a 200px,#d4ff2b 229px,#d4ff2b 258px,#bfff40 287px,#bfff40 316px,#d4ff2b 345px,#af5 374px,#af5 403px,#bfff40 432px,#bfff40 461px,#bfff40 490px,#bfff40 519px,#eaff15 548px,#bfff40 577px,#d4ff2b 606px,#bfff40 635px,#bfff40 664px,#bfff40 693px)"></i><i style="top:37.83px;height:3.18px;background:linear-gradient(90deg,#bfff40 26px,#bfff40 55px,#bfff40 84px,#bfff40 113px,#bfff40 142px,#bfff40 171px,#80ff80 200px,#bfff40 229px,#bfff40 258px,#bfff40 287px,#bfff40 316px,#bfff40 345px,#bfff40 374px,#bfff40 403px,#bfff40 432px,#bfff40 461px,#bfff40 490px,#bfff40 519px,#ff0 548px,#bfff40 577px,#bfff40 606px,#bfff40 635px,#bfff40 664px,#bfff40 693px)"></i><i style="top:40.42px;height:3.18px;background:linear-gradient(90deg,#bfff40 26px,#bfff40 55px,#d4ff2b 84px,#bfff40 113px,#bfff40 142px,#bfff40 171px,#95ff6a 200px,#af5 229px,#af5 258px,#bfff40 287px,#bfff40 316px,#bfff40 345px,#bfff40 374px,#bfff40 403px,#bfff40 432px,#bfff40 461px,#d4ff2b 490px,#d4ff2b 519px,#ff0 548px,#bfff40 577px,#bfff40 606px,#bfff40 635px,#bfff40 664px,#bfff40 693px)"></i><i style="top:43.00px;height:3.18px;background:linear-gradient(90deg,#bfff40 26px,#bfff40 55px,#eaff15 84px,#bfff40 113px,#bfff40 142px,#bfff40 171px,#af5 200px,#95ff6a 229px,#95ff6a 258px,#bfff40 287px,#bfff40 316px,#bfff40 345px,#bfff40 374px,#bfff40 403px,#bfff40 432px,#bfff40 461px,#eaff15 490px,#eaff15 519px,#ff0 548px,#bfff40 577px,#bfff40 606px,#bfff40 635px,#bfff40 664px,#bfff40 693px)"></i><i style="top:45.58px;height:3.18px;background:linear-gradient(90deg,#bfff40 26px,#bfff40 55px,#ff0 84px,#bfff40 113px,#bfff40 142px,#bfff40 171px,#bfff40 200px,#80ff80 229px,#80ff80 258px,#bfff40 287px,#bfff40 316px,#bfff40 345px,#bfff40 374px,#bfff40 403px,#bfff40 432px,#bfff40 461px,#ff0 490px,#ff0 519px,#ff0 548px,#bfff40 577px,#bfff40 606px,#bfff40 635px,#bfff40 664px,#bfff40 693px)"></i><i style="top:48.17px;height:3.18px;background:linear-gradient(90deg,#af5 26px,#af5 55px,#eaff15 84px,#d4ff2b 113px,#d4ff2b 142px,#af5 171px,#95ff6a 200px,#80ff80 229px,#80ff80 258px,#af5 287px,#af5 316px,#af5 345px,#bfff40 374px,#bfff40 403px,#bfff40 432px,#bfff40 461px,#eaff15 490px,#eaff15 519px,#eaff15 548px,#bfff40 577px,#bfff40 606px,#bfff40 635px,#bfff40 664px,#bfff40 693px)"></i><i style="top:50.75px;height:3.18px;background:linear-gradient(90deg,#95ff6a 26px,#95ff6a 55px,#d4ff2b 84px,#eaff15 113px,#eaff15 142px,#95ff6a 171px,#6aff95 200px,#80ff80 229px,#80ff80 258px,#95ff6a 287px,#95ff6a 316px,#95ff6a 345px,#bfff40 374px,#bfff40 403px,#bfff40 432px,#bfff40 461px,#d4ff2b 490px,#d4ff2b 519px,#d4ff2b 548px,#bfff40 577px,#bfff40 606px,#bfff40 635px,#bfff40 664px,#bfff40 693px)"></i><i style="top:53.33px;height:3.18px;background:linear-gradient(90deg,#80ff80 26px,#80ff80 55px,#bfff40 84px,#ff0 113px,#ff0 142px,#80ff80 171px,#40ffbf 200px,#80ff80 229px,#80ff80 258px,#80ff80 287px,#80ff80 316px,#80ff80 345px,#bfff40 374px,#bfff40 403px,#bfff40 432px,#bfff40 461px,#bfff40 490px,#bfff40 519px,#bfff40 548px,#bfff40 577px,#bfff40 606px,#bfff40 635px,#bfff40 664px,#bfff40 693px)"></i><i style="top:55.92px;height:3.18px;background:linear-gradient(90deg,#80ff80 26px,#80ff80 55px,#af5 84px,#eaff15 113px,#eaff15 142px,#95ff6a 171px,#40ffbf 200px,#6aff95 229px,#80ff80 258px,#95ff6a 287px,#80ff80 316px,#80ff80 345px,#bfff40 374px,#bfff40 403px,#bfff40 432px,#bfff40 461px,#bfff40 490px,#bfff40 519px,#bfff40 548px,#bfff40 577px,#af5 606px,#af5 635px,#af5 664px,#bfff40 693px)"></i><i style="top:58.50px;height:3.18px;background:linear-gradient(90deg,#80ff80 26px,#80ff80 55px,#95ff6a 84px,#d4ff2b 113px,#d4ff2b 142px,#af5 171px,#40ffbf 200px,#5fa 229px,#80ff80 258px,#af5 287px,#80ff80 316px,#80ff80 345px,#bfff40 374px,#bfff40 403px,#bfff40 432px,#bfff40 461px,#bfff40 490px,#bfff40 519px,#bfff40 548px,#bfff40 577px,#95ff6a 606px,#95ff6a 635px,#95ff6a 664px,#bfff40 693px)"></i><i style="top:61.08px;height:3.18px;background:linear-gradient(90deg,#80ff80 26px,#80ff80 55px,#80ff80 84px,#bfff40 113px,#bfff40 142px,#bfff40 171px,#40ffbf 200px,#40ffbf 229px,#80ff80 258px,#bfff40 287px,#80ff80 316px,#80ff80 345px,#bfff40 374px,#bfff40 403px,#bfff40 432px,#bfff40 461px,#bfff40 490px,#bfff40 519px,#bfff40 548px,#bfff40 577px,#80ff80 606px,#80ff80 635px,#80ff80 664px,#bfff40 693px)"></i><i style="top:63.67px;height:3.18px;background:linear-gradient(90deg,#80ff80 26px,#95ff6a 55px,#80ff80 84px,#af5 113px,#bfff40 142px,#bfff40 171px,#5fa 200px,#40ffbf 229px,#6aff95 258px,#95ff6a 287px,#80ff80 316px,#80ff80 345px,#af5 374px,#af5 403px,#af5 432px,#af5 461px,#bfff40 490px,#af5 519px,#bfff40 548px,#af5 577px,#80ff80 606px,#80ff80 635px,#80ff80 664px,#af5 693px)"></i><i style="top:66.25px;height:3.18px;background:linear-gradient(90deg,#80ff80 26px,#af5 55px,#80ff80 84px,#95ff6a 113px,#bfff40 142px,#bfff40 171px,#6aff95 200px,#40ffbf 229px,#5fa 258px,#6aff95 287px,#80ff80 316px,#80ff80 345px,#95ff6a 374px,#95ff6a 403px,#95ff6a 432px,#95ff6a 461px,#bfff40 490px,#95ff6a 519px,#bfff40 548px,#95ff6a 577px,#80ff80 606px,#80ff80 635px,#80ff80 664px,#95ff6a 693px)"></i><i style="top:68.83px;height:3.18px;background:linear-gradient(90deg,#80ff80 26px,#bfff40 55px,#80ff80 84px,#80ff80 113px,#bfff40 142px,#bfff40 171px,#80ff80 200px,#40ffbf 229px,#40ffbf 258px,#40ffbf 287px,#80ff80 316px,#80ff80 345px,#80ff80 374px,#80ff80 403px,#80ff80 432px,#80ff80 461px,#bfff40 490px,#80ff80 519px,#bfff40 548px,#80ff80 577px,#80ff80 606px,#80ff80 635px,#80ff80 664px,#80ff80 693px)"></i><i style="top:71.42px;height:3.18px;background:linear-gradient(90deg,#6aff95 26px,#95ff6a 55px,#80ff80 84px,#80ff80 113px,#bfff40 142px,#bfff40 171px,#80ff80 200px,#5fa 229px,#40ffbf 258px,#2bffd4 287px,#6aff95 316px,#6aff95 345px,#80ff80 374px,#80ff80 403px,#80ff80 432px,#80ff80 461px,#af5 490px,#80ff80 519px,#af5 548px,#80ff80 577px,#80ff80 606px,#80ff80 635px,#80ff80 664px,#80ff80 693px)"></i><i style="top:74.00px;height:3.18px;background:linear-gradient(90deg,#5fa 26px,#6aff95 55px,#80ff80 84px,#80ff80 113px,#bfff40 142px,#bfff40 171px,#80ff80 200px,#6aff95 229px,#40ffbf 258px,#15ffea 287px,#5fa 316px,#5fa 345px,#80ff80 374px,#80ff80 403px,#80ff80 432px,#80ff80 461px,#95ff6a 490px,#80ff80 519px,#95ff6a 548px,#80ff80 577px,#80ff80 606px,#80ff80 635px,#80ff80 664px,#80ff80 693px)"></i><i style="top:76.58px;height:3.18px;background:linear-gradient(90deg,#40ffbf 26px,#40ffbf 55px,#80ff80 84px,#80ff80 113px,#bfff40 142px,#bfff40 171px,#80ff80 200px,#80ff80 229px,#40ffbf 258px,#0ff 287px,#40ffbf 316px,#40ffbf 345px,#80ff80 374px,#80ff80 403px,#80ff80 432px,#80ff80 461px,#80ff80 490px,#80ff80 519px,#80ff80 548px,#80ff80 577px,#80ff80 606px,#80ff80 635px,#80ff80 664px,#80ff80 693px)"></i><i style="top:79.17px;height:3.18px;background:linear-gradient(90deg,#40ffbf 26px,#2affd5 55px,#6aff95 84px,#80ff80 113px,#af5 142px,#d5ff2a 171px,#95ff6a 200px,#95ff6a 229px,#5fa 258px,#15ffea 287px,#40ffbf 316px,#40ffbf 345px,#6aff95 374px,#80ff80 403px,#80ff80 432px,#80ff80 461px,#80ff80 490px,#80ff80 519px,#80ff80 548px,#80ff80 577px,#6aff95 606px,#80ff80 635px,#80ff80 664px,#80ff80 693px)"></i><i style="top:81.75px;height:3.18px;background:linear-gradient(90deg,#40ffbf 26px,#15ffea 55px,#5fa 84px,#80ff80 113px,#95ff6a 142px,#eaff15 171px,#af5 200px,#af5 229px,#6aff95 258px,#2affd5 287px,#40ffbf 316px,#40ffbf 345px,#5fa 374px,#80ff80 403px,#80ff80 432px,#80ff80 461px,#80ff80 490px,#80ff80 519px,#80ff80 548px,#80ff80 577px,#5fa 606px,#80ff80 635px,#80ff80 664px,#80ff80 693px)"></i><i style="top:84.33px;height:3.18px;background:linear-gradient(90deg,#40ffbf 26px,#0ff 55px,#40ffbf 84px,#80ff80 113px,#80ff80 142px,#ff0 171px,#bfff40 200px,#bfff40 229px,#80ff80 258px,#40ffbf 287px,#40ffbf 316px,#40ffbf 345px,#40ffbf 374px,#80ff80 403px,#80ff80 432px,#80ff80 461px,#80ff80 490px,#80ff80 519px,#80ff80 548px,#80ff80 577px,#40ffbf 606px,#80ff80 635px,#80ff80 664px,#80ff80 693px)"></i><i style="top:86.92px;height:3.18px;background:linear-gradient(90deg,#5fa 26px,#2bffd4 55px,#40ffbf 84px,#6aff95 113px,#80ff80 142px,#eaff15 171px,#bfff40 200px,#af5 229px,#80ff80 258px,#5fa 287px,#5fa 316px,#5fa 345px,#40ffbf 374px,#6aff95 403px,#80ff80 432px,#80ff80 461px,#80ff80 490px,#80ff80 519px,#80ff80 548px,#80ff80 577px,#5fa 606px,#80ff80 635px,#80ff80 664px,#80ff80 693px)"></i><i style="top:89.50px;height:3.18px;background:linear-gradient(90deg,#6aff95 26px,#5fa 55px,#40ffbf 84px,#5fa 113px,#80ff80 142px,#d5ff2a 171px,#bfff40 200px,#95ff6a 229px,#80ff80 258px,#6aff95 287px,#6aff95 316px,#6aff95 345px,#40ffbf 374px,#5fa 403px,#80ff80 432px,#80ff80 461px,#80ff80 490px,#80ff80 519px,#80ff80 548px,#80ff80 577px,#6aff95 606px,#80ff80 635px,#80ff80 664px,#80ff80 693px)"></i><i style="top:92.08px;height:3.18px;background:linear-gradient(90deg,#80ff80 26px,#80ff80 55px,#40ffbf 84px,#40ffbf 113px,#80ff80 142px,#bfff40 171px,#bfff40 200px,#80ff80 229px,#80ff80 258px,#80ff80 287px,#80ff80 316px,#80ff80 345px,#40ffbf 374px,#40ffbf 403px,#80ff80 432px,#80ff80 461px,#80ff80 490px,#80ff80 519px,#80ff80 548px,#80ff80 577px,#80ff80 606px,#80ff80 635px,#80ff80 664px,#80ff80 693px)"></i><i style="top:94.67px;height:3.18px;background:linear-gradient(90deg,#80ff80 26px,#80ff80 55px,#5fa 84px,#2affd5 113px,#6aff95 142px,#af5 171px,#bfff40 200px,#95ff6a 229px,#80ff80 258px,#80ff80 287px,#80ff80 316px,#80ff80 345px,#40ffbf 374px,#40ffbf 403px,#80ff80 432px,#80ff80 461px,#80ff80 490px,#6aff95 519px,#6aff95 548px,#80ff80 577px,#80ff80 606px,#80ff80 635px,#80ff80 664px,#80ff80 693px)"></i><i style="top:97.25px;height:3.18px;background:linear-gradient(90deg,#80ff80 26px,#80ff80 55px,#6aff95 84px,#15ffea 113px,#5fa 142px,#95ff6a 171px,#bfff40 200px,#af5 229px,#80ff80 258px,#80ff80 287px,#80ff80 316px,#80ff80 345px,#40ffbf 374px,#40ffbf 403px,#80ff80 432px,#80ff80 461px,#80ff80 490px,#5fa 519px,#5fa 548px,#80ff80 577px,#80ff80 606px,#80ff80 635px,#80ff80 664px,#80ff80 693px)"></i><i style="top:99.83px;height:3.18px;background:linear-gradient(90deg,#80ff80 26px,#80ff80 55px,#80ff80 84px,#0ff 113px,#40ffbf 142px,#80ff80 171px,#bfff40 200px,#bfff40 229px,#80ff80 258px,#80ff80 287px,#80ff80 316px,#80ff80 345px,#40ffbf 374px,#40ffbf 403px,#80ff80 432px,#80ff80 461px,#80ff80 490px,#40ffbf 519px,#40ffbf 548px,#80ff80 577px,#80ff80 606px,#80ff80 635px,#80ff80 664px,#80ff80 693px)"></i><i style="top:102.42px;height:3.18px;background:linear-gradient(90deg,#80ff80 26px,#80ff80 55px,#80ff80 84px,#2bffd4 113px,#5fa 142px,#80ff80 171px,#af5 200px,#bfff40 229px,#95ff6a 258px,#95ff6a 287px,#95ff6a 316px,#80ff80 345px,#5fa 374px,#5fa 403px,#80ff80 432px,#80ff80 461px,#6aff95 490px,#40ffbf 519px,#40ffbf 548px,#80ff80 577px,#95ff6a 606px,#95ff6a 635px,#95ff6a 664px,#95ff6a 693px)"></i><i style="top:105.00px;height:3.18px;background:linear-gradient(90deg,#80ff80 26px,#80ff80 55px,#80ff80 84px,#5fa 113px,#6aff95 142px,#80ff80 171px,#95ff6a 200px,#bfff40 229px,#af5 258px,#af5 287px,#af5 316px,#80ff80 345px,#6aff95 374px,#6aff95 403px,#80ff80 432px,#80ff80 461px,#5fa 490px,#40ffbf 519px,#40ffbf 548px,#80ff80 577px,#af5 606px,#af5 635px,#af5 664px,#af5 693px)"></i><i style="top:107.58px;height:3.18px;background:linear-gradient(90deg,#80ff80 26px,#80ff80 55px,#80ff80 84px,#80ff80 113px,#80ff80 142px,#80ff80 171px,#80ff80 200px,#bfff40 229px,#bfff40 258px,#bfff40 287px,#bfff40 316px,#80ff80 345px,#80ff80 374px,#80ff80 403px,#80ff80 432px,#80ff80 461px,#40ffbf 490px,#40ffbf 519px,#40ffbf 548px,#80ff80 577px,#bfff40 606px,#bfff40 635px,#bfff40 664px,#bfff40 693px)"></i><i style="top:110.17px;height:3.18px;background:linear-gradient(90deg,#80ff80 26px,#95ff6a 55px,#80ff80 84px,#6aff95 113px,#80ff80 142px,#6aff95 171px,#95ff6a 200px,#95ff6a 229px,#af5 258px,#af5 287px,#bfff40 316px,#95ff6a 345px,#6aff95 374px,#6aff95 403px,#80ff80 432px,#80ff80 461px,#5fa 490px,#5fa 519px,#5fa 548px,#80ff80 577px,#bfff40 606px,#bfff40 635px,#bfff40 664px,#bfff40 693px)"></i><i style="top:112.75px;height:3.18px;background:linear-gradient(90deg,#80ff80 26px,#af5 55px,#80ff80 84px,#5fa 113px,#80ff80 142px,#5fa 171px,#af5 200px,#6aff95 229px,#95ff6a 258px,#95ff6a 287px,#bfff40 316px,#af5 345px,#5fa 374px,#5fa 403px,#80ff80 432px,#80ff80 461px,#6aff95 490px,#6aff95 519px,#6aff95 548px,#80ff80 577px,#bfff40 606px,#bfff40 635px,#bfff40 664px,#bfff40 693px)"></i><i style="top:115.33px;height:3.18px;background:linear-gradient(90deg,#80ff80 26px,#bfff40 55px,#80ff80 84px,#40ffbf 113px,#80ff80 142px,#40ffbf 171px,#bfff40 200px,#40ffbf 229px,#80ff80 258px,#80ff80 287px,#bfff40 316px,#bfff40 345px,#40ffbf 374px,#40ffbf 403px,#80ff80 432px,#80ff80 461px,#80ff80 490px,#80ff80 519px,#80ff80 548px,#80ff80 577px,#bfff40 606px,#bfff40 635px,#bfff40 664px,#bfff40 693px)"></i><i style="top:117.92px;height:3.18px;background:linear-gradient(90deg,#95ff6a 26px,#bfff40 55px,#95ff6a 84px,#40ffbf 113px,#80ff80 142px,#40ffbf 171px,#95ff6a 200px,#95ff6a 229px,#95ff6a 258px,#80ff80 287px,#af5 316px,#d5ff2a 345px,#6aff95 374px,#5fa 403px,#95ff6a 432px,#95ff6a 461px,#95ff6a 490px,#95ff6a 519px,#95ff6a 548px,#95ff6a 577px,#bfff40 606px,#bfff40 635px,#bfff40 664px,#bfff40 693px)"></i><i style="top:120.50px;height:3.18px;background:linear-gradient(90deg,#af5 26px,#bfff40 55px,#af5 84px,#40ffbf 113px,#80ff80 142px,#40ffbf 171px,#6aff95 200px,#eaff15 229px,#af5 258px,#80ff80 287px,#95ff6a 316px,#eaff15 345px,#95ff6a 374px,#6aff95 403px,#af5 432px,#af5 461px,#af5 490px,#af5 519px,#af5 548px,#af5 577px,#bfff40 606px,#bfff40 635px,#bfff40 664px,#bfff40 693px)"></i><i style="top:123.08px;height:3.18px;background:linear-gradient(90deg,#bfff40 26px,#bfff40 55px,#bfff40 84px,#40ffbf 113px,#80ff80 142px,#40ffbf 171px,#40ffbf 200px,#ffbf00 229px,#bfff40 258px,#80ff80 287px,#80ff80 316px,#ff0 345px,#bfff40 374px,#80ff80 403px,#bfff40 432px,#bfff40 461px,#bfff40 490px,#bfff40 519px,#bfff40 548px,#bfff40 577px,#bfff40 606px,#bfff40 635px,#bfff40 664px,#bfff40 693px)"></i><i style="top:125.67px;height:3.18px;background:linear-gradient(90deg,#d5ff2a 26px,#bfff40 55px,#af5 84px,#5fa 113px,#80ff80 142px,#6aff95 171px,#5fa 200px,#ff0 229px,#d5ff2a 258px,#bfff40 287px,#95ff6a 316px,#d4ff2b 345px,#af5 374px,#95ff6a 403px,#bfff40 432px,#bfff40 461px,#bfff40 490px,#d5ff2a 519px,#bfff40 548px,#bfff40 577px,#bfff40 606px,#bfff40 635px,#bfff40 664px,#bfff40 693px)"></i><i style="top:128.25px;height:3.18px;background:linear-gradient(90deg,#eaff15 26px,#bfff40 55px,#95ff6a 84px,#6aff95 113px,#80ff80 142px,#95ff6a 171px,#6aff95 200px,#bfff40 229px,#eaff15 258px,#ff0 287px,#af5 316px,#af5 345px,#95ff6a 374px,#af5 403px,#bfff40 432px,#bfff40 461px,#bfff40 490px,#eaff15 519px,#bfff40 548px,#bfff40 577px,#bfff40 606px,#bfff40 635px,#bfff40 664px,#bfff40 693px)"></i><i style="top:130.83px;height:3.18px;background:linear-gradient(90deg,#ff0 26px,#bfff40 55px,#80ff80 84px,#80ff80 113px,#80ff80 142px,#bfff40 171px,#80ff80 200px,#80ff80 229px,#ff0 258px,#ffbf00 287px,#bfff40 316px,#80ff80 345px,#80ff80 374px,#bfff40 403px,#bfff40 432px,#bfff40 461px,#bfff40 490px,#ff0 519px,#bfff40 548px,#bfff40 577px,#bfff40 606px,#bfff40 635px,#bfff40 664px,#bfff40 693px)"></i><i style="top:133.42px;height:3.18px;background:linear-gradient(90deg,#eaff15 26px,#eaff15 55px,#95ff6a 84px,#80ff80 113px,#80ff80 142px,#95ff6a 171px,#6aff95 200px,#80ff80 229px,#d4ff2b 258px,#ffea00 287px,#d5ff2a 316px,#af5 345px,#95ff6a 374px,#bfff40 403px,#bfff40 432px,#bfff40 461px,#bfff40 490px,#eaff15 519px,#af5 548px,#bfff40 577px,#bfff40 606px,#bfff40 635px,#bfff40 664px,#bfff40 693px)"></i><i style="top:136.00px;height:3.18px;background:linear-gradient(90deg,#d4ff2b 26px,#ffea00 55px,#af5 84px,#80ff80 113px,#80ff80 142px,#6aff95 171px,#5fa 200px,#80ff80 229px,#af5 258px,#eaff15 287px,#eaff15 316px,#d5ff2a 345px,#af5 374px,#bfff40 403px,#bfff40 432px,#bfff40 461px,#bfff40 490px,#d4ff2b 519px,#95ff6a 548px,#bfff40 577px,#bfff40 606px,#bfff40 635px,#bfff40 664px,#bfff40 693px)"></i><i style="top:138.58px;height:3.18px;background:linear-gradient(90deg,#bfff40 26px,#ffbf00 55px,#bfff40 84px,#80ff80 113px,#80ff80 142px,#40ffbf 171px,#40ffbf 200px,#80ff80 229px,#80ff80 258px,#bfff40 287px,#ff0 316px,#ff0 345px,#bfff40 374px,#bfff40 403px,#bfff40 432px,#bfff40 461px,#bfff40 490px,#bfff40 519px,#80ff80 548px,#bfff40 577px,#bfff40 606px,#bfff40 635px,#bfff40 664px,#bfff40 693px)"></i><i style="top:141.17px;height:3.18px;background:linear-gradient(90deg,#af5 26px,#ff0 55px,#eaff15 84px,#80ff80 113px,#95ff6a 142px,#7fff80 171px,#5fa 200px,#6aff95 229px,#80ff80 258px,#af5 287px,#eaff15 316px,#eaff15 345px,#d4ff2b 374px,#af5 403px,#bfff40 432px,#bfff40 461px,#bfff40 490px,#af5 519px,#95ff6a 548px,#d4ff2b 577px,#eaff15 606px,#eaff15 635px,#d4ff2b 664px,#d4ff2b 693px)"></i><i style="top:143.75px;height:3.18px;background:linear-gradient(90deg,#95ff6a 26px,#bfff40 55px,#ffea00 84px,#80ff80 113px,#af5 142px,#bfff40 171px,#6aff95 200px,#5fa 229px,#80ff80 258px,#95ff6a 287px,#d4ff2b 316px,#d4ff2b 345px,#eaff15 374px,#95ff6a 403px,#bfff40 432px,#bfff40 461px,#bfff40 490px,#95ff6a 519px,#af5 548px,#eaff15 577px,#ffea00 606px,#ffea00 635px,#eaff15 664px,#eaff15 693px)"></i><i style="top:146.33px;height:3.18px;background:linear-gradient(90deg,#80ff80 26px,#80ff80 55px,#ffbf00 84px,#80ff80 113px,#bfff40 142px,#ff0 171px,#80ff80 200px,#40ffbf 229px,#80ff80 258px,#80ff80 287px,#bfff40 316px,#bfff40 345px,#ff0 374px,#80ff80 403px,#bfff40 432px,#bfff40 461px,#bfff40 490px,#80ff80 519px,#bfff40 548px,#ff0 577px,#ffbf00 606px,#ffbf00 635px,#ff0 664px,#ff0 693px)"></i><i style="top:148.92px;height:3.18px;background:linear-gradient(90deg,#95ff6a 26px,#95ff6a 55px,#ffea00 84px,#bfff40 113px,#d4ff2b 142px,#eaff15 171px,#95ff6a 200px,#40ffbf 229px,#6aff95 258px,#80ff80 287px,#af5 316px,#af5 345px,#eaff15 374px,#af5 403px,#d4ff2b 432px,#af5 461px,#af5 490px,#bfff40 519px,#ff0 548px,#ffea00 577px,#ffd400 606px,#ffd400 635px,#ffea00 664px,#ff0 693px)"></i><i style="top:151.50px;height:3.18px;background:linear-gradient(90deg,#af5 26px,#af5 55px,#eaff15 84px,#ff0 113px,#eaff15 142px,#d4ff2b 171px,#af5 200px,#40ffbf 229px,#5fa 258px,#80ff80 287px,#95ff6a 316px,#95ff6a 345px,#d4ff2b 374px,#d5ff2a 403px,#eaff15 432px,#95ff6a 461px,#95ff6a 490px,#ff0 519px,#ffbf00 548px,#ffd400 577px,#ffea00 606px,#ffea00 635px,#ffd400 664px,#ff0 693px)"></i><i style="top:154.08px;height:3.18px;background:linear-gradient(90deg,#bfff40 26px,#bfff40 55px,#bfff40 84px,#ffbf00 113px,#ff0 142px,#bfff40 171px,#bfff40 200px,#40ffbf 229px,#40ffbf 258px,#80ff80 287px,#80ff80 316px,#80ff80 345px,#bfff40 374px,#ff0 403px,#ff0 432px,#80ff80 461px,#80ff80 490px,#ffbf00 519px,#ff8000 548px,#ffbf00 577px,#ff0 606px,#ff0 635px,#ffbf00 664px,#ff0 693px)"></i><i style="top:156.67px;height:3.18px;background:linear-gradient(90deg,#95ff6a 26px,#95ff6a 55px,#af5 84px,#ffbf00 113px,#eaff15 142px,#d4ff2b 171px,#af5 200px,#6aff95 229px,#6aff95 258px,#5fa 287px,#6aff95 316px,#6aff95 345px,#af5 374px,#eaff15 403px,#ffea00 432px,#bfff40 461px,#bfff40 490px,#ff9500 519px,#fa0 548px,#ffea00 577px,#ff0 606px,#ff0 635px,#ffd400 664px,#ff0 693px)"></i><i style="top:159.25px;height:3.18px;background:linear-gradient(90deg,#6aff95 26px,#6aff95 55px,#95ff6a 84px,#ffbf00 113px,#d4ff2b 142px,#eaff15 171px,#95ff6a 200px,#95ff6a 229px,#95ff6a 258px,#2affd5 287px,#5fa 316px,#5fa 345px,#95ff6a 374px,#d4ff2b 403px,#ffd400 432px,#ff0 461px,#ff0 490px,#ff6a00 519px,#ffd500 548px,#eaff15 577px,#ff0 606px,#ff0 635px,#ffea00 664px,#ff0 693px)"></i><i style="top:161.83px;height:3.18px;background:linear-gradient(90deg,#40ffbf 26px,#40ffbf 55px,#80ff80 84px,#ffbf00 113px,#bfff40 142px,#ff0 171px,#80ff80 200px,#bfff40 229px,#bfff40 258px,#0ff 287px,#40ffbf 316px,#40ffbf 345px,#80ff80 374px,#bfff40 403px,#ffbf00 432px,#ffbf00 461px,#ffbf00 490px,#ff4000 519px,#ff0 548px,#bfff40 577px,#ff0 606px,#ff0 635px,#ff0 664px,#ff0 693px)"></i><i style="top:164.42px;height:3.18px;background:linear-gradient(90deg,#6aff95 26px,#2bffd4 55px,#6aff95 84px,#ff0 113px,#d4ff2b 142px,#eaff15 171px,#80ff80 200px,#af5 229px,#bfff40 258px,#40ffbf 287px,#5fa 316px,#6aff95 345px,#6aff95 374px,#bfff40 403px,#ffea00 432px,#ffd400 461px,#ffbf00 490px,#ff7f00 519px,#eaff15 548px,#bfff40 577px,#d5ff2a 606px,#d5ff2a 635px,#eaff15 664px,#eaff15 693px)"></i><i style="top:167.00px;height:3.18px;background:linear-gradient(90deg,#95ff6a 26px,#15ffea 55px,#5fa 84px,#bfff40 113px,#eaff15 142px,#d4ff2b 171px,#80ff80 200px,#95ff6a 229px,#bfff40 258px,#80ff7f 287px,#6aff95 316px,#95ff6a 345px,#5fa 374px,#bfff40 403px,#eaff15 432px,#ffea00 461px,#ffbf00 490px,#ffbf00 519px,#d4ff2b 548px,#bfff40 577px,#af5 606px,#af5 635px,#d4ff2b 664px,#d4ff2b 693px)"></i><i style="top:169.58px;height:3.18px;background:linear-gradient(90deg,#bfff40 26px,#0ff 55px,#40ffbf 84px,#80ff80 113px,#ff0 142px,#bfff40 171px,#80ff80 200px,#80ff80 229px,#bfff40 258px,#bfff40 287px,#80ff80 316px,#bfff40 345px,#40ffbf 374px,#bfff40 403px,#bfff40 432px,#ff0 461px,#ffbf00 490px,#ff0 519px,#bfff40 548px,#bfff40 577px,#80ff80 606px,#80ff80 635px,#bfff40 664px,#bfff40 693px)"></i><i style="top:172.17px;height:3.18px;background:linear-gradient(90deg,#d4ff2b 26px,#6aff95 55px,#40ffbf 84px,#95ff6a 113px,#eaff15 142px,#af5 171px,#95ff6a 200px,#95ff6a 229px,#bfff40 258px,#d4ff2b 287px,#95ff6a 316px,#bfff40 345px,#40ffbf 374px,#80ff7f 403px,#d4ff2b 432px,#ff0 461px,#ffea00 490px,#eaff15 519px,#95ff6a 548px,#95ff6a 577px,#80ff80 606px,#80ff80 635px,#bfff40 664px,#bfff40 693px)"></i><i style="top:174.75px;height:3.18px;background:linear-gradient(90deg,#eaff15 26px,#d5ff2a 55px,#40ffbf 84px,#af5 113px,#d4ff2b 142px,#95ff6a 171px,#af5 200px,#af5 229px,#bfff40 258px,#eaff15 287px,#af5 316px,#bfff40 345px,#40ffbf 374px,#40ffbf 403px,#eaff15 432px,#ff0 461px,#eaff15 490px,#d4ff2b 519px,#6aff95 548px,#6aff95 577px,#80ff80 606px,#80ff80 635px,#bfff40 664px,#bfff40 693px)"></i><i style="top:177.33px;height:3.18px;background:linear-gradient(90deg,#ff0 26px,#ffbf00 55px,#40ffbf 84px,#bfff40 113px,#bfff40 142px,#80ff80 171px,#bfff40 200px,#bfff40 229px,#bfff40 258px,#ff0 287px,#bfff40 316px,#bfff40 345px,#40ffbf 374px,#0ff 403px,#ff0 432px,#ff0 461px,#bfff40 490px,#bfff40 519px,#40ffbf 548px,#40ffbf 577px,#80ff80 606px,#80ff80 635px,#bfff40 664px,#bfff40 693px)"></i><i style="top:179.92px;height:3.18px;background:linear-gradient(90deg,#eaff15 26px,#ffea00 55px,#6aff95 84px,#80ff7f 113px,#af5 142px,#80ff80 171px,#bfff40 200px,#bfff40 229px,#bfff40 258px,#d5ff2a 287px,#bfff40 316px,#bfff40 345px,#7fff80 374px,#5fa 403px,#bfff40 432px,#bfff40 461px,#95ff6a 490px,#80ff7f 519px,#2bffd4 548px,#6aff95 577px,#95ff6a 606px,#95ff6a 635px,#bfff40 664px,#bfff40 693px)"></i><i style="top:182.50px;height:3.18px;background:linear-gradient(90deg,#d4ff2b 26px,#eaff15 55px,#95ff6a 84px,#40ffbf 113px,#95ff6a 142px,#80ff80 171px,#bfff40 200px,#bfff40 229px,#bfff40 258px,#af5 287px,#bfff40 316px,#bfff40 345px,#bfff40 374px,#af5 403px,#7fff80 432px,#7fff80 461px,#6aff95 490px,#40ffbf 519px,#15ffea 548px,#95ff6a 577px,#af5 606px,#af5 635px,#bfff40 664px,#bfff40 693px)"></i><i style="top:185.08px;height:3.18px;background:linear-gradient(90deg,#bfff40 26px,#bfff40 55px,#bfff40 84px,#0ff 113px,#80ff80 142px,#80ff80 171px,#bfff40 200px,#bfff40 229px,#bfff40 258px,#80ff80 287px,#bfff40 316px,#bfff40 345px,#ff0 374px,#ff0 403px,#40ffbf 432px,#40ffbf 461px,#40ffbf 490px,#0ff 519px,#0ff 548px,#bfff40 577px,#bfff40 606px,#bfff40 635px,#bfff40 664px,#bfff40 693px)"></i><i style="top:187.67px;height:3.18px;background:linear-gradient(90deg,#d4ff2b 26px,#bfff40 55px,#d4ff2b 84px,#5fa 113px,#95ff6a 142px,#80ff80 171px,#d4ff2b 200px,#bfff40 229px,#bfff40 258px,#95ff6a 287px,#bfff40 316px,#af5 345px,#eaff15 374px,#eaff15 403px,#7fff80 432px,#7fff80 461px,#6aff95 490px,#5fa 519px,#5fa 548px,#d4ff2b 577px,#bfff40 606px,#bfff40 635px,#bfff40 664px,#d4ff2b 693px)"></i><i style="top:190.25px;height:3.18px;background:linear-gradient(90deg,#eaff15 26px,#bfff40 55px,#eaff15 84px,#af5 113px,#af5 142px,#80ff80 171px,#eaff15 200px,#bfff40 229px,#bfff40 258px,#af5 287px,#bfff40 316px,#95ff6a 345px,#d4ff2b 374px,#d4ff2b 403px,#bfff40 432px,#bfff40 461px,#95ff6a 490px,#af5 519px,#af5 548px,#eaff15 577px,#bfff40 606px,#bfff40 635px,#bfff40 664px,#eaff15 693px)"></i><i style="top:192.83px;height:3.18px;background:linear-gradient(90deg,#ff0 26px,#bfff40 55px,#ff0 84px,#ff0 113px,#bfff40 142px,#80ff80 171px,#ff0 200px,#bfff40 229px,#bfff40 258px,#bfff40 287px,#bfff40 316px,#80ff80 345px,#bfff40 374px,#bfff40 403px,#ff0 432px,#ff0 461px,#bfff40 490px,#ff0 519px,#ff0 548px,#ff0 577px,#bfff40 606px,#bfff40 635px,#bfff40 664px,#ff0 693px)"></i><i style="top:195.42px;height:3.18px;background:linear-gradient(90deg,#ff0 26px,#bfff40 55px,#eaff15 84px,#ff0 113px,#bfff40 142px,#95ff6a 171px,#ff0 200px,#d4ff2b 229px,#d4ff2b 258px,#d4ff2b 287px,#d4ff2b 316px,#95ff6a 345px,#af5 374px,#af5 403px,#ff0 432px,#eaff15 461px,#d4ff2b 490px,#ff0 519px,#ff0 548px,#ff0 577px,#d4ff2b 606px,#d4ff2b 635px,#d4ff2b 664px,#ff0 693px)"></i><i style="top:198.00px;height:3.18px;background:linear-gradient(90deg,#ff0 26px,#bfff40 55px,#d4ff2b 84px,#ff0 113px,#bfff40 142px,#af5 171px,#ff0 200px,#eaff15 229px,#eaff15 258px,#eaff15 287px,#eaff15 316px,#af5 345px,#95ff6a 374px,#95ff6a 403px,#ff0 432px,#d4ff2b 461px,#eaff15 490px,#ff0 519px,#ff0 548px,#ff0 577px,#eaff15 606px,#eaff15 635px,#eaff15 664px,#ff0 693px)"></i><i style="top:200.58px;height:3.18px;background:linear-gradient(90deg,#ff0 26px,#bfff40 55px,#bfff40 84px,#ff0 113px,#bfff40 142px,#bfff40 171px,#ff0 200px,#ff0 229px,#ff0 258px,#ff0 287px,#ff0 316px,#bfff40 345px,#80ff80 374px,#80ff80 403px,#ff0 432px,#bfff40 461px,#ff0 490px,#ff0 519px,#ff0 548px,#ff0 577px,#ff0 606px,#ff0 635px,#ff0 664px,#ff0 693px)"></i><i style="top:203.17px;height:3.18px;background:linear-gradient(90deg,#ffea00 26px,#d4ff2b 55px,#d4ff2b 84px,#d5ff2a 113px,#af5 142px,#af5 171px,#ff0 200px,#ffea00 229px,#ff0 258px,#ff0 287px,#ff0 316px,#d4ff2b 345px,#af5 374px,#af5 403px,#ff0 432px,#d4ff2b 461px,#ff0 490px,#ffea00 519px,#ffea00 548px,#ffea00 577px,#ffea00 606px,#ffea00 635px,#ff0 664px,#ff0 693px)"></i><i style="top:205.75px;height:3.18px;background:linear-gradient(90deg,#ffd400 26px,#eaff15 55px,#eaff15 84px,#af5 113px,#95ff6a 142px,#95ff6a 171px,#ff0 200px,#ffd400 229px,#ff0 258px,#ff0 287px,#ff0 316px,#eaff15 345px,#d5ff2a 374px,#d5ff2a 403px,#ff0 432px,#eaff15 461px,#ff0 490px,#ffd400 519px,#ffd400 548px,#ffd400 577px,#ffd400 606px,#ffd400 635px,#ff0 664px,#ff0 693px)"></i><i style="top:208.33px;height:3.18px;background:linear-gradient(90deg,#ffbf00 26px,#ff0 55px,#ff0 84px,#80ff80 113px,#80ff80 142px,#80ff80 171px,#ff0 200px,#ffbf00 229px,#ff0 258px,#ff0 287px,#ff0 316px,#ff0 345px,#ff0 374px,#ff0 403px,#ff0 432px,#ff0 461px,#ff0 490px,#ffbf00 519px,#ffbf00 548px,#ffbf00 577px,#ffbf00 606px,#ffbf00 635px,#ff0 664px,#ff0 693px)"></i><i style="top:210.92px;height:3.18px;background:linear-gradient(90deg,#ffbf00 26px,#ffea00 55px,#ff0 84px,#af5 113px,#80ff80 142px,#95ff6a 171px,#ff0 200px,#ffd400 229px,#ffea00 258px,#ffea00 287px,#ffea00 316px,#ffea00 345px,#ff0 374px,#ff0 403px,#ffea00 432px,#ffea00 461px,#ffea00 490px,#ffbf00 519px,#ffbf00 548px,#fa0 577px,#ffbf00 606px,#ffbf00 635px,#ffea00 664px,#ffea00 693px)"></i><i style="top:213.50px;height:3.18px;background:linear-gradient(90deg,#ffbf00 26px,#ffd400 55px,#ff0 84px,#d5ff2a 113px,#80ff80 142px,#af5 171px,#ff0 200px,#ffea00 229px,#ffd400 258px,#ffd400 287px,#ffd400 316px,#ffd400 345px,#ff0 374px,#ff0 403px,#ffd400 432px,#ffd400 461px,#ffd400 490px,#ffbf00 519px,#ffbf00 548px,#ff9500 577px,#ffbf00 606px,#ffbf00 635px,#ffd400 664px,#ffd400 693px)"></i><i style="top:216.08px;height:3.18px;background:linear-gradient(90deg,#ffbf00 26px,#ffbf00 55px,#ff0 84px,#ff0 113px,#80ff80 142px,#bfff40 171px,#ff0 200px,#ff0 229px,#ffbf00 258px,#ffbf00 287px,#ffbf00 316px,#ffbf00 345px,#ff0 374px,#ff0 403px,#ffbf00 432px,#ffbf00 461px,#ffbf00 490px,#ffbf00 519px,#ffbf00 548px,#ff8000 577px,#ffbf00 606px,#ffbf00 635px,#ffbf00 664px,#ffbf00 693px)"></i><i style="top:218.67px;height:3.18px;background:linear-gradient(90deg,#ffbf00 26px,#ffd400 55px,#ff0 84px,#ff0 113px,#af5 142px,#eaff15 171px,#ffea00 200px,#ff0 229px,#ffd400 258px,#ffd400 287px,#ffbf00 316px,#ffbf00 345px,#ffea00 374px,#ffea00 403px,#ffbf00 432px,#fa0 461px,#ffbf00 490px,#ffbf00 519px,#ffbf00 548px,#ff9500 577px,#ffbf00 606px,#ffbf00 635px,#ffbf00 664px,#ffbf00 693px)"></i><i style="top:221.25px;height:3.18px;background:linear-gradient(90deg,#ffbf00 26px,#ffea00 55px,#ff0 84px,#ff0 113px,#d5ff2a 142px,#ffea00 171px,#ffd400 200px,#ff0 229px,#ffea00 258px,#ffea00 287px,#ffbf00 316px,#ffbf00 345px,#ffd400 374px,#ffd400 403px,#ffbf00 432px,#ff9500 461px,#ffbf00 490px,#ffbf00 519px,#ffbf00 548px,#fa0 577px,#ffbf00 606px,#ffbf00 635px,#ffbf00 664px,#ffbf00 693px)"></i><i style="top:223.83px;height:3.18px;background:linear-gradient(90deg,#ffbf00 26px,#ff0 55px,#ff0 84px,#ff0 113px,#ff0 142px,#ffbf00 171px,#ffbf00 200px,#ff0 229px,#ff0 258px,#ff0 287px,#ffbf00 316px,#ffbf00 345px,#ffbf00 374px,#ffbf00 403px,#ffbf00 432px,#ff8000 461px,#ffbf00 490px,#ffbf00 519px,#ffbf00 548px,#ffbf00 577px,#ffbf00 606px,#ffbf00 635px,#ffbf00 664px,#ffbf00 693px)"></i><i style="top:226.42px;height:3.18px;background:linear-gradient(90deg,#ffd400 26px,#ff0 55px,#ffea00 84px,#ffea00 113px,#eaff15 142px,#ffea00 171px,#ffd400 200px,#ffea00 229px,#ff0 258px,#eaff15 287px,#ffd400 316px,#ffd400 345px,#ffd400 374px,#ffd400 403px,#fa0 432px,#ff9500 461px,#fa0 490px,#ffbf00 519px,#fa0 548px,#ffbf00 577px,#ffd400 606px,#ffbf00 635px,#ffd400 664px,#ffd400 693px)"></i><i style="top:229.00px;height:3.18px;background:linear-gradient(90deg,#ffea00 26px,#ff0 55px,#ffd400 84px,#ffd400 113px,#d4ff2b 142px,#eaff15 171px,#ffea00 200px,#ffd400 229px,#ff0 258px,#d4ff2b 287px,#ffea00 316px,#ffea00 345px,#ffea00 374px,#ffea00 403px,#ff9500 432px,#fa0 461px,#ff9500 490px,#ffbf00 519px,#ff9500 548px,#ffbf00 577px,#ffea00 606px,#ffbf00 635px,#ffea00 664px,#ffea00 693px)"></i><i style="top:231.58px;height:3.18px;background:linear-gradient(90deg,#ff0 26px,#ff0 55px,#ffbf00 84px,#ffbf00 113px,#bfff40 142px,#bfff40 171px,#ff0 200px,#ffbf00 229px,#ff0 258px,#bfff40 287px,#ff0 316px,#ff0 345px,#ff0 374px,#ff0 403px,#ff8000 432px,#ffbf00 461px,#ff8000 490px,#ffbf00 519px,#ff8000 548px,#ffbf00 577px,#ff0 606px,#ffbf00 635px,#ff0 664px,#ff0 693px)"></i><i style="top:234.17px;height:3.18px;background:linear-gradient(90deg,#ff0 26px,#ff0 55px,#ffd400 84px,#ffd400 113px,#d4ff2b 142px,#d4ff2b 171px,#ff0 200px,#fa0 229px,#ffd500 258px,#af5 287px,#eaff15 316px,#eaff15 345px,#eaff15 374px,#ff0 403px,#ff9500 432px,#ffbf00 461px,#ff9500 490px,#fa0 519px,#ff8000 548px,#ffbf00 577px,#ff0 606px,#ffd400 635px,#ff0 664px,#ff0 693px)"></i><i style="top:236.75px;height:3.18px;background:linear-gradient(90deg,#ff0 26px,#ff0 55px,#ffea00 84px,#ffea00 113px,#eaff15 142px,#eaff15 171px,#ff0 200px,#ff9500 229px,#fa0 258px,#95ff6a 287px,#d4ff2b 316px,#d4ff2b 345px,#d4ff2b 374px,#ff0 403px,#fa0 432px,#ffbf00 461px,#fa0 490px,#ff9500 519px,#ff8000 548px,#ffbf00 577px,#ff0 606px,#ffea00 635px,#ff0 664px,#ff0 693px)"></i><i style="top:239.33px;height:3.18px;background:linear-gradient(90deg,#ff0 26px,#ff0 55px,#ff0 84px,#ff0 113px,#ff0 142px,#ff0 171px,#ff0 200px,#ff8000 229px,#ff8000 258px,#80ff80 287px,#bfff40 316px,#bfff40 345px,#bfff40 374px,#ff0 403px,#ffbf00 432px,#ffbf00 461px,#ffbf00 490px,#ff8000 519px,#ff8000 548px,#ffbf00 577px,#ff0 606px,#ff0 635px,#ff0 664px,#ff0 693px)"></i><i style="top:241.92px;height:3.18px;background:linear-gradient(90deg,#ffea00 26px,#ffea00 55px,#eaff15 84px,#ffea00 113px,#ffea00 142px,#ffea00 171px,#ffea00 200px,#fa0 229px,#ffbf00 258px,#eaff15 287px,#eaff15 316px,#ff0 345px,#eaff15 374px,#ff0 403px,#ffbf00 432px,#ffbf00 461px,#ffbf00 490px,#ff8000 519px,#ff9500 548px,#ffd400 577px,#ff0 606px,#ffea00 635px,#ff0 664px,#ffea00 693px)"></i><i style="top:244.50px;height:3.18px;background:linear-gradient(90deg,#ffd400 26px,#ffd400 55px,#d4ff2b 84px,#ffd400 113px,#ffd400 142px,#ffd400 171px,#ffd400 200px,#ffd500 229px,#ff0 258px,#fa0 287px,#ffea00 316px,#ffbf00 345px,#ffea00 374px,#ff0 403px,#ffbf00 432px,#ffbf00 461px,#ffbf00 490px,#ff8000 519px,#fa0 548px,#ffea00 577px,#ff0 606px,#ffd400 635px,#ff0 664px,#ffd400 693px)"></i><i style="top:247.08px;height:3.18px;background:linear-gradient(90deg,#ffbf00 26px,#ffbf00 55px,#bfff40 84px,#ffbf00 113px,#ffbf00 142px,#ffbf00 171px,#ffbf00 200px,#ff0 229px,#bfff40 258px,#ff4000 287px,#ffbf00 316px,#ff8000 345px,#ffbf00 374px,#ff0 403px,#ffbf00 432px,#ffbf00 461px,#ffbf00 490px,#ff8000 519px,#ffbf00 548px,#ff0 577px,#ff0 606px,#ffbf00 635px,#ff0 664px,#ffbf00 693px)"></i><i style="top:249.67px;height:3.18px;background:linear-gradient(90deg,#ffea00 26px,#ffea00 55px,#eaff15 84px,#ffd400 113px,#ffd400 142px,#ffd400 171px,#ffbf00 200px,#ff0 229px,#d4ff2b 258px,#ff9500 287px,#ffd400 316px,#fa0 345px,#fa0 374px,#ffd500 403px,#ffd400 432px,#ffd400 461px,#ffea00 490px,#ffbf00 519px,#ffea00 548px,#ff0 577px,#ff0 606px,#ffd400 635px,#ffea00 664px,#ffbf00 693px)"></i><i style="top:252.25px;height:3.18px;background:linear-gradient(90deg,#eaff15 26px,#eaff15 55px,#ffea00 84px,#ffea00 113px,#ffea00 142px,#ffea00 171px,#ffbf00 200px,#ff0 229px,#eaff15 258px,#ffea00 287px,#ffea00 316px,#ffd500 345px,#ff9500 374px,#fa0 403px,#ffea00 432px,#ffea00 461px,#eaff15 490px,#ff0 519px,#eaff15 548px,#ff0 577px,#ff0 606px,#ffea00 635px,#ffd400 664px,#ffbf00 693px)"></i><i style="top:254.83px;height:3.18px;background:linear-gradient(90deg,#bfff40 26px,#bfff40 55px,#ffbf00 84px,#ff0 113px,#ff0 142px,#ff0 171px,#ffbf00 200px,#ff0 229px,#ff0 258px,#bfff40 287px,#ff0 316px,#ff0 345px,#ff8000 374px,#ff8000 403px,#ff0 432px,#ff0 461px,#bfff40 490px,#bfff40 519px,#bfff40 548px,#ff0 577px,#ff0 606px,#ff0 635px,#ffbf00 664px,#ffbf00 693px)"></i><i style="top:257.42px;height:3.18px;background:linear-gradient(90deg,#d4ff2b 26px,#bfff40 55px,#fa0 84px,#ff0 113px,#ff0 142px,#ffea00 171px,#fa0 200px,#ffea00 229px,#ffea00 258px,#bfff40 287px,#ff0 316px,#ff0 345px,#fa0 374px,#ff9500 403px,#ffea00 432px,#ff0 461px,#d4ff2b 490px,#d4ff2b 519px,#d4ff2b 548px,#ff0 577px,#ffea00 606px,#ff0 635px,#ffd400 664px,#ffd400 693px)"></i><i style="top:260.00px;height:3.18px;background:linear-gradient(90deg,#eaff15 26px,#bfff40 55px,#ff9500 84px,#ff0 113px,#ff0 142px,#ffd500 171px,#ff9500 200px,#ffd500 229px,#ffd500 258px,#bfff40 287px,#ff0 316px,#ff0 345px,#ffd400 374px,#fa0 403px,#ffd500 432px,#ff0 461px,#eaff15 490px,#eaff15 519px,#eaff15 548px,#ff0 577px,#ffd500 606px,#ff0 635px,#ffea00 664px,#ffea00 693px)"></i><i style="top:262.58px;height:3.18px;background:linear-gradient(90deg,#ff0 26px,#bfff40 55px,#ff8000 84px,#ff0 113px,#ff0 142px,#ffbf00 171px,#ff8000 200px,#ffbf00 229px,#ffbf00 258px,#bfff40 287px,#ff0 316px,#ff0 345px,#ff0 374px,#ffbf00 403px,#ffbf00 432px,#ff0 461px,#ff0 490px,#ff0 519px,#ff0 548px,#ff0 577px,#ffbf00 606px,#ff0 635px,#ff0 664px,#ff0 693px)"></i><i style="top:265.17px;height:3.18px;background:linear-gradient(90deg,#ff0 26px,#d5ff2a 55px,#ffd500 84px,#ffea00 113px,#ff0 142px,#ffd500 171px,#ff8000 200px,#ffbf00 229px,#ffbf00 258px,#eaff15 287px,#ffea00 316px,#ffea00 345px,#ffea00 374px,#ffbf00 403px,#ffbf00 432px,#ffd400 461px,#ff0 490px,#ffea00 519px,#ffea00 548px,#ffea00 577px,#ffbf00 606px,#ffea00 635px,#ffea00 664px,#ffea00 693px)"></i><i style="top:267.75px;height:3.18px;background:linear-gradient(90deg,#ff0 26px,#eaff15 55px,#d5ff2a 84px,#ffd500 113px,#ff0 142px,#ffea00 171px,#ff8000 200px,#ffbf00 229px,#ffbf00 258px,#ffea00 287px,#ffd500 316px,#ffd500 345px,#ffd500 374px,#ffbf00 403px,#ffbf00 432px,#fa0 461px,#ff0 490px,#ffd500 519px,#ffd500 548px,#ffd500 577px,#ffbf00 606px,#ffd500 635px,#ffd500 664px,#ffd500 693px)"></i><i style="top:270.33px;height:3.18px;background:linear-gradient(90deg,#ff0 26px,#ff0 55px,#80ff80 84px,#ffbf00 113px,#ff0 142px,#ff0 171px,#ff8000 200px,#ffbf00 229px,#ffbf00 258px,#ffbf00 287px,#ffbf00 316px,#ffbf00 345px,#ffbf00 374px,#ffbf00 403px,#ffbf00 432px,#ff8000 461px,#ff0 490px,#ffbf00 519px,#ffbf00 548px,#ffbf00 577px,#ffbf00 606px,#ffbf00 635px,#ffbf00 664px,#ffbf00 693px)"></i><i style="top:272.92px;height:3.18px;background:linear-gradient(90deg,#ffea00 26px,#ffea00 55px,#af5 84px,#ffd500 113px,#ffea00 142px,#ffea00 171px,#ff6a00 200px,#fa0 229px,#fa0 258px,#fa0 287px,#ffbf00 316px,#ffbf00 345px,#ffbf00 374px,#ffbf00 403px,#ffbf00 432px,#ff9500 461px,#ffea00 490px,#ffbf00 519px,#ffbf00 548px,#ffbf00 577px,#ffbf00 606px,#ffbf00 635px,#ffbf00 664px,#ffbf00 693px)"></i><i style="top:275.50px;height:3.18px;background:linear-gradient(90deg,#ffd500 26px,#ffd500 55px,#d4ff2b 84px,#ffea00 113px,#ffd500 142px,#ffd500 171px,#f50 200px,#ff9500 229px,#ff9500 258px,#ff9500 287px,#ffbf00 316px,#ffbf00 345px,#ffbf00 374px,#ffbf00 403px,#ffbf00 432px,#fa0 461px,#ffd500 490px,#ffbf00 519px,#ffbf00 548px,#ffbf00 577px,#ffbf00 606px,#ffbf00 635px,#ffbf00 664px,#ffbf00 693px)"></i><i style="top:278.08px;height:3.18px;background:linear-gradient(90deg,#ffbf00 26px,#ffbf00 55px,#ff0 84px,#ff0 113px,#ffbf00 142px,#ffbf00 171px,#ff4000 200px,#ff8000 229px,#ff8000 258px,#ff8000 287px,#ffbf00 316px,#ffbf00 345px,#ffbf00 374px,#ffbf00 403px,#ffbf00 432px,#ffbf00 461px,#ffbf00 490px,#ffbf00 519px,#ffbf00 548px,#ffbf00 577px,#ffbf00 606px,#ffbf00 635px,#ffbf00 664px,#ffbf00 693px)"></i><i style="top:280.67px;height:3.18px;background:linear-gradient(90deg,#fa0 26px,#ffbf00 55px,#ff0 84px,#ff0 113px,#ffd500 142px,#fa0 171px,#ff4000 200px,#ff6a00 229px,#ff8000 258px,#ff8000 287px,#ffbf00 316px,#ffbf00 345px,#ffbf00 374px,#fa0 403px,#fa0 432px,#ffbf00 461px,#ffbf00 490px,#ffbf00 519px,#fa0 548px,#fa0 577px,#fa0 606px,#ffbf00 635px,#ffbf00 664px,#ffbf00 693px)"></i><i style="top:283.25px;height:3.18px;background:linear-gradient(90deg,#ff9500 26px,#ffbf00 55px,#ff0 84px,#ff0 113px,#ffea00 142px,#ff9500 171px,#ff4000 200px,#f50 229px,#ff8000 258px,#ff8000 287px,#ffbf00 316px,#ffbf00 345px,#ffbf00 374px,#ff9500 403px,#ff9500 432px,#ffbf00 461px,#ffbf00 490px,#ffbf00 519px,#ff9500 548px,#ff9500 577px,#ff9500 606px,#ffbf00 635px,#ffbf00 664px,#ffbf00 693px)"></i><i style="top:285.83px;height:3.18px;background:linear-gradient(90deg,#ff8000 26px,#ffbf00 55px,#ff0 84px,#ff0 113px,#ff0 142px,#ff8000 171px,#ff4000 200px,#ff4000 229px,#ff8000 258px,#ff8000 287px,#ffbf00 316px,#ffbf00 345px,#ffbf00 374px,#ff8000 403px,#ff8000 432px,#ffbf00 461px,#ffbf00 490px,#ffbf00 519px,#ff8000 548px,#ff8000 577px,#ff8000 606px,#ffbf00 635px,#ffbf00 664px,#ffbf00 693px)"></i><i style="top:288.42px;height:3.18px;background:linear-gradient(90deg,#ff6a00 26px,#ff7f00 55px,#ff0 84px,#ff0 113px,#ff0 142px,#fa0 171px,#ff4000 200px,#ff4000 229px,#ff6a00 258px,#ff9500 287px,#fa0 316px,#fa0 345px,#fa0 374px,#ff9500 403px,#ff8000 432px,#ffbf00 461px,#fa0 490px,#fa0 519px,#ff8000 548px,#ff8000 577px,#ff8000 606px,#ffbf00 635px,#fa0 664px,#fa0 693px)"></i><i style="top:291.00px;height:3.18px;background:linear-gradient(90deg,#f50 26px,#ff4000 55px,#ff0 84px,#ff0 113px,#ff0 142px,#ffd400 171px,#ff4000 200px,#ff4000 229px,#f50 258px,#fa0 287px,#ff9500 316px,#ff9500 345px,#ff9500 374px,#fa0 403px,#ff8000 432px,#ffbf00 461px,#ff9500 490px,#ff9500 519px,#ff8000 548px,#ff8000 577px,#ff8000 606px,#ffbf00 635px,#ff9500 664px,#ff9500 693px)"></i><i style="top:293.58px;height:3.18px;background:linear-gradient(90deg,#ff4000 26px,#f00 55px,#ff0 84px,#ff0 113px,#ff0 142px,#ff0 171px,#ff4000 200px,#ff4000 229px,#ff4000 258px,#ffbf00 287px,#ff8000 316px,#ff8000 345px,#ff8000 374px,#ffbf00 403px,#ff8000 432px,#ffbf00 461px,#ff8000 490px,#ff8000 519px,#ff8000 548px,#ff8000 577px,#ff8000 606px,#ffbf00 635px,#ff8000 664px,#ff8000 693px)"></i><i style="top:296.17px;height:3.18px;background:linear-gradient(90deg,#ff4000 26px,#ff1500 55px,#ffea00 84px,#ffea00 113px,#ff0 142px,#ffd400 171px,#ff2a00 200px,#ff4000 229px,#f50 258px,#fa0 287px,#ff8000 316px,#ff8000 345px,#ff8000 374px,#fa0 403px,#f50 432px,#ff9500 461px,#ff6a00 490px,#ff6a00 519px,#ff6a00 548px,#ff6a00 577px,#ff6a00 606px,#ff9500 635px,#ff6a00 664px,#ff6a00 693px)"></i><i style="top:298.75px;height:3.18px;background:linear-gradient(90deg,#ff4000 26px,#ff2a00 55px,#ffd500 84px,#ffd500 113px,#ff0 142px,#fa0 171px,#ff1500 200px,#ff4000 229px,#ff6a00 258px,#ff9500 287px,#ff8000 316px,#ff8000 345px,#ff8000 374px,#ff9500 403px,#ff2b00 432px,#ff6a00 461px,#f50 490px,#f50 519px,#f50 548px,#f50 577px,#f50 606px,#ff6a00 635px,#f50 664px,#f50 693px)"></i><i style="top:301.33px;height:3.18px;background:linear-gradient(90deg,#ff4000 26px,#ff4000 55px,#ffbf00 84px,#ffbf00 113px,#ff0 142px,#ff8000 171px,#f00 200px,#ff4000 229px,#ff8000 258px,#ff8000 287px,#ff8000 316px,#ff8000 345px,#ff8000 374px,#ff8000 403px,#f00 432px,#ff4000 461px,#ff4000 490px,#ff4000 519px,#ff4000 548px,#ff4000 577px,#ff4000 606px,#ff4000 635px,#ff4000 664px,#ff4000 693px)"></i><i style="top:303.92px;height:3.18px;background:linear-gradient(90deg,#ff4000 26px,#ff4000 55px,#ff7f00 84px,#ff9500 113px,#ffd400 142px,#ff6a00 171px,#ea0000 200px,#ff2a00 229px,#f50 258px,#f50 287px,#f50 316px,#ff6a00 345px,#ff6a00 374px,#ff6a00 403px,#f00 432px,#ff2a00 461px,#ff2a00 490px,#ff2a00 519px,#ff4000 548px,#ff2a00 577px,#ff2a00 606px,#ff4000 635px,#ff4000 664px,#ff4000 693px)"></i><i style="top:306.50px;height:3.18px;background:linear-gradient(90deg,#ff4000 26px,#ff4000 55px,#ff4000 84px,#ff6a00 113px,#fa0 142px,#f50 171px,#d50000 200px,#ff1500 229px,#ff2b00 258px,#ff2b00 287px,#ff2b00 316px,#f50 345px,#f50 374px,#f50 403px,#f00 432px,#ff1500 461px,#ff1500 490px,#ff1500 519px,#ff4000 548px,#ff1500 577px,#ff1500 606px,#ff4000 635px,#ff4000 664px,#ff4000 693px)"></i><i style="top:309.08px;height:3.18px;background:linear-gradient(90deg,#ff4000 26px,#ff4000 55px,#f00 84px,#ff4000 113px,#ff8000 142px,#ff4000 171px,#c00000 200px,#f00 229px,#f00 258px,#f00 287px,#f00 316px,#ff4000 345px,#ff4000 374px,#ff4000 403px,#f00 432px,#f00 461px,#f00 490px,#f00 519px,#ff4000 548px,#f00 577px,#f00 606px,#ff4000 635px,#ff4000 664px,#ff4000 693px)"></i><i style="top:311.67px;height:3.18px;background:linear-gradient(90deg,#ff2a00 26px,#ff2a00 55px,#ff1500 84px,#ff2a00 113px,#ff9500 142px,#ff6a00 171px,#d50000 200px,#ea0000 229px,#f00 258px,#f00 287px,#f00 316px,#ff2a00 345px,#ff4000 374px,#ff4000 403px,#f00 432px,#f00 461px,#f00 490px,#f00 519px,#ff2a00 548px,#f00 577px,#f00 606px,#ff2a00 635px,#ff2a00 664px,#ff2a00 693px)"></i><i style="top:314.25px;height:3.18px;background:linear-gradient(90deg,#ff1500 26px,#ff1500 55px,#ff2a00 84px,#ff1500 113px,#fa0 142px,#ff9500 171px,#ea0000 200px,#d50000 229px,#f00 258px,#f00 287px,#f00 316px,#ff1500 345px,#ff4000 374px,#ff4000 403px,#f00 432px,#f00 461px,#f00 490px,#f00 519px,#ff1500 548px,#f00 577px,#f00 606px,#ff1500 635px,#ff1500 664px,#ff1500 693px)"></i><i style="top:316.83px;height:3.18px;background:linear-gradient(90deg,#f00 26px,#f00 55px,#ff4000 84px,#f00 113px,#ffbf00 142px,#ffbf00 171px,#f00 200px,#c00000 229px,#f00 258px,#f00 287px,#f00 316px,#f00 345px,#ff4000 374px,#ff4000 403px,#f00 432px,#f00 461px,#f00 490px,#f00 519px,#f00 548px,#f00 577px,#f00 606px,#f00 635px,#f00 664px,#f00 693px)"></i><i style="top:319.42px;height:3.18px;background:linear-gradient(90deg,#f00 26px,#f00 55px,#ff2a00 84px,#ff2b00 113px,#ff9500 142px,#ff9500 171px,#f00 200px,#ea0000 229px,#ea0000 258px,#ea0000 287px,#f00 316px,#f00 345px,#ff2a00 374px,#ff4000 403px,#f00 432px,#f00 461px,#f00 490px,#ea0000 519px,#f00 548px,#ea0000 577px,#ea0000 606px,#f00 635px,#f00 664px,#f00 693px)"></i><i style="top:322.00px;height:3.18px;background:linear-gradient(90deg,#f00 26px,#f00 55px,#ff1500 84px,#f50 113px,#ff6a00 142px,#ff6a00 171px,#f00 200px,#ff1500 229px,#d50000 258px,#d50000 287px,#f00 316px,#f00 345px,#ff1500 374px,#ff4000 403px,#f00 432px,#f00 461px,#f00 490px,#d50000 519px,#f00 548px,#d50000 577px,#d50000 606px,#f00 635px,#f00 664px,#f00 693px)"></i><i style="top:324.58px;height:3.18px;background:linear-gradient(90deg,#f00 26px,#f00 55px,#f00 84px,#ff8000 113px,#ff4000 142px,#ff4000 171px,#f00 200px,#ff4000 229px,#c00000 258px,#c00000 287px,#f00 316px,#f00 345px,#f00 374px,#ff4000 403px,#f00 432px,#f00 461px,#f00 490px,#c00000 519px,#f00 548px,#c00000 577px,#c00000 606px,#f00 635px,#f00 664px,#f00 693px)"></i><i style="top:327.17px;height:3.18px;background:linear-gradient(90deg,#f00 26px,#f00 55px,#ea0000 84px,#ff4000 113px,#ff2a00 142px,#ff2a00 171px,#f00 200px,#ff2a00 229px,#d50000 258px,#a00 287px,#ea0000 316px,#ea0000 345px,#ea0000 374px,#ff2a00 403px,#ff1500 432px,#ff1500 461px,#ff1500 490px,#ea0000 519px,#ea0000 548px,#d50000 577px,#d50000 606px,#ea0000 635px,#ea0000 664px,#f00 693px)"></i><i style="top:329.75px;height:3.18px;background:linear-gradient(90deg,#f00 26px,#f00 55px,#d50000 84px,#f00 113px,#ff1500 142px,#ff1500 171px,#f00 200px,#ff1500 229px,#ea0000 258px,#950000 287px,#d50000 316px,#d50000 345px,#d50000 374px,#ff1500 403px,#ff2a00 432px,#ff2a00 461px,#ff2a00 490px,#ff1500 519px,#d50000 548px,#ea0000 577px,#ea0000 606px,#d50000 635px,#d50000 664px,#f00 693px)"></i><i style="top:332.33px;height:3.18px;background:linear-gradient(90deg,#f00 26px,#f00 55px,#c00000 84px,#c00000 113px,#f00 142px,#f00 171px,#f00 200px,#f00 229px,#f00 258px,#800000 287px,#c00000 316px,#c00000 345px,#c00000 374px,#f00 403px,#ff4000 432px,#ff4000 461px,#ff4000 490px,#ff4000 519px,#c00000 548px,#f00 577px,#f00 606px,#c00000 635px,#c00000 664px,#f00 693px)"></i><i style="top:334.92px;height:3.18px;background:linear-gradient(90deg,#ea0000 26px,#ea0000 55px,#d50000 84px,#c00000 113px,#f00 142px,#ff2b00 171px,#ff1500 200px,#f00 229px,#f00 258px,#c00000 287px,#ea0000 316px,#ea0000 345px,#c00000 374px,#f00 403px,#ff2a00 432px,#ff4000 461px,#ff4000 490px,#ff4000 519px,#ea0000 548px,#ff1500 577px,#ff1500 606px,#d50000 635px,#d50000 664px,#ff1500 693px)"></i><i style="top:337.50px;height:3.18px;background:linear-gradient(90deg,#d50000 26px,#d50000 55px,#ea0000 84px,#c00000 113px,#f00 142px,#f50 171px,#ff2a00 200px,#f00 229px,#f00 258px,#f00 287px,#ff1500 316px,#ff1500 345px,#c00000 374px,#f00 403px,#ff1500 432px,#ff4000 461px,#ff4000 490px,#ff4000 519px,#ff1500 548px,#ff2a00 577px,#ff2a00 606px,#ea0000 635px,#ea0000 664px,#ff2a00 693px)"></i><i style="top:340.08px;height:3.18px;background:linear-gradient(90deg,#c00000 26px,#c00000 55px,#f00 84px,#c00000 113px,#f00 142px,#ff8000 171px,#ff4000 200px,#f00 229px,#f00 258px,#ff4000 287px,#ff4000 316px,#ff4000 345px,#c00000 374px,#f00 403px,#f00 432px,#ff4000 461px,#ff4000 490px,#ff4000 519px,#ff4000 548px,#ff4000 577px,#ff4000 606px,#f00 635px,#f00 664px,#ff4000 693px)"></i><i style="top:342.67px;height:3.18px;background:linear-gradient(90deg,#f00 26px,#f00 55px,#f00 84px,#ea0000 113px,#f00 142px,#ff4000 171px,#f50 200px,#ff2b00 229px,#ff1500 258px,#ff2a00 287px,#ff2a00 316px,#ff4000 345px,#d50000 374px,#ea0000 403px,#f00 432px,#ff2a00 461px,#f50 490px,#ff2a00 519px,#ff2a00 548px,#ff2a00 577px,#ff2a00 606px,#ff1500 635px,#ff1500 664px,#ff2a00 693px)"></i><i style="top:345.25px;height:3.18px;background:linear-gradient(90deg,#ff4000 26px,#ff4000 55px,#f00 84px,#ff1500 113px,#f00 142px,#f00 171px,#ff6a00 200px,#f50 229px,#ff2a00 258px,#ff1500 287px,#ff1500 316px,#ff4000 345px,#ea0000 374px,#d50000 403px,#f00 432px,#ff1500 461px,#ff6a00 490px,#ff1500 519px,#ff1500 548px,#ff1500 577px,#ff1500 606px,#ff2a00 635px,#ff2a00 664px,#ff1500 693px)"></i><i style="top:347.83px;height:3.18px;background:linear-gradient(90deg,#ff8000 26px,#ff8000 55px,#f00 84px,#ff4000 113px,#f00 142px,#c00000 171px,#ff8000 200px,#ff8000 229px,#ff4000 258px,#f00 287px,#f00 316px,#ff4000 345px,#f00 374px,#c00000 403px,#f00 432px,#f00 461px,#ff8000 490px,#f00 519px,#f00 548px,#f00 577px,#f00 606px,#ff4000 635px,#ff4000 664px,#f00 693px)"></i><i style="top:350.42px;height:3.18px;background:linear-gradient(90deg,#ff6a00 26px,#ff6a00 55px,#f00 84px,#ff2a00 113px,#ea0000 142px,#d50000 171px,#f50 200px,#ff8000 229px,#f50 258px,#ff2b00 287px,#f00 316px,#ff2a00 345px,#ff1500 374px,#ea0000 403px,#ff2b00 432px,#ff2b00 461px,#ff8000 490px,#ff2b00 519px,#f00 548px,#f00 577px,#f00 606px,#ff4000 635px,#ff2a00 664px,#ff1500 693px)"></i><i style="top:353.00px;height:3.18px;background:linear-gradient(90deg,#f50 26px,#f50 55px,#f00 84px,#ff1500 113px,#d50000 142px,#ea0000 171px,#ff2b00 200px,#ff8000 229px,#ff6a00 258px,#f50 287px,#f00 316px,#ff1500 345px,#ff2a00 374px,#ff1500 403px,#f50 432px,#f50 461px,#ff8000 490px,#f50 519px,#f00 548px,#f00 577px,#f00 606px,#ff4000 635px,#ff1500 664px,#ff2a00 693px)"></i><i style="top:355.58px;height:3.18px;background:linear-gradient(90deg,#ff4000 26px,#ff4000 55px,#f00 84px,#f00 113px,#c00000 142px,#f00 171px,#f00 200px,#ff8000 229px,#ff8000 258px,#ff8000 287px,#f00 316px,#f00 345px,#ff4000 374px,#ff4000 403px,#ff8000 432px,#ff8000 461px,#ff8000 490px,#ff8000 519px,#f00 548px,#f00 577px,#f00 606px,#ff4000 635px,#f00 664px,#ff4000 693px)"></i><i style="top:358.17px;height:3.18px;background:linear-gradient(90deg,#ff2a00 26px,#ff2a00 55px,#f00 84px,#f00 113px,#d50000 142px,#ff1500 171px,#f00 200px,#f50 229px,#ff6a00 258px,#ff9500 287px,#ff2b00 316px,#f00 345px,#ff4000 374px,#ff4000 403px,#ff6a00 432px,#ff8000 461px,#ff6a00 490px,#ff8000 519px,#ff2b00 548px,#ff2b00 577px,#ff1500 606px,#ff4000 635px,#ff1500 664px,#ff4000 693px)"></i><i style="top:360.75px;height:3.18px;background:linear-gradient(90deg,#ff1500 26px,#ff1500 55px,#f00 84px,#f00 113px,#ea0000 142px,#ff2a00 171px,#f00 200px,#ff2b00 229px,#f50 258px,#fa0 287px,#f50 316px,#f00 345px,#ff4000 374px,#ff4000 403px,#f50 432px,#ff8000 461px,#f50 490px,#ff8000 519px,#f50 548px,#f50 577px,#ff2a00 606px,#ff4000 635px,#ff2a00 664px,#ff4000 693px)"></i><i style="top:363.33px;height:3.18px;background:linear-gradient(90deg,#f00 26px,#f00 55px,#f00 84px,#f00 113px,#f00 142px,#ff4000 171px,#f00 200px,#f00 229px,#ff4000 258px,#ffbf00 287px,#ff8000 316px,#f00 345px,#ff4000 374px,#ff4000 403px,#ff4000 432px,#ff8000 461px,#ff4000 490px,#ff8000 519px,#ff8000 548px,#ff8000 577px,#ff4000 606px,#ff4000 635px,#ff4000 664px,#ff4000 693px)"></i><i style="top:365.92px;height:3.18px;background:linear-gradient(90deg,#ff1500 26px,#ff1500 55px,#ff1500 84px,#ff1500 113px,#ff1500 142px,#ff4000 171px,#ff1500 200px,#f00 229px,#ff4000 258px,#ff9500 287px,#ff6a00 316px,#ff1500 345px,#ff2a00 374px,#ff2a00 403px,#ff4000 432px,#ff6a00 461px,#f50 490px,#ff6a00 519px,#ff8000 548px,#ff8000 577px,#f50 606px,#f50 635px,#f50 664px,#f50 693px)"></i><i style="top:368.50px;height:3.18px;background:linear-gradient(90deg,#ff2a00 26px,#ff2a00 55px,#ff2a00 84px,#ff2a00 113px,#ff2a00 142px,#ff4000 171px,#ff2a00 200px,#f00 229px,#ff4000 258px,#ff6a00 287px,#f50 316px,#ff2a00 345px,#ff1500 374px,#ff1500 403px,#ff4000 432px,#f50 461px,#ff6a00 490px,#f50 519px,#ff8000 548px,#ff8000 577px,#ff6a00 606px,#ff6a00 635px,#ff6a00 664px,#ff6a00 693px)"></i><i style="top:371.08px;height:3.18px;background:linear-gradient(90deg,#ff4000 26px,#ff4000 55px,#ff4000 84px,#ff4000 113px,#ff4000 142px,#ff4000 171px,#ff4000 200px,#f00 229px,#ff4000 258px,#ff4000 287px,#ff4000 316px,#ff4000 345px,#f00 374px,#f00 403px,#ff4000 432px,#ff4000 461px,#ff8000 490px,#ff4000 519px,#ff8000 548px,#ff8000 577px,#ff8000 606px,#ff8000 635px,#ff8000 664px,#ff8000 693px)"></i><i style="top:373.67px;height:3.18px;background:linear-gradient(90deg,#ff4000 26px,#ff4000 55px,#ff4000 84px,#ff4000 113px,#ff4000 142px,#ff4000 171px,#ff4000 200px,#ff1500 229px,#ff4000 258px,#ff4000 287px,#ff4000 316px,#f50 345px,#ff1500 374px,#ff1500 403px,#f50 432px,#f50 461px,#ff8000 490px,#f50 519px,#ff6a00 548px,#ff6a00 577px,#ff6a00 606px,#ff6a00 635px,#ff8000 664px,#ff8000 693px)"></i><i style="top:376.25px;height:3.18px;background:linear-gradient(90deg,#ff4000 26px,#ff4000 55px,#ff4000 84px,#ff4000 113px,#ff4000 142px,#ff4000 171px,#ff4000 200px,#ff2a00 229px,#ff4000 258px,#ff4000 287px,#ff4000 316px,#ff6a00 345px,#ff2a00 374px,#ff2a00 403px,#ff6a00 432px,#ff6a00 461px,#ff8000 490px,#ff6a00 519px,#f50 548px,#f50 577px,#f50 606px,#f50 635px,#ff8000 664px,#ff8000 693px)"></i><i style="top:378.83px;height:3.18px;background:linear-gradient(90deg,#ff4000 26px,#ff4000 55px,#ff4000 84px,#ff4000 113px,#ff4000 142px,#ff4000 171px,#ff4000 200px,#ff4000 229px,#ff4000 258px,#ff4000 287px,#ff4000 316px,#ff8000 345px,#ff4000 374px,#ff4000 403px,#ff8000 432px,#ff8000 461px,#ff8000 490px,#ff8000 519px,#ff4000 548px,#ff4000 577px,#ff4000 606px,#ff4000 635px,#ff8000 664px,#ff8000 693px)"></i><i style="top:381.42px;height:15.18px;background:linear-gradient(90deg,#ff4000 26px,#ff4000 55px,#ff4000 84px,#ff4000 113px,#ff4000 142px,#ff4000 171px,#ff4000 200px,#ff4000 229px,#ff4000 258px,#ff4000 287px,#ff4000 316px,#ff8000 345px,#ff4000 374px,#ff4000 403px,#ff8000 432px,#ff8000 461px,#ff8000 490px,#ff8000 519px,#ff4000 548px,#ff4000 577px,#ff4000 606px,#ff4000 635px,#ff8000 664px,#ff8000 693px)"></i></div></div>
<svg width="2026" height="1135" viewBox="0 0 2026 1135"><defs><linearGradient id="jet" x1="0" y1="1" x2="0" y2="0"><stop offset="0.0000" stop-color="#008"/><stop offset="0.0156" stop-color="#008"/><stop offset="0.0156" stop-color="#000098"/><stop offset="0.0312" stop-color="#000098"/><stop offset="0.0312" stop-color="#0000a8"/><stop offset="0.0469" stop-color="#0000a8"/><stop offset="0.0469" stop-color="#0000b8"/><stop offset="0.0625" stop-color="#0000b8"/><stop offset="0.0625" stop-color="#0000c7"/><stop offset="0.0781" stop-color="#0000c7"/><stop offset="0.0781" stop-color="#0000d7"/><stop offset="0.0938" stop-color="#0000d7"/><stop offset="0.0938" stop-color="#0000e7"/><stop offset="0.1094" stop-color="#0000e7"/><stop offset="0.1094" stop-color="#0000f7"/><stop offset="0.1250" stop-color="#0000f7"/><stop offset="0.1250" stop-color="#0008ff"/><stop offset="0.1406" stop-color="#0008ff"/><stop offset="0.1406" stop-color="#0018ff"/><stop offset="0.1562" stop-color="#0018ff"/><stop offset="0.1562" stop-color="#0028ff"/><stop offset="0.1719" stop-color="#0028ff"/><stop offset="0.1719" stop-color="#0038ff"/><stop offset="0.1875" stop-color="#0038ff"/><stop offset="0.1875" stop-color="#0048ff"/><stop offset="0.2031" stop-color="#0048ff"/><stop offset="0.2031" stop-color="#0058ff"/><stop offset="0.2188" stop-color="#0058ff"/><stop offset="0.2188" stop-color="#0068ff"/><stop offset="0.2344" stop-color="#0068ff"/><stop offset="0.2344" stop-color="#0078ff"/><stop offset="0.2500" stop-color="#0078ff"/><stop offset="0.2500" stop-color="#0087ff"/><stop offset="0.2656" stop-color="#0087ff"/><stop offset="0.2656" stop-color="#0097ff"/><stop offset="0.2812" stop-color="#0097ff"/><stop offset="0.2812" stop-color="#00a7ff"/><stop offset="0.2969" stop-color="#00a7ff"/><stop offset="0.2969" stop-color="#00b7ff"/><stop offset="0.3125" stop-color="#00b7ff"/><stop offset="0.3125" stop-color="#00c7ff"/><stop offset="0.3281" stop-color="#00c7ff"/><stop offset="0.3281" stop-color="#00d7ff"/><stop offset="0.3438" stop-color="#00d7ff"/><stop offset="0.3438" stop-color="#00e7ff"/><stop offset="0.3594" stop-color="#00e7ff"/><stop offset="0.3594" stop-color="#00f7ff"/><stop offset="0.3750" stop-color="#00f7ff"/><stop offset="0.3750" stop-color="#08fff7"/><stop offset="0.3906" stop-color="#08fff7"/><stop offset="0.3906" stop-color="#18ffe7"/><stop offset="0.4062" stop-color="#18ffe7"/><stop offset="0.4062" stop-color="#28ffd7"/><stop offset="0.4219" stop-color="#28ffd7"/><stop offset="0.4219" stop-color="#38ffc7"/><stop offset="0.4375" stop-color="#38ffc7"/><stop offset="0.4375" stop-color="#48ffb7"/><stop offset="0.4531" stop-color="#48ffb7"/><stop offset="0.4531" stop-color="#58ffa7"/><stop offset="0.4688" stop-color="#58ffa7"/><stop offset="0.4688" stop-color="#68ff97"/><stop offset="0.4844" stop-color="#68ff97"/><stop offset="0.4844" stop-color="#78ff87"/><stop offset="0.5000" stop-color="#78ff87"/><stop offset="0.5000" stop-color="#87ff78"/><stop offset="0.5156" stop-color="#87ff78"/><stop offset="0.5156" stop-color="#97ff68"/><stop offset="0.5312" stop-color="#97ff68"/><stop offset="0.5312" stop-color="#a7ff58"/><stop offset="0.5469" stop-color="#a7ff58"/><stop offset="0.5469" stop-color="#b7ff48"/><stop offset="0.5625" stop-color="#b7ff48"/><stop offset="0.5625" stop-color="#c7ff38"/><stop offset="0.5781" stop-color="#c7ff38"/><stop offset="0.5781" stop-color="#d7ff28"/><stop offset="0.5938" stop-color="#d7ff28"/><stop offset="0.5938" stop-color="#e7ff18"/><stop offset="0.6094" stop-color="#e7ff18"/><stop offset="0.6094" stop-color="#f7ff08"/><stop offset="0.6250" stop-color="#f7ff08"/><stop offset="0.6250" stop-color="#fff700"/><stop offset="0.6406" stop-color="#fff700"/><stop offset="0.6406" stop-color="#ffe700"/><stop offset="0.6562" stop-color="#ffe700"/><stop offset="0.6562" stop-color="#ffd700"/><stop offset="0.6719" stop-color="#ffd700"/><stop offset="0.6719" stop-color="#ffc700"/><stop offset="0.6875" stop-color="#ffc700"/><stop offset="0.6875" stop-color="#ffb700"/><stop offset="0.7031" stop-color="#ffb700"/><stop offset="0.7031" stop-color="#ffa700"/><stop offset="0.7188" stop-color="#ffa700"/><stop offset="0.7188" stop-color="#ff9700"/><stop offset="0.7344" stop-color="#ff9700"/><stop offset="0.7344" stop-color="#ff8700"/><stop offset="0.7500" stop-color="#ff8700"/><stop offset="0.7500" stop-color="#ff7800"/><stop offset="0.7656" stop-color="#ff7800"/><stop offset="0.7656" stop-color="#ff6800"/><stop offset="0.7812" stop-color="#ff6800"/><stop offset="0.7812" stop-color="#ff5800"/><stop offset="0.7969" stop-color="#ff5800"/><stop offset="0.7969" stop-color="#ff4800"/><stop offset="0.8125" stop-color="#ff4800"/><stop offset="0.8125" stop-color="#ff3800"/><stop offset="0.8281" stop-color="#ff3800"/><stop offset="0.8281" stop-color="#ff2800"/><stop offset="0.8438" stop-color="#ff2800"/><stop offset="0.8438" stop-color="#ff1800"/><stop offset="0.8594" stop-color="#ff1800"/><stop offset="0.8594" stop-color="#ff0800"/><stop offset="0.8750" stop-color="#ff0800"/><stop offset="0.8750" stop-color="#f70000"/><stop offset="0.8906" stop-color="#f70000"/><stop offset="0.8906" stop-color="#e70000"/><stop offset="0.9062" stop-color="#e70000"/><stop offset="0.9062" stop-color="#d70000"/><stop offset="0.9219" stop-color="#d70000"/><stop offset="0.9219" stop-color="#c70000"/><stop offset="0.9375" stop-color="#c70000"/><stop offset="0.9375" stop-color="#b80000"/><stop offset="0.9531" stop-color="#b80000"/><stop offset="0.9531" stop-color="#a80000"/><stop offset="0.9688" stop-color="#a80000"/><stop offset="0.9688" stop-color="#980000"/><stop offset="0.9844" stop-color="#980000"/><stop offset="0.9844" stop-color="#800"/><stop offset="1.0000" stop-color="#800"/></linearGradient></defs><rect x="108" y="28" width="695" height="372" fill="none" stroke="#111" stroke-width="1.6"/><path d="M194.9 400v-7M194.9 28v7M281.8 400v-7M281.8 28v7M368.6 400v-7M368.6 28v7M455.5 400v-7M455.5 28v7M542.4 400v-7M542.4 28v7M629.2 400v-7M629.2 28v7M716.1 400v-7M716.1 28v7M108 121.0h7M803 121.0h-7M108 214.0h7M803 214.0h-7M108 307.0h7M803 307.0h-7" stroke="#111" stroke-width="1.3" fill="none"/><text x="194.9" y="437.6" font-size="30" text-anchor="middle">50</text><text x="281.8" y="437.6" font-size="30" text-anchor="middle">100</text><text x="368.6" y="437.6" font-size="30" text-anchor="middle">150</text><text x="455.5" y="437.6" font-size="30" text-anchor="middle">200</text><text x="542.4" y="437.6" font-size="30" text-anchor="middle">250</text><text x="629.2" y="437.6" font-size="30" text-anchor="middle">300</text><text x="716.1" y="437.6" font-size="30" text-anchor="middle">350</text><text x="803.0" y="437.6" font-size="30" text-anchor="middle">400</text><text x="98.8" y="130.8" font-size="30" text-anchor="end">100</text><text x="98.8" y="223.8" font-size="30" text-anchor="end">200</text><text x="98.8" y="316.8" font-size="30" text-anchor="end">300</text><text x="98.8" y="409.8" font-size="30" text-anchor="end">400</text><text x="455.3" y="472.3" font-size="30" text-anchor="middle">CDP</text><text transform="translate(42.2,214.3) rotate(-90)" font-size="30" text-anchor="middle">Time (ms)</text><rect x="1156" y="28" width="694" height="372" fill="none" stroke="#111" stroke-width="1.6"/><path d="M1242.8 400v-7M1242.8 28v7M1329.5 400v-7M1329.5 28v7M1416.2 400v-7M1416.2 28v7M1503.0 400v-7M1503.0 28v7M1589.8 400v-7M1589.8 28v7M1676.5 400v-7M1676.5 28v7M1763.2 400v-7M1763.2 28v7M1156 121.0h7M1850 121.0h-7M1156 214.0h7M1850 214.0h-7M1156 307.0h7M1850 307.0h-7" stroke="#111" stroke-width="1.3" fill="none"/><text x="1242.8" y="437.6" font-size="30" text-anchor="middle">50</text><text x="1329.5" y="437.6" font-size="30" text-anchor="middle">100</text><text x="1416.2" y="437.6" font-size="30" text-anchor="middle">150</text><text x="1503.0" y="437.6" font-size="30" text-anchor="middle">200</text><text x="1589.8" y="437.6" font-size="30" text-anchor="middle">250</text><text x="1676.5" y="437.6" font-size="30" text-anchor="middle">300</text><text x="1763.2" y="437.6" font-size="30" text-anchor="middle">350</text><text x="1850.0" y="437.6" font-size="30" text-anchor="middle">400</text><text x="1145.8" y="130.8" font-size="30" text-anchor="end">100</text><text x="1145.8" y="223.8" font-size="30" text-anchor="end">200</text><text x="1145.8" y="316.8" font-size="30" text-anchor="end">300</text><text x="1145.8" y="409.8" font-size="30" text-anchor="end">400</text><text x="1502.3" y="472.3" font-size="30" text-anchor="middle">CDP</text><text transform="translate(1089.2,214.3) rotate(-90)" font-size="30" text-anchor="middle">Time (ms)</text><rect x="632" y="591.5" width="695" height="372" fill="none" stroke="#111" stroke-width="1.6"/><path d="M718.9 963.5v-7M718.9 591.5v7M805.8 963.5v-7M805.8 591.5v7M892.6 963.5v-7M892.6 591.5v7M979.5 963.5v-7M979.5 591.5v7M1066.4 963.5v-7M1066.4 591.5v7M1153.2 963.5v-7M1153.2 591.5v7M1240.1 963.5v-7M1240.1 591.5v7M632 684.5h7M1327 684.5h-7M632 777.5h7M1327 777.5h-7M632 870.5h7M1327 870.5h-7" stroke="#111" stroke-width="1.3" fill="none"/><text x="718.9" y="1001.1" font-size="30" text-anchor="middle">50</text><text x="805.8" y="1001.1" font-size="30" text-anchor="middle">100</text><text x="892.6" y="1001.1" font-size="30" text-anchor="middle">150</text><text x="979.5" y="1001.1" font-size="30" text-anchor="middle">200</text><text x="1066.4" y="1001.1" font-size="30" text-anchor="middle">250</text><text x="1153.2" y="1001.1" font-size="30" text-anchor="middle">300</text><text x="1240.1" y="1001.1" font-size="30" text-anchor="middle">350</text><text x="1327.0" y="1001.1" font-size="30" text-anchor="middle">400</text><text x="622.8" y="694.3" font-size="30" text-anchor="end">100</text><text x="622.8" y="787.3" font-size="30" text-anchor="end">200</text><text x="622.8" y="880.3" font-size="30" text-anchor="end">300</text><text x="622.8" y="973.3" font-size="30" text-anchor="end">400</text><text x="979.3" y="1035.8" font-size="30" text-anchor="middle">CDP</text><text transform="translate(566.2,777.8) rotate(-90)" font-size="30" text-anchor="middle">Time (ms)</text><rect x="835.8" y="28" width="27" height="372" fill="url(#jet)" stroke="#111" stroke-width="1.6"/><text x="870.1" y="37.1" font-size="26.6" text-anchor="start">3600</text><text x="870.1" y="90.2" font-size="26.6" text-anchor="start">3400</text><text x="870.1" y="143.4" font-size="26.6" text-anchor="start">3200</text><text x="870.1" y="196.5" font-size="26.6" text-anchor="start">3000</text><text x="870.1" y="249.7" font-size="26.6" text-anchor="start">2800</text><text x="870.1" y="302.8" font-size="26.6" text-anchor="start">2600</text><text x="870.1" y="356.0" font-size="26.6" text-anchor="start">2400</text><text x="870.1" y="409.1" font-size="26.6" text-anchor="start">2200</text><path d="M862.8 81.1h-4.5M862.8 134.3h-4.5M862.8 187.4h-4.5M862.8 240.6h-4.5M862.8 293.7h-4.5M862.8 346.9h-4.5" stroke="#111" stroke-width="1.2" fill="none"/><rect x="1882.8" y="28" width="27" height="372" fill="url(#jet)" stroke="#111" stroke-width="1.6"/><text x="1917.1" y="38.5" font-size="26.6" text-anchor="start">2000</text><text x="1917.1" y="98.4" font-size="26.6" text-anchor="start">1800</text><text x="1917.1" y="158.3" font-size="26.6" text-anchor="start">1600</text><text x="1917.1" y="218.2" font-size="26.6" text-anchor="start">1400</text><text x="1917.1" y="278.1" font-size="26.6" text-anchor="start">1200</text><text x="1917.1" y="338.0" font-size="26.6" text-anchor="start">1000</text><text x="1917.1" y="397.9" font-size="26.6" text-anchor="start">800</text><path d="M1909.8 89.3h-4.5M1909.8 149.2h-4.5M1909.8 209.1h-4.5M1909.8 269.0h-4.5M1909.8 328.9h-4.5M1909.8 388.8h-4.5" stroke="#111" stroke-width="1.2" fill="none"/><rect x="1359.3" y="591.5" width="27.5" height="372" fill="url(#jet)" stroke="#111" stroke-width="1.6"/><text x="1394.1" y="600.6" font-size="26.6" text-anchor="start">2500</text><text x="1394.1" y="693.6" font-size="26.6" text-anchor="start">2400</text><text x="1394.1" y="786.6" font-size="26.6" text-anchor="start">2300</text><text x="1394.1" y="879.6" font-size="26.6" text-anchor="start">2200</text><text x="1394.1" y="972.6" font-size="26.6" text-anchor="start">2100</text><path d="M1386.8 684.5h-4.5M1386.8 777.5h-4.5M1386.8 870.5h-4.5" stroke="#111" stroke-width="1.2" fill="none"/><text transform="translate(956.8,260.5) rotate(-90)" font-size="30"><tspan font-style="italic">v</tspan><tspan font-style="italic" font-size="22" dy="13.7">p</tspan><tspan dy="-13.7"> (m/s)</tspan></text><text transform="translate(2003.5,259.5) rotate(-90)" font-size="30"><tspan font-style="italic">v</tspan><tspan font-style="italic" font-size="22" dy="13.7">s</tspan><tspan dy="-13.7"> (m/s)</tspan></text><text transform="translate(1488.3,835.5) rotate(-90)" font-size="30"><tspan font-style="italic">ρ</tspan><tspan> (kg/m</tspan><tspan font-size="22" dy="-14.3">3</tspan><tspan dy="14.3">)</tspan></text><text x="485.4" y="552.5" font-size="52" text-anchor="middle">(<tspan font-weight="bold">a</tspan>)</text><text x="1531.3" y="552.7" font-size="52" text-anchor="middle">(<tspan font-weight="bold">b</tspan>)</text><text x="1008" y="1116.6" font-size="52" text-anchor="middle">(<tspan font-weight="bold">c</tspan>)</text></svg>
</body></html>
